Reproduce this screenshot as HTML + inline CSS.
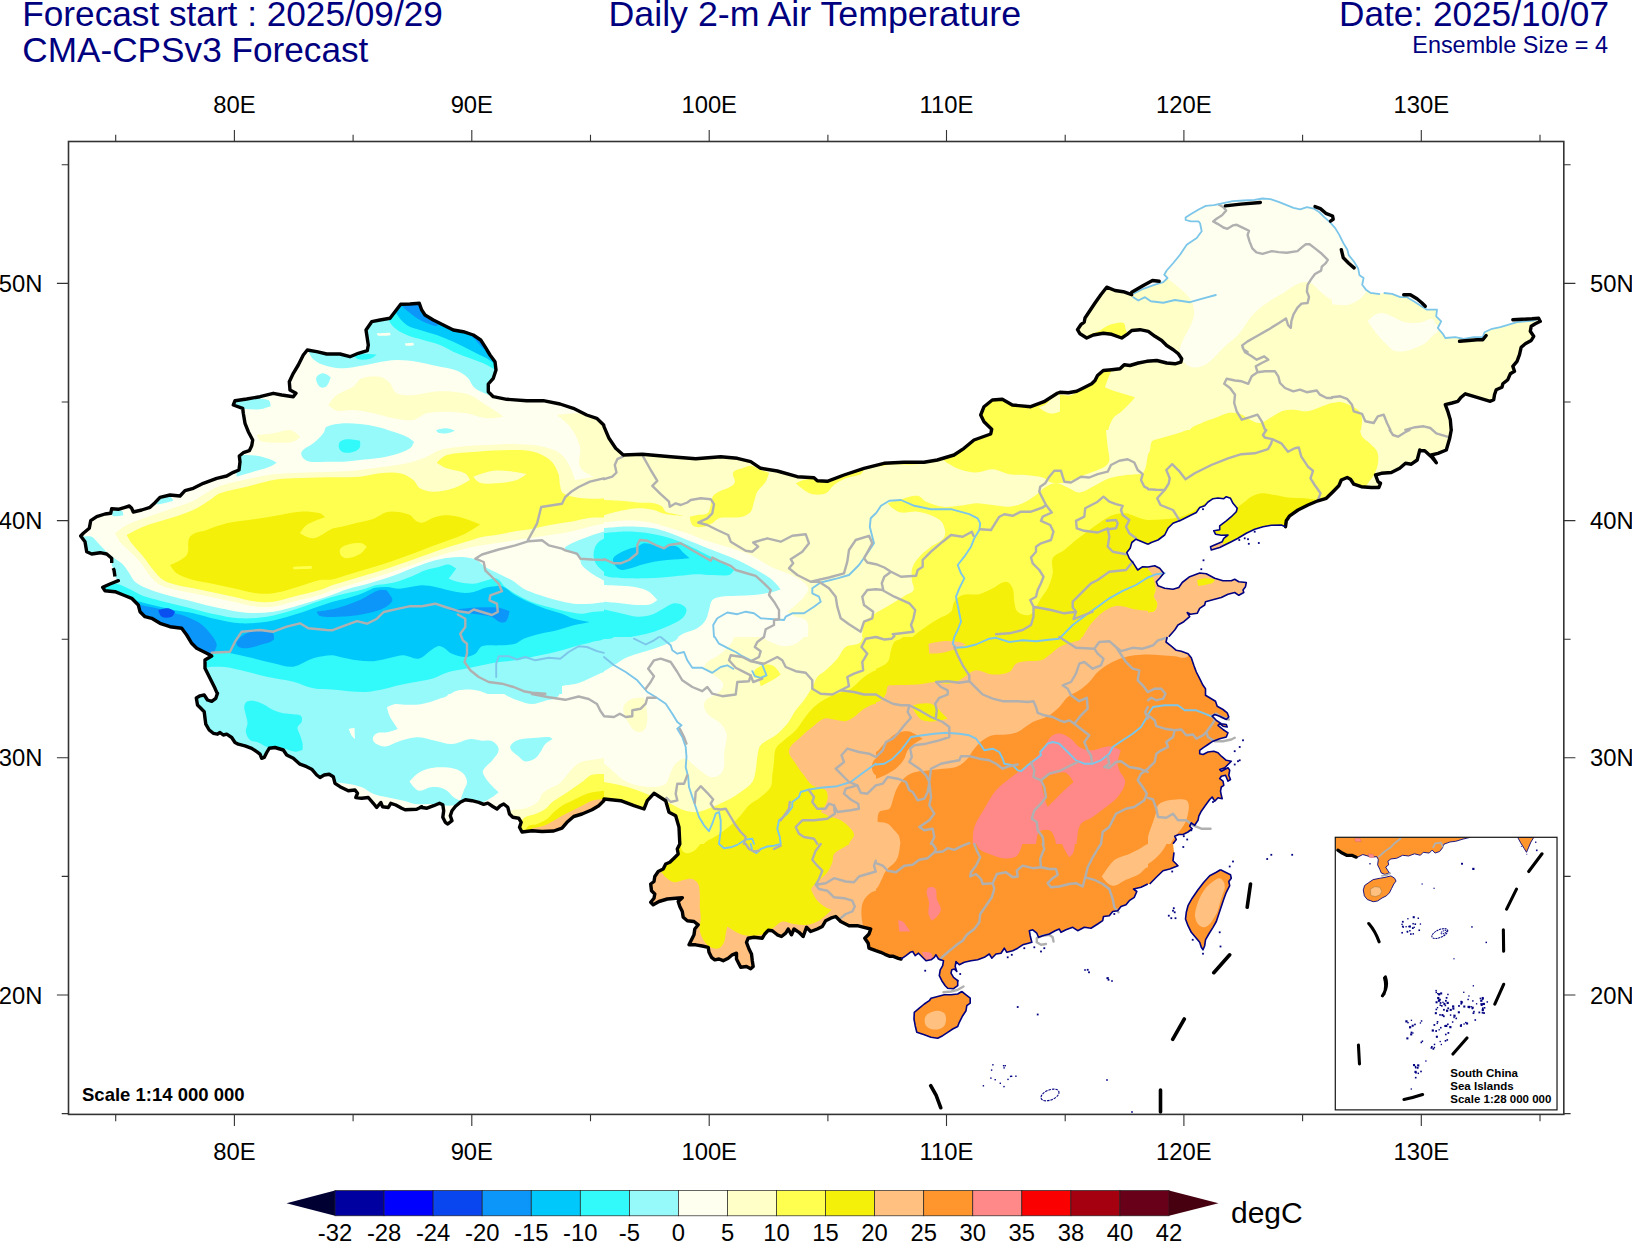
<!DOCTYPE html>
<html><head><meta charset="utf-8"><title>Daily 2-m Air Temperature</title>
<style>
html,body{margin:0;padding:0;background:#fff}
svg{display:block}
text{font-family:"Liberation Sans",sans-serif}
.t1{font-size:35.2px;fill:#00007f}
.t2{font-size:23.4px;fill:#00007f}
.ax{font-size:23.8px;fill:#000}
.cb{font-size:23.8px;fill:#000}
.u{font-size:30px;fill:#000}
.sm{font-size:18.5px;font-weight:bold;fill:#000}
.in{font-size:11.5px;font-weight:bold;fill:#000}
</style></head><body>
<svg width="1632" height="1241" viewBox="0 0 1632 1241">
<defs>
<clipPath id="cn"><path d="M80.7,536.0 L83.3,533.3 L89.3,528.3 L90.7,520.7 L96.7,516.7 L105.0,514.0 L110.7,513.3 L111.7,508.7 L118.3,509.3 L125.0,507.3 L129.3,506.0 L131.7,508.3 L133.3,512.0 L141.7,510.0 L150.0,507.3 L155.0,502.7 L160.0,497.3 L170.0,495.0 L180.0,496.0 L185.0,490.7 L193.3,488.3 L203.3,483.3 L216.7,478.3 L226.7,476.0 L233.3,472.3 L239.0,470.0 L240.0,461.7 L239.3,456.0 L243.3,452.7 L249.3,450.7 L251.7,445.7 L252.7,440.0 L248.3,431.7 L245.0,423.3 L243.3,413.3 L242.7,408.3 L233.3,405.0 L235.0,400.7 L246.7,399.0 L260.0,396.7 L273.3,393.3 L281.7,395.0 L293.3,396.7 L296.0,393.3 L290.0,390.0 L289.3,381.7 L293.3,373.3 L298.3,365.0 L303.3,355.0 L307.3,350.0 L316.7,351.7 L326.7,354.0 L340.0,354.0 L350.0,356.7 L358.3,353.3 L367.3,350.7 L368.3,345.0 L366.0,330.0 L371.7,321.7 L380.0,320.0 L390.0,318.3 L395.0,311.7 L400.7,304.3 L410.0,304.0 L419.3,303.3 L421.7,310.0 L425.0,315.0 L433.3,320.0 L443.3,325.0 L453.3,330.0 L463.3,331.7 L473.3,335.0 L480.7,340.0 L485.0,346.7 L490.0,355.0 L495.0,361.7 L496.0,370.0 L493.3,378.3 L488.3,384.0 L488.3,391.7 L493.3,396.7 L506.7,399.3 L526.7,400.7 L543.3,400.7 L560.0,404.0 L573.3,408.3 L586.7,415.0 L596.7,418.3 L603.7,425.0 L604.0,426.7 L609.0,438.3 L615.7,448.3 L623.3,455.0 L642.3,454.3 L670.7,456.7 L695.7,458.7 L720.7,456.7 L737.3,458.3 L750.7,461.7 L760.7,468.3 L777.3,471.0 L797.3,476.7 L814.0,477.7 L817.3,480.7 L827.3,481.3 L844.0,475.0 L864.0,468.3 L884.0,463.3 L904.0,462.3 L924.0,462.3 L937.3,460.0 L954.0,455.0 L964.0,448.3 L974.0,440.0 L990.7,434.0 L991.7,429.3 L984.0,421.7 L980.7,415.0 L984.0,406.7 L992.3,400.0 L1002.3,399.3 L1012.3,405.0 L1030.7,406.7 L1044.0,401.7 L1057.3,393.3 L1060.0,392.2 L1068.3,392.7 L1076.7,391.3 L1083.3,388.0 L1091.7,383.8 L1095.0,380.5 L1097.5,375.5 L1103.3,370.5 L1111.7,369.7 L1120.0,368.8 L1124.2,364.7 L1130.0,365.5 L1138.3,363.0 L1146.7,361.3 L1156.7,360.5 L1166.7,363.0 L1175.0,363.8 L1180.8,362.2 L1181.7,358.8 L1178.3,353.8 L1173.3,349.7 L1166.7,345.5 L1161.7,340.5 L1155.0,336.3 L1148.3,331.3 L1140.0,329.7 L1131.7,330.5 L1126.7,334.7 L1121.7,338.0 L1111.7,334.3 L1103.3,333.3 L1093.3,335.0 L1086.7,338.0 L1080.0,333.8 L1077.5,329.7 L1077.5,329.7 L1080.8,324.7 L1084.2,322.2 L1085.0,318.0 L1090.0,310.5 L1095.0,303.0 L1100.8,294.7 L1106.7,287.2 L1115.0,290.5 L1123.3,291.7 L1131.7,294.7 L1133.3,293.8 L1143.3,288.8 L1155.0,284.7 L1163.3,282.2 L1167.5,278.0 L1164.2,274.7 L1166.7,270.5 L1173.3,263.0 L1180.0,254.7 L1186.7,244.7 L1196.7,238.0 L1201.7,231.3 L1200.0,223.0 L1200.0,223.0 L1198.4,221.4 L1191.0,221.4 L1185.6,220.0 L1185.6,217.4 L1191.0,214.0 L1199.1,209.3 L1205.8,205.9 L1213.9,205.2 L1223.4,203.2 L1232.8,201.2 L1243.6,200.5 L1254.4,199.8 L1262.5,198.5 L1270.5,199.2 L1278.6,201.9 L1286.7,205.2 L1293.5,207.9 L1300.2,209.3 L1306.9,207.2 L1313.7,208.6 L1319.1,212.0 L1324.5,217.4 L1329.9,222.1 L1335.2,228.1 L1339.3,234.9 L1343.3,243.0 L1347.4,249.7 L1348.7,255.1 L1354.1,261.8 L1358.2,268.6 L1359.5,275.3 L1363.6,278.0 L1362.2,284.8 L1366.3,290.1 L1370.3,292.8 L1380.0,294.2 L1383.7,293.0 L1392.0,293.8 L1400.3,297.2 L1407.0,297.2 L1413.7,301.3 L1420.3,305.5 L1427.0,309.7 L1437.0,309.7 L1436.2,316.3 L1441.2,321.3 L1437.8,328.0 L1442.8,333.8 L1445.3,338.0 L1455.3,337.2 L1463.7,338.8 L1473.7,337.2 L1482.8,337.2 L1484.5,332.2 L1492.0,328.8 L1500.3,327.2 L1508.7,324.7 L1517.0,322.2 L1525.3,321.3 L1533.7,320.5 L1538.7,318.8 L1538.7,318.8 L1540.3,321.3 L1535.3,323.8 L1531.2,326.3 L1530.3,331.3 L1533.7,336.3 L1531.2,340.5 L1525.3,343.8 L1521.2,347.2 L1519.5,354.7 L1517.0,361.3 L1512.8,366.3 L1514.5,371.3 L1510.3,373.8 L1507.8,379.7 L1502.8,383.8 L1502.0,387.2 L1496.2,389.7 L1494.5,394.7 L1493.7,399.7 L1490.3,401.3 L1482.0,398.8 L1473.7,396.3 L1465.3,393.8 L1461.2,397.2 L1457.8,401.3 L1452.0,403.0 L1445.3,404.7 L1447.8,411.3 L1450.3,419.7 L1451.2,429.8 L1451.3,429.7 L1449.7,438.3 L1446.3,450.0 L1438.0,453.3 L1431.3,455.0 L1436.3,462.7 L1431.3,456.7 L1424.7,450.7 L1419.7,450.7 L1419.8,450.0 L1417.2,460.0 L1411.3,464.2 L1405.5,463.3 L1399.7,468.3 L1391.3,472.5 L1381.3,473.3 L1375.5,475.0 L1378.0,481.7 L1380.5,483.3 L1378.8,487.5 L1371.3,487.5 L1361.3,486.7 L1353.8,484.2 L1350.5,479.2 L1347.2,477.5 L1341.3,480.0 L1338.8,485.8 L1333.0,491.7 L1326.3,498.3 L1318.0,500.8 L1308.0,505.0 L1298.0,510.0 L1289.7,515.8 L1286.3,520.8 L1285.5,526.7 L1285.5,526.7 L1281.3,525.0 L1271.3,525.3 L1263.0,526.7 L1254.7,529.2 L1246.3,533.3 L1238.0,538.3 L1231.3,541.7 L1224.7,545.0 L1219.7,547.5 L1211.3,550.0 L1210.5,546.7 L1216.3,544.2 L1222.2,541.7 L1223.8,538.3 L1228.0,535.0 L1221.3,535.3 L1215.5,534.2 L1213.8,530.8 L1219.7,529.7 L1219.7,525.8 L1226.3,520.8 L1231.3,516.7 L1236.3,511.7 L1237.2,508.3 L1233.0,503.3 L1230.5,498.3 L1226.3,496.7 L1223.8,498.7 L1218.0,498.0 L1213.0,498.7 L1208.0,502.0 L1204.7,505.8 L1199.7,507.5 L1196.3,512.5 L1189.7,515.8 L1181.3,520.0 L1173.0,523.3 L1168.0,528.3 L1164.7,535.0 L1158.0,540.0 L1151.3,542.5 L1148.0,544.2 L1148.0,544.2 L1136.0,539.2 L1131.8,542.5 L1130.2,548.3 L1126.8,552.5 L1129.3,558.3 L1133.5,563.3 L1137.7,570.0 L1142.7,566.7 L1148.0,567.0 L1148.0,567.0 L1154.7,565.8 L1159.7,568.3 L1163.8,573.3 L1159.7,578.3 L1156.3,581.7 L1158.0,585.8 L1164.7,588.3 L1173.0,589.2 L1178.8,587.5 L1182.2,582.5 L1189.7,576.7 L1199.7,573.0 L1206.3,573.7 L1214.7,578.3 L1223.0,580.8 L1231.3,580.8 L1234.7,579.2 L1238.8,581.7 L1246.3,582.5 L1245.5,586.7 L1243.0,590.0 L1243.8,592.5 L1238.8,595.3 L1234.7,592.5 L1228.0,594.2 L1221.3,597.5 L1214.7,599.2 L1205.5,601.7 L1204.7,605.0 L1199.7,608.3 L1197.2,613.3 L1190.5,614.2 L1187.2,612.5 L1189.7,616.7 L1183.8,621.7 L1178.0,625.0 L1174.7,630.0 L1168.8,636.8 L1167.2,637.0 L1166.0,642.0 L1171.3,646.2 L1176.3,650.3 L1181.3,651.2 L1188.0,653.7 L1191.3,657.8 L1193.8,665.3 L1196.3,672.0 L1199.7,678.7 L1203.0,685.3 L1205.5,688.7 L1205.5,695.3 L1211.3,698.7 L1215.5,701.2 L1217.2,706.2 L1223.0,709.5 L1227.2,712.8 L1228.8,717.0 L1226.3,719.5 L1219.7,716.2 L1214.7,714.5 L1212.2,716.2 L1216.3,720.3 L1221.3,723.7 L1226.3,724.5 L1227.2,727.0 L1223.0,726.2 L1219.7,723.7 L1218.0,725.3 L1223.0,729.5 L1228.0,732.8 L1226.3,737.0 L1219.7,738.7 L1213.0,741.2 L1208.0,744.5 L1203.0,747.8 L1199.7,750.3 L1199.7,753.7 L1203.0,754.5 L1208.0,752.0 L1213.8,751.2 L1218.0,752.8 L1221.3,756.2 L1226.3,760.3 L1231.3,761.2 L1228.0,764.5 L1224.7,767.8 L1219.7,769.5 L1221.3,771.2 L1228.0,767.8 L1229.7,770.3 L1228.8,775.3 L1230.5,779.5 L1228.0,781.2 L1225.5,775.3 L1221.3,776.2 L1219.7,778.7 L1223.0,781.2 L1223.8,785.3 L1221.3,787.0 L1220.5,791.2 L1221.3,795.3 L1222.2,798.7 L1218.0,797.8 L1214.7,801.2 L1212.2,797.0 L1209.7,799.5 L1205.5,805.3 L1201.3,811.2 L1198.8,816.2 L1198.0,820.3 L1194.7,825.3 L1191.3,822.8 L1189.7,826.2 L1192.2,828.7 L1188.0,832.0 L1183.0,834.5 L1178.8,834.5 L1174.7,836.2 L1176.3,839.5 L1173.0,843.8 L1174.0,852.3 L1173.0,860.7 L1178.0,865.7 L1169.7,869.0 L1163.0,870.7 L1156.3,877.3 L1149.7,884.0 L1147.8,884.0 L1141.0,887.3 L1133.5,889.0 L1136.8,891.5 L1134.3,897.3 L1129.3,900.7 L1126.0,904.8 L1121.0,906.5 L1117.7,910.7 L1112.7,911.5 L1109.3,915.7 L1103.5,916.5 L1102.7,920.7 L1097.7,924.0 L1091.0,928.2 L1084.3,927.3 L1077.7,930.7 L1072.7,927.3 L1066.0,929.8 L1061.0,932.3 L1059.3,929.0 L1055.2,930.7 L1049.3,934.0 L1042.7,935.7 L1038.5,937.3 L1036.8,933.2 L1032.7,929.8 L1029.3,930.7 L1030.2,935.7 L1031.8,942.3 L1028.5,943.2 L1022.7,944.8 L1017.7,948.2 L1012.7,950.7 L1006.8,952.3 L1004.3,948.2 L1001.0,953.2 L996.0,954.0 L991.8,958.2 L989.3,954.0 L984.3,957.3 L977.7,959.8 L971.0,960.7 L964.3,962.3 L959.3,964.8 L956.0,961.5 L955.2,966.5 L956.8,971.5 L954.3,969.0 L951.8,969.8 L951.0,973.2 L953.5,977.3 L957.7,980.7 L957.7,985.7 L953.5,988.7 L947.7,988.2 L945.2,985.7 L941.8,980.7 L939.3,975.7 L940.2,969.8 L942.7,965.7 L943.5,960.7 L938.5,959.0 L936.0,954.8 L934.3,957.3 L931.0,959.8 L926.0,960.7 L921.0,955.7 L918.5,953.2 L915.2,955.7 L912.7,951.5 L910.2,952.3 L906.0,955.7 L901.0,959.0 L901.0,959.0 L898.3,958.3 L893.3,956.3 L890.0,956.3 L885.0,954.3 L880.7,952.3 L875.8,950.7 L869.0,948.2 L868.2,943.2 L864.8,938.2 L869.0,934.0 L870.7,929.0 L864.0,927.3 L857.3,925.7 L849.0,925.7 L840.7,921.5 L835.7,916.5 L830.7,918.2 L825.7,920.7 L822.3,926.5 L817.3,929.0 L810.7,931.5 L806.5,927.3 L803.2,936.5 L799.0,932.3 L794.0,929.0 L791.5,934.8 L788.2,929.0 L785.7,933.2 L781.5,936.5 L777.3,934.8 L772.3,930.7 L768.2,930.3 L764.8,934.0 L762.3,938.2 L754.0,937.3 L748.2,938.2 L746.5,942.3 L749.0,949.0 L751.5,954.0 L752.3,960.7 L753.2,966.5 L750.7,968.7 L746.5,966.5 L740.7,967.3 L739.0,964.0 L736.5,959.0 L736.5,953.2 L732.3,954.8 L728.2,958.2 L723.2,960.7 L719.0,959.0 L714.8,959.8 L711.5,957.3 L709.0,952.3 L708.2,947.3 L702.3,946.0 L695.7,944.8 L689.0,944.8 L691.5,939.8 L694.0,934.8 L694.8,929.0 L698.2,924.8 L694.0,921.5 L687.3,920.7 L683.2,917.3 L682.3,911.5 L679.8,906.5 L678.2,901.5 L682.3,897.7 L675.7,898.2 L667.3,899.0 L659.0,901.5 L653.2,904.8 L650.7,902.3 L654.0,898.2 L654.8,894.0 L651.5,890.7 L650.7,884.0 L654.0,881.5 L654.8,876.5 L658.2,871.5 L663.2,869.0 L665.7,864.0 L669.8,862.3 L674.0,858.2 L678.2,854.0 L677.3,849.0 L679.8,844.0 L679.0,827.3 L675.7,815.7 L669.0,812.3 L665.7,800.7 L654.0,793.3 L647.3,800.7 L644.0,809.0 L634.0,805.7 L620.7,800.7 L604.0,799.0 L603.8,800.7 L598.7,805.7 L592.0,809.8 L582.0,814.0 L573.7,816.5 L567.0,822.3 L562.0,828.2 L553.7,831.0 L542.0,831.5 L532.0,830.7 L522.0,832.0 L519.5,827.3 L521.2,822.3 L518.7,818.2 L512.8,817.3 L509.5,814.0 L507.8,807.3 L503.7,804.0 L500.3,805.7 L497.0,809.0 L492.8,806.5 L487.8,803.2 L483.7,804.3 L478.7,802.3 L472.0,800.7 L465.3,799.8 L460.3,802.3 L455.3,806.5 L452.0,810.7 L450.3,815.7 L452.0,820.7 L447.8,824.0 L445.3,822.3 L442.8,817.3 L443.7,810.7 L442.8,804.8 L439.5,803.2 L433.7,805.7 L427.0,808.2 L420.3,807.3 L421.8,806.7 L416.7,809.2 L405.0,809.7 L401.7,808.3 L395.8,805.0 L390.8,803.3 L388.3,807.5 L382.5,806.7 L380.8,802.5 L376.7,807.5 L373.3,803.3 L368.3,797.5 L361.7,798.3 L355.8,797.5 L357.5,793.3 L355.0,790.0 L348.3,790.8 L340.0,786.7 L335.0,783.3 L333.3,776.7 L329.2,774.2 L324.2,775.0 L320.0,777.5 L316.7,775.0 L311.7,769.2 L306.7,766.7 L300.0,764.2 L293.3,758.3 L286.7,755.0 L283.3,750.0 L275.0,747.5 L269.2,748.3 L266.7,752.5 L264.2,757.5 L261.7,758.3 L260.0,754.2 L256.7,751.7 L251.7,748.3 L245.0,745.8 L238.3,744.2 L235.0,742.5 L231.7,737.5 L226.7,734.2 L223.3,735.0 L220.0,732.5 L217.5,734.2 L213.3,733.3 L209.2,730.0 L205.8,724.2 L205.0,718.3 L204.2,711.7 L200.8,708.3 L197.5,705.0 L196.3,698.0 L200.0,695.8 L204.2,695.0 L207.5,700.0 L211.7,701.3 L215.8,698.3 L217.5,693.3 L217.3,693.7 L215.0,688.3 L210.0,678.3 L205.0,668.3 L205.0,660.0 L211.7,656.0 L206.7,653.3 L196.7,648.3 L191.7,643.3 L186.7,635.0 L181.7,628.3 L170.0,626.7 L160.0,623.3 L151.7,618.3 L145.0,616.7 L140.0,611.7 L138.3,605.0 L131.7,598.3 L123.3,595.0 L115.0,591.7 L105.0,590.7 L102.7,587.3 L110.0,584.0 L118.3,580.7 L118.3,580.7 L115.0,576.7 L114.0,570.0 L111.7,565.0 L111.7,558.3 L106.7,554.0 L100.0,552.7 L100.0,552.7 L91.7,554.0 L86.7,551.7 L85.0,541.7 L80.7,536.0Z M1220.5,869.8 L1225.5,872.3 L1230.5,874.8 L1231.3,878.2 L1228.8,881.5 L1229.7,885.7 L1226.3,892.3 L1223.8,899.0 L1221.3,906.5 L1218.8,914.0 L1216.3,921.5 L1213.0,927.3 L1208.8,934.0 L1205.5,939.8 L1204.7,945.7 L1203.0,949.8 L1201.3,947.3 L1199.7,942.3 L1195.5,937.3 L1191.3,932.3 L1188.0,925.7 L1185.5,919.0 L1186.3,912.3 L1188.0,905.7 L1192.2,898.2 L1198.0,889.8 L1203.8,882.3 L1209.7,875.7 L1216.3,872.3 L1220.5,869.8Z M961.8,991.5 L966.0,994.8 L970.2,998.2 L970.2,1003.2 L966.8,1005.7 L966.0,1010.7 L962.7,1015.7 L959.3,1022.3 L957.7,1026.5 L952.7,1029.0 L947.7,1032.3 L942.7,1035.7 L937.7,1038.2 L931.0,1037.3 L924.3,1034.8 L916.8,1032.3 L915.2,1025.7 L914.0,1019.0 L914.3,1012.3 L919.3,1008.2 L924.3,1004.0 L929.3,1000.7 L931.0,998.2 L937.7,996.5 L944.3,994.8 L951.0,994.8 L957.7,994.0 L961.8,991.5Z"/></clipPath>
<clipPath id="tA"><rect x="60" y="280" width="544" height="414"/></clipPath>
<clipPath id="tB1"><rect x="604" y="430" width="272" height="207"/></clipPath>
<clipPath id="tB2"><rect x="876" y="430" width="272" height="207"/></clipPath>
<clipPath id="tB3"><rect x="1148" y="430" width="272" height="207"/></clipPath>
<clipPath id="tBU"><rect x="876" y="340" width="184" height="90"/></clipPath>
<clipPath id="tC0"><rect x="1160" y="185" width="220" height="39"/></clipPath>
<clipPath id="tC1"><rect x="1060" y="223" width="272" height="207"/></clipPath>
<clipPath id="tC2"><rect x="1332" y="223" width="272" height="207"/></clipPath>
<clipPath id="tD0"><rect x="150" y="694" width="182" height="173"/></clipPath>
<clipPath id="tD1"><rect x="332" y="694" width="272" height="207"/></clipPath>
<clipPath id="tE1"><rect x="604" y="637" width="272" height="207"/></clipPath>
<clipPath id="tE2"><rect x="876" y="637" width="272" height="207"/></clipPath>
<clipPath id="tE3"><rect x="1148" y="637" width="272" height="207"/></clipPath>
<clipPath id="tG1"><rect x="604" y="844" width="272" height="207"/></clipPath>
<clipPath id="tG2"><rect x="876" y="844" width="272" height="207"/></clipPath>
<clipPath id="tG3"><rect x="1148" y="844" width="272" height="207"/></clipPath>
</defs>
<rect width="1632" height="1241" fill="#fff"/>
<text class="t1" x="22.3" y="26.2">Forecast start : 2025/09/29</text>
<text class="t1" x="22.3" y="61.8">CMA-CPSv3 Forecast</text>
<text class="t1" x="814.8" y="26.2" text-anchor="middle" textLength="412.6" lengthAdjust="spacingAndGlyphs">Daily 2-m Air Temperature</text>
<text class="t1" x="1609" y="26.2" text-anchor="end">Date: 2025/10/07</text>
<text class="t2" x="1608" y="52.8" text-anchor="end">Ensemble Size = 4</text>
<g clip-path="url(#cn)">
<rect x="60" y="150" width="1510" height="960" fill="#FFFFC8"/>
<g clip-path="url(#tA)">
<rect x="59.0" y="279.0" width="546.0" height="416.0" fill="#FFFFF0"/>
<path fill="#96FAFA" d="M306.7,346.7 C306.7,346.7 309.9,356.1 313.3,359.3 C316.9,362.8 322.0,364.6 326.7,366.0 C332.0,367.6 337.8,368.3 343.3,368.3 C348.9,368.3 354.5,366.9 360.0,366.0 C365.5,365.1 371.1,363.6 376.7,362.7 C383.2,361.6 390.0,360.2 396.7,360.0 C403.3,359.8 410.1,360.7 416.7,361.7 C423.3,362.7 430.1,364.6 436.7,366.0 C442.7,367.3 449.2,367.9 455.0,370.0 C459.4,371.6 463.8,374.1 467.3,377.3 C470.3,380.0 471.1,384.6 474.0,387.3 C476.6,389.8 480.0,391.4 483.3,392.7 C486.5,393.9 490.4,396.6 493.3,395.0 C499.2,391.8 504.3,386.2 506.7,380.0 C509.0,373.8 508.5,366.3 506.7,360.0 C504.0,350.5 501.0,339.4 493.3,333.3 C473.6,317.7 450.2,305.3 426.7,296.7 C416.3,292.9 403.9,293.5 393.3,296.7 C381.0,300.4 367.1,306.0 360.0,316.7 C354.5,324.9 360.0,346.7 360.0,346.7 C360.0,346.7 337.7,346.7 326.7,346.7 C320.1,346.7 306.7,346.7 306.7,346.7Z"/>
<path fill="#32FAFA" d="M388.3,316.7 C388.3,320.4 390.7,324.1 393.3,326.7 C397.0,330.3 401.9,332.9 406.7,335.0 C411.9,337.3 417.8,338.4 423.3,340.0 C428.8,341.6 434.6,342.9 440.0,345.0 C444.6,346.8 448.8,349.7 453.3,351.7 C458.7,354.1 464.5,356.2 470.0,358.3 C474.4,360.0 479.1,361.4 483.3,363.3 C487.9,365.4 496.7,370.7 496.7,370.7 C496.7,370.7 507.1,364.8 506.7,360.0 C505.8,350.2 501.0,339.4 493.3,333.3 C473.6,317.7 450.5,304.6 426.7,296.7 C416.2,293.2 403.1,294.9 393.3,300.0 C388.2,302.7 388.3,310.9 388.3,316.7Z"/>
<path fill="#32FAFA" d="M353.3,355.3 C353.3,355.3 362.2,354.1 366.7,354.0 C370.0,353.9 376.7,354.7 376.7,354.7 C376.7,354.7 372.5,358.0 370.0,358.7 C366.3,359.6 362.1,360.1 358.3,359.3 C356.3,358.9 353.3,355.3 353.3,355.3Z"/>
<path fill="#00C8FA" d="M395.0,310.7 C397.3,316.3 401.8,321.3 406.7,325.0 C410.4,327.9 415.5,328.5 420.0,330.0 C425.4,331.8 431.2,333.1 436.7,335.0 C442.3,337.0 447.9,339.2 453.3,341.7 C458.9,344.2 464.5,347.2 470.0,350.0 C475.5,352.8 481.2,355.5 486.7,358.3 C490.2,360.2 493.4,364.3 497.3,364.0 C501.2,363.7 506.7,356.7 506.7,356.7 C506.7,356.7 500.4,338.7 493.3,333.3 C473.2,318.3 450.4,304.9 426.7,296.7 C417.2,293.4 405.8,296.0 396.7,300.0 C393.4,301.4 393.7,307.4 395.0,310.7Z"/>
<path fill="#0C96FA" d="M399.3,303.3 C399.3,303.3 403.3,307.4 405.3,309.3 C406.9,310.8 408.6,312.1 410.3,313.3 C413.0,315.4 415.8,317.6 418.7,319.3 C421.3,320.9 424.2,322.2 427.0,323.3 C429.7,324.4 432.5,325.6 435.3,326.0 C436.5,326.2 438.7,325.0 438.7,325.0 C438.7,325.0 434.3,322.0 432.0,320.7 C429.9,319.4 427.4,318.7 425.3,317.3 C424.0,316.5 422.9,315.3 422.0,314.0 C421.1,312.8 419.9,311.5 420.0,310.0 C420.3,306.5 423.3,300.0 423.3,300.0 C423.3,300.0 399.3,303.3 399.3,303.3Z"/>
<path fill="#0C96FA" d="M467.3,332.7 C467.3,332.7 472.6,337.0 475.0,339.3 C477.0,341.4 478.6,344.0 480.7,346.0 C481.8,347.2 483.0,348.9 484.7,349.0 C486.1,349.1 488.3,346.7 488.3,346.7 C488.3,346.7 484.6,342.1 482.7,340.0 C480.8,337.9 478.9,335.7 476.7,334.0 C475.2,332.9 473.5,331.9 471.7,331.7 C470.2,331.5 467.3,332.7 467.3,332.7Z"/>
<path fill="#FFFFF0" d="M376.7,333.3 C376.7,333.3 390.0,332.7 390.0,332.7 C390.0,332.7 390.7,335.3 390.7,335.3 C390.7,335.3 382.4,336.2 378.3,335.7 C377.4,335.5 376.7,333.3 376.7,333.3Z"/>
<path fill="#FFFFF0" d="M405.0,343.3 C405.0,343.3 413.3,342.7 413.3,342.7 C413.3,342.7 414.0,345.3 414.0,345.3 C414.0,345.3 408.6,346.2 406.0,345.7 C405.2,345.5 405.0,343.3 405.0,343.3Z"/>
<path fill="#96FAFA" d="M316.7,376.7 C318.2,374.7 320.9,373.2 323.3,373.3 C326.1,373.5 330.7,377.3 330.7,377.3 C330.7,377.3 328.9,383.8 326.7,386.0 C325.2,387.4 322.5,388.1 320.7,387.3 C318.6,386.4 317.5,383.8 316.7,381.7 C316.1,380.1 315.6,378.0 316.7,376.7Z"/>
<path fill="#96FAFA" d="M228.3,400.7 C228.3,400.7 240.6,398.8 246.7,398.7 C253.8,398.5 261.5,397.9 268.3,400.0 C270.4,400.6 270.7,406.0 270.7,406.0 C270.7,406.0 263.7,409.0 260.0,409.3 C254.5,409.9 248.8,409.0 243.3,408.7 C238.9,408.4 233.9,409.4 230.0,407.3 C228.0,406.3 228.3,400.7 228.3,400.7Z"/>
<path fill="#96FAFA" d="M301.7,451.7 C304.3,447.7 309.7,446.4 313.3,443.3 C316.9,440.3 320.4,437.0 323.3,433.3 C324.9,431.4 324.5,427.8 326.7,426.7 C331.7,424.2 337.7,423.8 343.3,423.3 C348.8,422.9 354.5,423.5 360.0,424.0 C365.5,424.6 371.2,425.4 376.7,426.7 C382.3,428.0 387.9,429.9 393.3,431.7 C397.8,433.2 402.4,434.6 406.7,436.7 C409.3,437.9 414.0,441.7 414.0,441.7 C414.0,441.7 412.2,446.9 410.0,448.3 C405.0,451.5 399.0,453.3 393.3,455.0 C388.0,456.6 382.2,457.5 376.7,458.3 C371.2,459.2 365.5,459.4 360.0,460.0 C354.5,460.6 348.9,461.4 343.3,461.7 C337.8,461.9 332.2,461.7 326.7,461.7 C321.2,461.7 315.4,462.4 310.0,461.7 C307.6,461.3 304.9,460.2 303.3,458.3 C301.9,456.6 300.4,453.6 301.7,451.7Z"/>
<path fill="#32FAFA" d="M339.3,442.7 C340.6,440.3 344.0,439.6 346.7,439.3 C351.1,438.9 360.0,440.7 360.0,440.7 C360.0,440.7 361.0,446.4 359.3,448.3 C357.2,450.9 353.4,452.2 350.0,452.7 C346.9,453.1 343.0,452.8 340.7,450.7 C338.7,448.8 338.1,445.0 339.3,442.7Z"/>
<path fill="#96FAFA" d="M436.0,430.0 C436.0,430.0 443.1,428.2 446.7,428.3 C449.5,428.4 455.0,430.7 455.0,430.7 C455.0,430.7 449.5,433.0 446.7,433.3 C443.9,433.7 441.0,433.5 438.3,432.7 C437.2,432.3 436.0,430.0 436.0,430.0Z"/>
<path fill="#96FAFA" d="M235.0,455.0 C235.0,455.0 249.6,454.8 256.7,455.7 C261.2,456.2 265.7,457.8 270.0,459.3 C272.3,460.1 276.7,462.7 276.7,462.7 C276.7,462.7 271.3,466.2 268.3,467.3 C263.5,469.2 258.3,470.2 253.3,471.7 C247.8,473.3 236.7,476.7 236.7,476.7 C236.7,476.7 235.0,455.0 235.0,455.0Z"/>
<path fill="#96FAFA" d="M153.3,498.3 C153.3,498.3 164.5,496.0 170.0,496.7 C171.7,496.9 173.3,500.7 173.3,500.7 C173.3,500.7 164.5,503.3 160.0,504.0 C157.8,504.4 153.3,504.0 153.3,504.0 C153.3,504.0 153.3,498.3 153.3,498.3Z"/>
<path fill="#96FAFA" d="M110.0,511.7 C110.0,511.7 117.9,509.6 121.7,510.7 C123.2,511.1 123.3,515.3 123.3,515.3 C123.3,515.3 116.5,516.9 113.3,516.0 C111.6,515.5 110.0,511.7 110.0,511.7Z"/>
<path fill="#FFFFC8" d="M328.3,405.0 C328.3,405.0 333.2,397.5 336.7,395.0 C341.6,391.4 348.2,390.1 353.3,386.7 C356.6,384.5 358.0,379.7 361.7,378.3 C367.4,376.2 374.0,375.6 380.0,376.7 C383.9,377.4 387.2,380.5 390.0,383.3 C392.8,386.1 393.1,391.6 396.7,393.3 C401.6,395.8 407.8,395.3 413.3,395.0 C420.0,394.7 426.7,392.2 433.3,391.7 C439.9,391.1 446.8,391.1 453.3,391.7 C458.9,392.2 464.8,393.0 470.0,395.0 C474.8,396.9 478.9,400.6 483.3,403.3 C487.7,406.1 492.3,408.8 496.7,411.7 C499.0,413.2 503.3,416.7 503.3,416.7 C503.3,416.7 492.2,418.8 486.7,418.3 C479.9,417.7 473.4,414.5 466.7,413.3 C460.1,412.2 453.3,411.7 446.7,411.7 C440.0,411.7 433.1,411.7 426.7,413.3 C421.9,414.5 418.2,419.3 413.3,420.0 C406.8,421.0 399.9,419.4 393.3,418.3 C386.6,417.2 380.0,414.7 373.3,413.3 C366.8,412.0 360.0,410.5 353.3,410.0 C347.8,409.6 342.1,411.7 336.7,410.7 C333.4,410.0 328.3,405.0 328.3,405.0Z"/>
<path fill="#FFFFC8" d="M256.7,435.0 C256.7,435.0 267.9,434.2 273.3,433.3 C278.9,432.5 284.4,429.3 290.0,430.0 C293.9,430.5 300.0,436.7 300.0,436.7 C300.0,436.7 296.0,441.1 293.3,441.7 C286.9,443.1 279.9,442.9 273.3,442.7 C268.9,442.5 264.0,442.5 260.0,440.7 C258.0,439.8 256.7,435.0 256.7,435.0Z"/>
<path fill="#FFFFC8" d="M556.7,415.0 C556.7,415.0 572.3,412.6 580.0,413.3 C589.0,414.2 606.7,420.0 606.7,420.0 C606.7,420.0 606.7,480.0 606.7,480.0 C606.7,480.0 597.4,478.7 593.3,476.7 C588.4,474.2 582.2,471.7 580.0,466.7 C577.3,460.6 581.6,453.1 580.0,446.7 C578.2,439.5 574.4,432.6 570.0,426.7 C566.5,422.0 556.7,415.0 556.7,415.0Z"/>
<path fill="#FFFFC8" d="M115.0,533.3 C115.0,533.3 122.4,527.1 126.7,525.0 C133.0,521.8 140.0,519.7 146.7,517.3 C154.3,514.6 162.3,512.1 170.0,509.3 C177.7,506.6 185.9,504.1 193.3,500.7 C198.0,498.5 202.2,495.1 206.7,492.7 C211.0,490.3 215.3,487.6 220.0,486.0 C228.6,483.1 237.8,481.3 246.7,479.3 C255.4,477.4 264.4,475.4 273.3,474.3 C282.1,473.2 291.2,473.1 300.0,472.7 C308.8,472.3 317.9,472.3 326.7,472.0 C335.5,471.7 344.6,471.4 353.3,470.7 C362.2,469.9 371.2,468.5 380.0,467.3 C388.8,466.1 398.0,465.3 406.7,463.3 C413.4,461.8 420.2,459.3 426.7,456.7 C431.2,454.8 435.3,451.4 440.0,450.0 C446.4,448.1 453.3,447.4 460.0,446.7 C468.8,445.7 477.9,445.4 486.7,445.0 C495.5,444.6 504.5,443.8 513.3,444.0 C522.2,444.2 531.3,444.3 540.0,446.0 C546.9,447.4 554.2,449.3 560.0,453.3 C564.5,456.5 567.3,461.9 570.0,466.7 C572.3,470.8 575.0,480.0 575.0,480.0 C575.0,480.0 587.3,477.9 593.3,476.7 C597.8,475.7 606.7,473.3 606.7,473.3 C606.7,473.3 606.7,523.3 606.7,523.3 C606.7,523.3 601.3,523.9 598.7,524.5 C593.1,525.7 587.5,527.3 582.0,528.7 C576.5,530.0 570.9,531.7 565.3,532.8 C559.9,533.9 554.2,534.5 548.7,535.3 C543.2,536.2 537.5,537.0 532.0,537.8 C526.5,538.7 520.8,539.5 515.3,540.3 C509.8,541.2 504.2,542.0 498.7,542.8 C493.2,543.7 487.5,544.4 482.0,545.3 C476.5,546.3 470.8,547.4 465.3,548.7 C459.8,549.9 454.1,551.3 448.7,552.8 C443.1,554.4 437.5,556.1 432.0,557.8 C426.5,559.6 420.8,561.7 415.3,563.7 C409.8,565.6 404.2,567.6 398.7,569.5 C393.2,571.4 387.5,573.5 382.0,575.3 C376.5,577.1 370.8,578.7 365.3,580.3 C359.8,582.0 354.2,583.7 348.7,585.3 C343.2,587.0 337.4,588.5 332.0,590.3 C328.0,591.7 324.1,593.8 320.0,595.0 C311.3,597.6 302.1,599.5 293.3,601.7 C286.7,603.3 280.1,605.7 273.3,606.7 C267.9,607.4 262.1,607.3 256.7,606.7 C248.9,605.7 241.0,603.3 233.3,601.7 C225.6,600.0 217.7,598.3 210.0,596.7 C204.5,595.5 198.8,594.4 193.3,593.3 C187.8,592.2 182.1,591.4 176.7,590.0 C171.1,588.6 165.0,587.8 160.0,585.0 C155.8,582.7 152.5,578.7 149.3,575.0 C145.8,570.9 143.5,565.8 140.0,561.7 C136.5,557.5 132.2,553.9 128.3,550.0 C125.6,547.2 122.4,544.7 120.0,541.7 C118.0,539.2 115.0,533.3 115.0,533.3Z"/>
<path fill="#FFFF50" d="M126.7,535.0 C126.7,535.0 137.6,528.9 143.3,526.7 C151.9,523.4 161.3,521.2 170.0,518.3 C177.8,515.7 185.9,513.4 193.3,510.0 C199.2,507.3 204.6,503.4 210.0,500.0 C213.4,497.9 216.3,494.7 220.0,493.3 C228.5,490.2 237.9,488.9 246.7,486.7 C255.5,484.5 264.4,481.6 273.3,480.0 C279.9,478.8 286.7,478.7 293.3,478.3 C304.3,477.8 315.7,477.6 326.7,477.3 C337.7,477.1 349.0,477.5 360.0,476.7 C366.7,476.2 373.3,473.9 380.0,473.3 C386.6,472.8 393.5,472.0 400.0,473.3 C404.8,474.3 409.4,477.0 413.3,480.0 C416.2,482.1 417.0,486.6 420.0,488.3 C423.9,490.6 428.8,491.7 433.3,491.7 C440.0,491.7 447.0,490.4 453.3,488.3 C459.2,486.5 470.0,480.0 470.0,480.0 C470.0,480.0 467.5,474.6 465.0,473.3 C459.4,470.5 452.5,470.5 446.7,468.3 C443.1,467.0 436.7,462.7 436.7,462.7 C436.7,462.7 442.7,456.1 446.7,455.0 C456.3,452.4 466.7,452.5 476.7,451.7 C487.6,450.8 499.0,450.0 510.0,450.0 C517.7,450.0 525.8,449.8 533.3,451.7 C539.3,453.2 545.4,456.0 550.0,460.0 C553.9,463.4 556.4,468.5 558.3,473.3 C559.8,476.9 559.1,481.2 560.0,485.0 C560.7,487.9 560.8,491.9 563.3,493.3 C569.2,496.7 576.6,497.6 583.3,498.3 C591.0,499.2 606.7,498.3 606.7,498.3 C606.7,498.3 606.7,517.7 606.7,517.7 C606.7,517.7 595.7,517.3 590.3,517.8 C584.8,518.4 579.2,520.2 573.7,521.2 C568.2,522.1 562.5,522.7 557.0,523.7 C551.5,524.6 545.8,525.9 540.3,527.0 C536.5,527.8 532.6,528.9 528.7,529.5 C524.3,530.2 519.7,530.4 515.3,531.2 C509.8,532.1 504.2,533.5 498.7,534.5 C493.2,535.5 487.4,535.8 482.0,537.0 C476.4,538.3 470.8,540.4 465.3,542.0 C459.8,543.6 454.1,545.2 448.7,547.0 C443.1,548.8 437.5,550.9 432.0,552.8 C426.5,554.8 420.8,556.7 415.3,558.7 C409.8,560.6 404.2,562.6 398.7,564.5 C393.2,566.4 387.5,568.5 382.0,570.3 C376.5,572.1 370.8,573.7 365.3,575.3 C359.8,577.0 354.2,578.7 348.7,580.3 C343.2,582.0 337.4,583.5 332.0,585.3 C328.0,586.7 324.1,588.8 320.0,590.0 C311.3,592.6 302.1,594.5 293.3,596.7 C286.7,598.3 280.1,600.7 273.3,601.7 C267.9,602.4 262.1,602.3 256.7,601.7 C248.9,600.7 241.0,598.3 233.3,596.7 C225.6,595.0 217.7,593.3 210.0,591.7 C204.5,590.5 198.8,589.4 193.3,588.3 C187.8,587.2 182.1,586.5 176.7,585.0 C172.1,583.7 167.3,582.5 163.3,580.0 C159.4,577.5 156.4,573.5 153.3,570.0 C149.8,565.8 146.8,560.9 143.3,556.7 C139.6,552.1 135.2,548.0 131.7,543.3 C129.7,540.8 126.7,535.0 126.7,535.0Z"/>
<path fill="#FFFFC8" d="M473.3,476.7 C473.3,476.7 486.5,471.5 493.3,470.7 C499.9,469.8 506.8,471.0 513.3,471.7 C517.8,472.1 526.7,474.0 526.7,474.0 C526.7,474.0 520.3,478.9 516.7,480.0 C510.3,482.0 503.3,482.8 496.7,483.3 C491.2,483.7 485.3,484.2 480.0,482.7 C477.2,481.9 473.3,476.7 473.3,476.7Z"/>
<path fill="#F5F00A" d="M170.0,565.0 C170.0,565.0 183.0,560.2 186.7,555.0 C190.2,550.0 186.2,541.5 190.0,536.7 C193.7,532.0 201.1,532.0 206.7,530.0 C213.2,527.6 219.9,524.9 226.7,523.3 C235.3,521.4 244.5,520.7 253.3,519.3 C262.1,518.0 271.2,516.4 280.0,515.0 C286.6,513.9 293.3,511.9 300.0,511.7 C306.6,511.4 313.5,511.9 320.0,513.3 C322.1,513.8 325.0,517.3 325.0,517.3 C325.0,517.3 312.2,521.5 306.7,525.0 C303.7,526.9 300.0,533.3 300.0,533.3 C300.0,533.3 308.7,539.0 313.3,538.3 C320.2,537.3 325.6,531.4 332.0,528.7 C334.6,527.6 337.6,527.6 340.3,527.0 C345.9,525.7 351.5,524.2 357.0,522.8 C362.5,521.5 368.3,520.6 373.7,518.7 C378.3,517.0 382.2,513.3 387.0,512.0 C390.7,511.0 394.9,511.5 398.7,512.0 C402.6,512.6 406.8,513.5 410.3,515.3 C412.4,516.4 413.4,519.1 415.3,520.3 C417.3,521.6 419.7,523.2 422.0,522.8 C426.7,522.0 430.7,518.3 435.3,517.0 C439.6,515.8 444.2,515.1 448.7,515.3 C454.3,515.6 459.9,517.1 465.3,518.7 C470.4,520.1 480.3,524.5 480.3,524.5 C480.3,524.5 477.0,526.8 475.3,527.8 C472.1,529.8 468.8,532.0 465.3,533.7 C460.0,536.2 454.2,538.3 448.7,540.3 C443.2,542.4 437.5,544.1 432.0,546.2 C426.5,548.2 420.9,550.8 415.3,552.8 C409.9,554.9 404.2,556.7 398.7,558.7 C393.2,560.6 387.5,562.7 382.0,564.5 C376.5,566.3 370.8,567.9 365.3,569.5 C359.8,571.1 354.2,572.9 348.7,574.5 C343.2,576.1 337.6,578.4 332.0,579.5 C328.1,580.2 323.9,579.1 320.0,580.0 C311.0,582.1 302.2,585.8 293.3,588.3 C286.8,590.2 280.1,592.4 273.3,593.3 C267.9,594.1 262.1,594.0 256.7,593.3 C248.9,592.4 241.0,590.0 233.3,588.3 C225.6,586.7 217.7,584.9 210.0,583.3 C204.5,582.2 198.7,581.6 193.3,580.0 C187.7,578.3 181.6,576.5 176.7,573.3 C173.7,571.4 170.0,565.0 170.0,565.0Z"/>
<path fill="#FFFF50" d="M340.7,548.3 C342.9,545.7 346.7,544.8 350.0,544.0 C353.8,543.1 357.9,542.7 361.7,543.3 C363.6,543.6 366.7,546.7 366.7,546.7 C366.7,546.7 362.8,552.4 360.0,554.0 C356.0,556.3 351.3,558.1 346.7,558.3 C344.4,558.5 341.8,556.9 340.7,555.0 C339.5,553.1 339.2,550.0 340.7,548.3Z"/>
<path fill="#FFFF50" d="M293.3,566.7 C293.3,566.7 311.7,566.0 311.7,566.0 C311.7,566.0 311.7,568.7 311.7,568.7 C311.7,568.7 293.3,569.3 293.3,569.3 C293.3,569.3 293.3,566.7 293.3,566.7Z"/>
<path fill="#96FAFA" d="M73.3,530.0 C73.3,530.0 78.5,534.8 81.7,536.0 C84.8,537.1 88.6,535.3 91.7,536.7 C94.5,537.9 96.1,541.1 98.3,543.3 C102.2,547.2 105.9,551.5 110.0,555.0 C113.6,558.1 118.2,560.2 121.7,563.3 C124.3,565.7 126.3,568.8 128.3,571.7 C130.7,574.9 132.1,579.0 135.0,581.7 C138.3,584.6 142.6,586.6 146.7,588.3 C153.1,591.0 160.0,593.1 166.7,595.0 C175.4,597.5 184.5,599.5 193.3,601.7 C202.1,603.9 211.1,606.5 220.0,608.3 C228.7,610.1 237.8,612.1 246.7,612.7 C255.5,613.2 264.6,612.9 273.3,611.7 C282.3,610.4 291.3,607.5 300.0,605.0 C308.9,602.5 317.9,599.6 326.7,596.7 C334.0,594.2 341.3,591.0 348.7,588.7 C354.1,587.0 359.9,586.0 365.3,584.5 C370.9,583.0 376.5,581.3 382.0,579.5 C387.5,577.7 393.2,575.7 398.7,573.7 C404.2,571.6 409.8,569.1 415.3,567.0 C420.8,565.0 426.4,562.7 432.0,561.2 C437.4,559.7 443.1,558.5 448.7,557.8 C454.1,557.2 459.9,556.8 465.3,557.3 C469.3,557.7 473.4,558.6 477.0,560.3 C480.2,561.9 482.3,565.2 485.3,567.0 C489.5,569.6 494.3,571.5 498.7,573.7 C503.1,575.9 507.8,577.8 512.0,580.3 C516.1,582.8 519.5,586.5 523.7,588.7 C528.9,591.4 534.7,593.4 540.3,595.3 C545.8,597.2 551.4,598.9 557.0,600.3 C562.4,601.7 568.1,603.1 573.7,603.7 C579.1,604.2 584.8,604.0 590.3,603.7 C595.3,603.4 605.3,602.0 605.3,602.0 C605.3,602.0 607.2,647.9 605.3,670.3 C605.2,672.5 601.5,672.7 599.5,673.7 C596.0,675.4 592.3,677.1 588.7,678.7 C585.2,680.2 581.7,682.1 578.0,683.2 C573.9,684.3 569.5,684.6 565.3,685.3 C564.2,685.5 562.0,686.2 562.0,686.2 C562.0,686.2 562.0,695.3 562.0,695.3 C562.0,695.3 516.0,699.8 493.3,700.0 C354.7,701.3 73.3,700.0 73.3,700.0 C73.3,700.0 73.3,530.0 73.3,530.0Z"/>
<path fill="#FFFFF0" d="M448.7,695.3 C448.7,695.3 452.9,692.0 455.3,691.2 C458.5,690.1 462.0,689.6 465.3,689.5 C469.7,689.4 474.4,689.7 478.7,690.7 C482.7,691.6 490.3,695.3 490.3,695.3 C490.3,695.3 448.7,695.3 448.7,695.3Z"/>
<path fill="#96FAFA" d="M565.3,547.0 C569.4,544.2 574.2,542.3 578.7,540.3 C583.0,538.4 587.6,536.9 592.0,535.3 C596.4,533.8 605.3,531.2 605.3,531.2 C605.3,531.2 605.3,581.2 605.3,581.2 C605.3,581.2 596.2,576.5 592.0,573.7 C588.4,571.3 584.7,568.7 582.0,565.3 C580.1,563.0 580.8,559.0 578.7,557.0 C575.0,553.5 569.4,552.5 565.3,549.5 C564.7,549.0 564.7,547.5 565.3,547.0Z"/>
<path fill="#32FAFA" d="M594.5,548.7 C595.3,546.2 596.8,543.8 598.7,542.0 C600.5,540.2 605.3,537.8 605.3,537.8 C605.3,537.8 605.3,572.8 605.3,572.8 C605.3,572.8 599.2,568.3 597.0,565.3 C595.2,562.9 594.1,559.9 593.7,557.0 C593.3,554.3 593.6,551.3 594.5,548.7Z"/>
<path fill="#32FAFA" d="M96.7,585.0 C96.7,585.0 110.1,583.1 116.7,584.0 C121.4,584.6 125.7,587.4 130.0,589.3 C134.5,591.4 138.7,594.3 143.3,596.0 C148.7,598.0 154.5,599.2 160.0,600.7 C168.8,603.0 177.9,605.1 186.7,607.3 C195.5,609.5 204.4,612.2 213.3,614.0 C222.1,615.8 231.1,617.9 240.0,618.3 C248.8,618.8 258.0,618.0 266.7,616.7 C275.6,615.3 284.6,612.6 293.3,610.0 C302.3,607.3 311.2,603.6 320.0,600.7 C323.9,599.3 328.0,598.1 332.0,597.0 C337.5,595.5 343.2,594.2 348.7,592.8 C354.2,591.5 359.9,590.2 365.3,588.7 C368.7,587.7 371.9,586.1 375.3,585.3 C379.1,584.5 383.2,584.4 387.0,583.7 C390.9,583.0 394.9,582.3 398.7,581.2 C403.2,579.8 407.6,577.9 412.0,576.2 C416.4,574.4 420.8,571.9 425.3,570.3 C429.6,568.9 434.3,568.1 438.7,567.0 C442.0,566.2 445.3,564.2 448.7,564.5 C451.5,564.8 456.2,568.7 456.2,568.7 C456.2,568.7 452.8,573.1 451.2,575.3 C450.3,576.4 448.7,578.7 448.7,578.7 C448.7,578.7 455.3,581.3 458.7,582.0 C463.6,583.0 468.7,584.0 473.7,583.7 C478.2,583.4 482.6,581.3 487.0,580.3 C490.3,579.6 493.9,577.5 497.0,578.7 C500.7,580.0 502.3,584.5 505.3,587.0 C508.4,589.5 511.9,591.7 515.3,593.7 C520.7,596.7 526.3,599.7 532.0,602.0 C537.3,604.1 543.1,605.5 548.7,607.0 C554.1,608.5 559.8,610.1 565.3,611.2 C570.8,612.3 576.4,613.5 582.0,613.7 C585.3,613.8 588.7,612.4 592.0,612.0 C596.4,611.5 605.3,611.2 605.3,611.2 C605.3,611.2 608.7,629.2 605.3,637.0 C603.5,641.3 596.5,640.6 592.0,642.0 C587.7,643.4 583.0,644.1 578.7,645.3 C573.1,646.9 567.6,648.9 562.0,650.3 C554.9,652.2 547.5,653.8 540.3,655.3 C532.1,657.1 523.6,659.0 515.3,660.3 C509.9,661.2 504.1,661.2 498.7,662.0 C493.1,662.8 487.5,664.2 482.0,665.3 C476.5,666.4 470.8,667.6 465.3,668.7 C459.8,669.8 454.0,670.4 448.7,672.0 C443.0,673.7 437.7,677.0 432.0,678.7 C426.6,680.3 420.8,680.9 415.3,682.0 C409.8,683.1 404.1,684.1 398.7,685.3 C393.1,686.6 387.6,688.4 382.0,689.5 C376.5,690.6 370.9,691.7 365.3,692.0 C359.8,692.3 354.2,691.6 348.7,691.2 C343.2,690.8 337.5,689.9 332.0,689.5 C325.8,689.0 319.4,689.6 313.3,688.3 C306.5,687.0 300.1,683.4 293.3,681.7 C284.6,679.5 275.4,678.6 266.7,676.7 C257.8,674.7 248.9,671.9 240.0,670.0 C233.5,668.6 226.7,666.7 220.0,666.7 C214.4,666.7 207.3,666.0 203.3,670.0 C195.3,678.0 197.6,697.0 186.7,700.0 C157.0,708.1 93.3,700.0 93.3,700.0 C93.3,700.0 96.7,585.0 96.7,585.0Z"/>
<path fill="#00C8FA" d="M126.7,596.7 C126.7,596.7 135.5,600.3 140.0,601.7 C145.4,603.4 151.2,604.6 156.7,606.0 C162.2,607.4 167.8,608.9 173.3,610.0 C179.9,611.3 186.8,611.9 193.3,613.3 C201.1,615.0 208.9,617.7 216.7,619.3 C224.3,621.0 232.2,623.0 240.0,623.3 C248.8,623.7 258.0,623.0 266.7,621.7 C275.6,620.3 284.6,617.6 293.3,615.0 C302.2,612.4 311.2,609.0 320.0,606.0 C324.0,604.7 328.0,603.2 332.0,602.0 C336.4,600.7 341.0,599.8 345.3,598.7 C349.2,597.6 353.2,596.6 357.0,595.3 C359.8,594.4 362.6,593.1 365.3,592.0 C368.6,590.6 371.8,588.6 375.3,587.8 C379.1,587.0 383.1,586.9 387.0,587.0 C390.9,587.1 394.8,588.7 398.7,588.7 C402.6,588.7 406.5,587.5 410.3,587.0 C414.2,586.5 418.1,585.3 422.0,585.3 C426.4,585.3 431.0,586.2 435.3,587.0 C439.8,587.8 444.2,589.4 448.7,590.3 C453.0,591.3 457.5,592.5 462.0,592.8 C465.9,593.1 469.9,592.8 473.7,592.0 C477.7,591.1 481.4,588.9 485.3,587.8 C488.6,587.0 492.0,586.3 495.3,586.2 C498.1,586.0 501.2,585.8 503.7,587.0 C508.0,589.0 511.3,592.9 515.3,595.3 C519.6,597.9 524.2,600.0 528.7,602.0 C534.1,604.4 539.7,606.7 545.3,608.7 C550.8,610.6 556.6,611.8 562.0,613.7 C565.9,615.1 569.6,617.5 573.7,618.7 C579.0,620.2 590.3,622.0 590.3,622.0 C590.3,622.0 579.1,624.0 573.7,625.3 C568.1,626.7 562.6,628.9 557.0,630.3 C551.6,631.7 545.8,632.3 540.3,633.7 C534.8,635.1 529.0,636.5 523.7,638.7 C520.7,639.9 518.4,642.8 515.3,643.7 C510.0,645.1 504.2,644.9 498.7,645.3 C493.2,645.7 487.2,644.3 482.0,646.2 C478.9,647.3 478.1,651.9 475.3,653.7 C472.4,655.6 468.8,657.0 465.3,657.0 C460.8,657.0 456.2,655.5 452.0,653.7 C447.8,651.8 444.8,647.1 440.3,646.2 C437.4,645.6 434.6,648.0 432.0,649.5 C427.4,652.2 423.9,657.6 418.7,658.7 C413.7,659.7 408.7,655.5 403.7,655.3 C399.2,655.2 394.7,657.0 390.3,657.8 C384.8,658.9 379.3,660.7 373.7,661.2 C368.2,661.6 362.5,661.0 357.0,660.3 C351.4,659.6 345.8,658.1 340.3,657.0 C337.6,656.5 334.8,655.2 332.0,655.3 C325.8,655.6 319.3,656.6 313.3,658.3 C306.5,660.3 300.4,665.8 293.3,666.7 C286.7,667.5 279.9,664.7 273.3,663.3 C264.5,661.4 255.5,658.6 246.7,656.7 C237.9,654.8 228.9,652.0 220.0,651.7 C214.4,651.5 208.6,656.9 203.3,655.0 C196.3,652.6 193.1,643.7 186.7,640.0 C178.5,635.3 168.6,633.7 160.0,630.0 C153.2,627.1 145.2,625.2 140.0,620.0 C133.7,613.7 126.7,596.7 126.7,596.7Z"/>
<path fill="#0C96FA" d="M140.0,605.0 C140.0,605.0 151.2,607.1 156.7,608.3 C162.2,609.6 167.9,611.1 173.3,612.7 C177.8,613.9 182.4,615.0 186.7,616.7 C191.2,618.5 196.0,620.5 200.0,623.3 C203.8,626.0 207.2,629.6 210.0,633.3 C212.7,636.8 216.3,640.6 216.7,645.0 C216.9,648.7 211.7,655.0 211.7,655.0 C211.7,655.0 198.3,653.9 193.3,650.0 C187.1,645.1 186.3,634.8 180.0,630.0 C174.6,625.9 166.4,627.3 160.0,625.0 C154.2,622.9 147.7,621.0 143.3,616.7 C140.5,613.8 140.0,605.0 140.0,605.0Z"/>
<path fill="#0A50F0" d="M158.3,610.0 C158.3,610.0 165.0,608.0 168.3,608.3 C170.8,608.6 175.0,611.7 175.0,611.7 C175.0,611.7 173.5,616.0 171.7,616.7 C168.6,617.8 164.6,618.1 161.7,616.7 C159.5,615.6 158.3,610.0 158.3,610.0Z"/>
<path fill="#0C96FA" d="M236.7,641.7 C238.9,638.0 242.8,635.3 246.7,633.3 C250.7,631.3 255.5,630.0 260.0,630.0 C264.5,630.0 273.3,633.3 273.3,633.3 C273.3,633.3 275.0,638.6 273.3,640.0 C269.8,643.1 264.5,643.6 260.0,645.0 C255.7,646.4 251.2,648.0 246.7,648.3 C243.9,648.5 240.7,648.2 238.3,646.7 C236.9,645.7 235.7,643.1 236.7,641.7Z"/>
<path fill="#0C96FA" d="M316.7,611.7 C316.7,611.7 330.2,610.1 336.7,608.3 C344.6,606.2 352.5,603.2 360.0,600.0 C366.8,597.1 372.8,591.7 380.0,590.0 C382.9,589.3 386.2,591.2 388.3,593.3 C390.4,595.4 391.7,601.7 391.7,601.7 C391.7,601.7 384.2,606.8 380.0,608.3 C373.6,610.7 366.7,612.0 360.0,613.3 C352.4,614.8 344.4,616.1 336.7,616.7 C331.2,617.0 325.3,617.3 320.0,616.0 C318.2,615.6 316.7,611.7 316.7,611.7Z"/>
<path fill="#0C96FA" d="M332.0,610.3 C332.0,610.3 345.7,611.4 352.0,609.5 C355.5,608.5 357.3,604.2 360.3,602.0 C364.5,598.9 369.0,595.9 373.7,593.7 C377.3,591.9 381.3,589.8 385.3,590.0 C387.4,590.1 388.4,592.8 389.5,594.5 C390.7,596.3 392.8,598.2 392.3,600.3 C391.8,602.9 389.1,604.6 387.0,606.2 C384.5,608.0 381.6,609.3 378.7,610.3 C374.4,611.8 369.8,612.8 365.3,613.7 C359.9,614.7 354.2,615.8 348.7,616.2 C343.2,616.6 332.0,616.2 332.0,616.2 C332.0,616.2 332.0,610.3 332.0,610.3Z"/>
<path fill="#0C96FA" d="M448.7,610.3 C448.7,610.3 457.6,609.1 462.0,608.7 C468.6,608.1 475.4,607.5 482.0,607.3 C487.5,607.2 493.2,607.1 498.7,607.8 C502.4,608.3 509.5,611.2 509.5,611.2 C509.5,611.2 508.4,618.5 506.2,621.2 C504.9,622.7 502.2,622.9 500.3,622.3 C497.2,621.4 495.1,618.1 492.0,617.0 C487.8,615.5 483.1,615.1 478.7,614.5 C473.2,613.7 467.5,613.6 462.0,612.8 C457.6,612.2 448.7,610.3 448.7,610.3Z"/>
</g>
<g clip-path="url(#tB1)">
<rect x="603.0" y="429.0" width="274.0" height="209.0" fill="#FFFFC8"/>
<path fill="#FFFF50" d="M602.3,500.0 C602.3,500.0 614.6,500.4 620.7,500.8 C626.2,501.2 631.8,502.1 637.3,502.5 C642.8,502.9 648.6,502.4 654.0,503.3 C656.9,503.8 659.9,504.9 662.3,506.7 C663.9,507.8 663.9,510.7 665.7,511.7 C668.6,513.3 672.3,513.4 675.7,514.2 C678.4,514.8 684.0,515.8 684.0,515.8 C684.0,515.8 677.3,515.7 674.0,515.3 C670.1,514.9 666.1,514.3 662.3,513.3 C659.5,512.6 656.9,510.6 654.0,510.0 C648.6,508.9 642.9,508.2 637.3,508.3 C631.8,508.5 626.1,509.7 620.7,510.8 C614.5,512.1 602.3,515.8 602.3,515.8 C602.3,515.8 602.3,500.0 602.3,500.0Z"/>
<path fill="#FFFF50" d="M733.2,472.5 C734.7,469.6 739.2,469.5 742.3,468.3 C745.0,467.3 747.8,465.7 750.7,465.8 C753.6,466.0 756.2,468.1 759.0,469.2 C762.3,470.5 769.0,473.0 769.0,473.0 C769.0,473.0 767.3,479.1 765.7,481.7 C763.4,485.3 759.5,488.0 757.3,491.7 C755.6,494.7 755.1,498.4 754.0,501.7 C752.9,505.0 752.8,508.9 750.7,511.7 C748.7,514.2 745.4,515.8 742.3,516.7 C738.6,517.7 734.5,517.2 730.7,517.5 C726.8,517.8 722.7,517.2 719.0,518.3 C716.4,519.2 714.7,522.0 712.3,523.3 C709.7,524.8 706.9,526.3 704.0,526.7 C700.4,527.1 696.1,527.9 693.2,525.8 C690.5,524.0 689.8,516.7 689.8,516.7 C689.8,516.7 694.8,515.5 697.3,515.0 C700.6,514.4 704.7,515.3 707.3,513.3 C709.7,511.6 709.7,507.8 710.7,505.0 C711.7,502.0 711.4,498.4 713.2,495.8 C714.9,493.4 718.0,492.2 720.7,490.8 C723.3,489.5 726.4,489.0 729.0,487.5 C731.2,486.2 734.2,484.9 734.8,482.5 C735.7,479.3 731.6,475.5 733.2,472.5Z"/>
<path fill="#FFFF50" d="M795.7,483.3 C795.7,483.3 801.1,480.7 804.0,480.0 C808.3,479.0 812.9,478.3 817.3,478.3 C820.7,478.3 824.0,480.3 827.3,480.0 C830.8,479.7 834.0,477.7 837.3,476.7 C841.7,475.3 846.2,473.7 850.7,472.5 C855.0,471.3 864.0,469.2 864.0,469.2 C864.0,469.2 862.4,473.3 860.7,474.2 C856.1,476.5 850.4,476.4 845.7,478.3 C841.6,480.0 837.5,482.3 834.0,485.0 C830.9,487.3 829.2,491.8 825.7,493.3 C821.6,495.1 816.7,494.8 812.3,494.2 C809.3,493.7 806.6,491.7 804.0,490.0 C801.0,488.1 795.7,483.3 795.7,483.3Z"/>
<path fill="#FFFF50" d="M895.7,601.7 C895.7,601.7 885.8,607.1 881.0,610.0 C877.5,612.1 873.8,614.1 870.7,616.7 C868.2,618.7 864.9,620.6 864.0,623.7 C861.8,631.0 861.5,646.7 861.5,646.7 C861.5,646.7 895.7,646.7 895.7,646.7 C895.7,646.7 895.7,601.7 895.7,601.7Z"/>
<path fill="#FFFFF0" d="M602.3,522.5 C602.3,522.5 614.6,521.1 620.7,520.8 C626.2,520.6 631.8,520.4 637.3,520.8 C642.9,521.2 648.6,522.1 654.0,523.3 C659.6,524.6 665.2,526.7 670.7,528.3 C676.2,530.0 681.9,531.4 687.3,533.3 C692.9,535.3 698.4,538.0 704.0,540.0 C709.4,541.9 715.2,543.4 720.7,545.0 C726.2,546.6 731.9,548.2 737.3,550.0 C741.8,551.5 746.4,553.0 750.7,555.0 C754.7,556.9 758.5,559.5 762.3,561.7 C766.2,563.9 770.0,566.5 774.0,568.3 C778.3,570.3 783.0,571.4 787.3,573.3 C791.8,575.3 796.7,577.1 800.7,580.0 C803.7,582.2 807.4,584.7 808.2,588.3 C808.8,591.3 805.8,594.2 804.0,596.7 C801.7,599.8 798.6,602.4 795.7,605.0 C793.0,607.4 787.3,611.7 787.3,611.7 C787.3,611.7 792.7,615.3 795.7,616.7 C798.8,618.1 803.0,617.8 805.7,620.0 C807.5,621.5 808.0,624.3 808.2,626.7 C808.5,631.1 807.3,640.0 807.3,640.0 C807.3,640.0 602.3,640.0 602.3,640.0 C602.3,640.0 602.3,522.5 602.3,522.5Z"/>
<path fill="#96FAFA" d="M602.3,528.3 C602.3,528.3 614.6,527.0 620.7,526.7 C626.2,526.4 631.8,526.4 637.3,526.7 C642.9,526.9 648.6,527.2 654.0,528.3 C659.6,529.5 665.2,531.4 670.7,533.3 C676.3,535.3 681.8,537.8 687.3,540.0 C692.8,542.2 698.5,544.5 704.0,546.7 C709.5,548.9 715.2,551.1 720.7,553.3 C726.2,555.5 731.9,557.6 737.3,560.0 C741.8,562.0 746.3,564.4 750.7,566.7 C754.6,568.8 758.6,571.0 762.3,573.3 C765.7,575.4 769.3,577.4 772.3,580.0 C775.4,582.7 780.7,589.2 780.7,589.2 C780.7,589.2 774.1,591.8 770.7,592.5 C765.2,593.7 759.5,594.4 754.0,595.0 C748.5,595.5 742.8,595.6 737.3,595.8 C731.8,596.1 726.1,595.8 720.7,596.7 C717.7,597.2 714.3,597.8 712.3,600.0 C710.0,602.6 710.1,606.7 709.0,610.0 C707.9,613.3 707.5,617.1 705.7,620.0 C703.6,623.3 700.6,626.3 697.3,628.3 C693.3,630.8 688.3,631.4 684.0,633.3 C679.5,635.3 675.6,639.6 670.7,640.0 C648.2,641.8 602.3,640.0 602.3,640.0 C602.3,640.0 602.3,528.3 602.3,528.3Z"/>
<path fill="#FFFFF0" d="M602.3,585.0 C602.3,585.0 614.6,585.4 620.7,585.8 C626.2,586.2 631.9,586.4 637.3,587.5 C641.3,588.3 645.5,589.5 649.0,591.7 C652.3,593.7 657.3,600.0 657.3,600.0 C657.3,600.0 653.2,603.5 650.7,604.2 C646.4,605.2 641.7,605.1 637.3,605.0 C631.8,604.8 626.2,603.9 620.7,603.3 C614.6,602.8 602.3,601.7 602.3,601.7 C602.3,601.7 602.3,585.0 602.3,585.0Z"/>
<path fill="#32FAFA" d="M602.3,533.3 C602.3,533.3 614.6,531.9 620.7,531.7 C626.2,531.5 631.8,531.6 637.3,532.0 C642.9,532.4 648.6,533.1 654.0,534.2 C659.6,535.2 665.3,536.6 670.7,538.3 C676.3,540.2 681.9,542.6 687.3,545.0 C692.9,547.5 698.5,550.6 704.0,553.3 C709.5,556.1 715.3,558.7 720.7,561.7 C725.2,564.2 734.0,570.0 734.0,570.0 C734.0,570.0 731.3,574.5 729.0,575.0 C723.6,576.2 717.8,575.1 712.3,575.0 C706.8,574.9 701.2,574.0 695.7,574.2 C690.1,574.3 684.5,575.3 679.0,575.8 C673.5,576.4 667.8,577.1 662.3,577.5 C656.8,577.9 651.2,578.2 645.7,578.3 C640.2,578.5 634.5,578.5 629.0,578.3 C623.5,578.2 617.8,578.2 612.3,577.5 C609.0,577.1 602.3,575.0 602.3,575.0 C602.3,575.0 602.3,533.3 602.3,533.3Z"/>
<path fill="#32FAFA" d="M602.3,609.2 C602.3,609.2 614.6,612.0 620.7,613.3 C626.2,614.5 631.7,616.4 637.3,616.7 C641.8,616.9 646.4,616.3 650.7,615.0 C654.8,613.8 658.5,611.1 662.3,609.2 C666.2,607.2 669.8,604.2 674.0,603.3 C676.7,602.8 679.9,603.7 682.3,605.0 C684.2,606.0 686.5,607.9 686.5,610.0 C686.5,613.1 684.6,616.2 682.3,618.3 C679.1,621.4 674.7,623.1 670.7,625.0 C665.3,627.5 659.6,629.8 654.0,631.7 C648.6,633.4 642.9,634.7 637.3,635.8 C631.9,636.9 626.2,637.9 620.7,638.3 C614.6,638.8 602.3,638.3 602.3,638.3 C602.3,638.3 602.3,609.2 602.3,609.2Z"/>
<path fill="#00C8FA" d="M613.2,558.3 C614.5,555.5 617.9,554.1 620.7,552.5 C623.8,550.7 627.3,549.5 630.7,548.3 C632.8,547.6 635.2,547.5 637.3,546.7 C639.6,545.8 641.6,543.6 644.0,543.3 C647.3,543.0 650.8,544.2 654.0,545.0 C657.4,545.8 660.5,548.2 664.0,548.3 C666.3,548.5 668.3,546.1 670.7,545.8 C672.9,545.6 675.4,545.6 677.3,546.7 C680.0,548.2 681.7,551.2 684.0,553.3 C685.9,555.1 689.8,558.3 689.8,558.3 C689.8,558.3 682.6,558.9 679.0,559.2 C675.2,559.5 671.2,559.6 667.3,560.0 C662.9,560.4 658.4,560.8 654.0,561.7 C649.5,562.5 645.0,563.8 640.7,565.0 C637.3,566.0 634.1,567.5 630.7,568.3 C627.4,569.1 623.9,570.4 620.7,569.7 C618.3,569.2 616.2,567.1 614.8,565.0 C613.6,563.1 612.2,560.4 613.2,558.3Z"/>
</g>
<g clip-path="url(#tB2)">
<rect x="875.0" y="429.0" width="274.0" height="209.0" fill="#FFFF50"/>
<path fill="#FFFFC8" d="M862.7,455.0 C862.7,455.0 870.6,464.2 876.0,465.8 C881.3,467.4 887.1,464.4 892.7,464.2 C898.2,464.0 903.8,464.8 909.3,464.7 C914.8,464.5 920.5,464.1 926.0,463.3 C931.6,462.6 937.1,460.0 942.7,460.0 C944.6,460.0 945.9,462.4 947.7,463.3 C951.4,465.4 955.2,467.8 959.3,469.2 C964.7,470.9 970.4,472.5 976.0,472.5 C981.6,472.5 987.1,468.9 992.7,469.2 C998.4,469.5 1003.7,473.2 1009.3,474.2 C1014.8,475.1 1020.5,474.5 1026.0,475.0 C1031.5,475.6 1037.3,476.0 1042.7,477.5 C1045.2,478.2 1046.9,480.8 1049.3,481.7 C1052.5,482.8 1056.0,483.6 1059.3,483.3 C1063.9,483.0 1068.4,481.4 1072.7,480.0 C1076.6,478.7 1080.4,476.6 1084.3,475.0 C1088.7,473.3 1093.3,471.8 1097.7,470.0 C1100.5,468.8 1103.7,467.8 1106.0,465.8 C1107.7,464.4 1109.1,462.2 1109.3,460.0 C1109.7,455.6 1108.2,451.1 1107.7,446.7 C1107.1,441.2 1106.3,435.5 1106.0,430.0 C1105.8,425.6 1106.0,416.7 1106.0,416.7 C1106.0,416.7 1167.7,416.7 1167.7,416.7 C1167.7,416.7 1167.7,440.0 1167.7,440.0 C1167.7,440.0 1156.1,438.7 1151.8,441.7 C1148.4,444.0 1149.3,449.7 1148.2,453.7 C1146.5,459.9 1147.0,467.3 1143.3,472.5 C1141.4,475.2 1136.8,474.0 1133.5,474.5 C1131.0,474.9 1128.4,474.6 1126.0,475.0 C1120.5,475.9 1114.6,476.5 1109.3,478.3 C1103.5,480.4 1098.2,484.0 1092.7,486.7 C1088.3,488.7 1084.1,492.3 1079.3,492.5 C1075.1,492.6 1071.6,489.0 1067.7,487.5 C1063.9,486.0 1060.1,483.5 1056.0,483.3 C1052.5,483.2 1049.0,484.9 1046.0,486.7 C1042.3,488.8 1039.5,492.5 1036.0,495.0 C1031.8,498.0 1027.4,501.3 1022.7,503.3 C1018.5,505.2 1013.9,506.4 1009.3,506.7 C1003.8,507.0 998.2,505.6 992.7,505.0 C987.2,504.4 981.5,503.2 976.0,503.3 C970.4,503.5 964.9,505.3 959.3,505.8 C953.9,506.4 948.1,507.3 942.7,506.7 C937.0,506.0 931.3,503.9 926.0,501.7 C922.9,500.3 921.0,496.2 917.7,495.8 C912.1,495.3 906.4,497.8 901.0,499.2 C896.5,500.3 887.7,503.3 887.7,503.3 C887.7,503.3 890.7,507.0 892.7,508.3 C895.2,510.1 898.0,512.1 901.0,512.5 C906.5,513.2 912.2,511.0 917.7,511.7 C923.4,512.4 929.1,514.2 934.3,516.7 C937.5,518.2 941.1,520.2 942.7,523.3 C944.6,527.3 946.3,532.7 944.3,536.7 C941.9,541.6 935.3,543.3 931.0,546.7 C927.6,549.3 923.9,551.8 921.0,555.0 C917.8,558.5 914.3,562.2 912.7,566.7 C911.1,570.8 911.7,575.6 911.8,580.0 C912.0,583.3 914.7,586.9 913.5,590.0 C912.4,592.8 908.5,593.4 906.0,595.0 C901.6,597.8 897.1,600.7 892.7,603.3 C888.9,605.6 884.9,607.8 881.0,610.0 C875.0,613.3 862.7,620.0 862.7,620.0 C862.7,620.0 862.7,455.0 862.7,455.0Z"/>
<path fill="#F5F00A" d="M912.7,636.8 C916.9,633.2 921.5,629.8 926.0,626.7 C930.3,623.7 934.9,621.0 939.3,618.3 C943.1,616.1 948.0,615.0 951.0,611.7 C953.3,609.1 952.3,604.5 954.3,601.7 C956.4,598.8 959.3,596.0 962.7,595.0 C967.9,593.4 974.0,595.4 979.3,594.2 C984.0,593.1 988.3,590.4 992.7,588.3 C997.1,586.2 1001.1,581.7 1006.0,581.7 C1009.1,581.7 1011.5,585.5 1012.7,588.3 C1014.4,592.4 1013.4,597.3 1014.3,601.7 C1015.1,605.1 1015.1,609.4 1017.7,611.7 C1020.7,614.3 1025.5,616.1 1029.3,615.0 C1032.7,614.1 1034.0,609.6 1036.0,606.7 C1037.8,604.0 1039.3,601.0 1041.0,598.3 C1043.1,595.0 1046.0,591.9 1047.7,588.3 C1049.9,583.6 1051.8,578.5 1052.7,573.3 C1053.5,568.5 1050.5,562.8 1052.7,558.3 C1054.8,554.1 1060.6,552.9 1064.3,550.0 C1068.3,546.9 1072.0,543.2 1076.0,540.0 C1080.3,536.6 1084.9,533.3 1089.3,530.0 C1093.1,527.2 1097.0,524.2 1101.0,521.7 C1104.7,519.3 1108.5,516.4 1112.7,515.0 C1116.9,513.6 1121.6,513.0 1126.0,513.3 C1129.5,513.6 1132.7,515.7 1136.0,516.7 C1139.9,517.9 1143.8,519.6 1147.8,520.0 C1154.3,520.7 1167.7,520.0 1167.7,520.0 C1167.7,520.0 1167.7,655.0 1167.7,655.0 C1167.7,655.0 892.7,655.0 892.7,655.0 C892.7,655.0 905.9,642.6 912.7,636.8Z"/>
<path fill="#FFC080" d="M1082.7,636.8 C1085.8,631.7 1088.7,626.2 1092.7,621.7 C1096.5,617.3 1101.1,613.1 1106.0,610.0 C1109.5,607.8 1113.6,606.0 1117.7,605.8 C1123.3,605.7 1128.8,608.2 1134.3,609.2 C1138.8,609.9 1143.4,610.5 1147.8,610.8 C1154.4,611.3 1167.7,611.7 1167.7,611.7 C1167.7,611.7 1167.7,655.0 1167.7,655.0 C1167.7,655.0 1072.7,655.0 1072.7,655.0 C1072.7,655.0 1079.1,642.7 1082.7,636.8Z"/>
</g>
<g clip-path="url(#tB3)">
<rect x="1147.0" y="429.0" width="274.0" height="209.0" fill="#FFFF50"/>
<path fill="#FFFFC8" d="M1134.7,416.7 C1134.7,416.7 1214.7,416.7 1214.7,416.7 C1214.7,416.7 1209.8,420.5 1207.0,421.8 C1199.1,425.5 1190.7,428.8 1182.5,431.7 C1174.5,434.5 1166.0,436.4 1158.0,439.0 C1155.9,439.7 1153.1,439.7 1151.8,441.5 C1149.5,445.0 1151.5,451.1 1148.2,453.7 C1144.6,456.4 1134.7,455.0 1134.7,455.0 C1134.7,455.0 1134.7,416.7 1134.7,416.7Z"/>
<path fill="#FFFFC8" d="M1359.7,416.7 C1359.7,416.7 1359.2,429.3 1361.3,435.0 C1362.7,438.6 1367.0,440.5 1369.7,443.3 C1372.2,446.0 1375.7,448.3 1377.2,451.7 C1378.7,455.2 1378.4,459.5 1378.0,463.3 C1377.6,466.8 1376.2,470.2 1374.7,473.3 C1372.9,476.9 1370.3,480.1 1368.0,483.3 C1367.0,484.8 1364.7,487.5 1364.7,487.5 C1364.7,487.5 1374.5,500.0 1381.3,500.0 C1401.0,500.0 1439.7,487.5 1439.7,487.5 C1439.7,487.5 1439.7,416.7 1439.7,416.7 C1439.7,416.7 1359.7,416.7 1359.7,416.7Z"/>
<path fill="#F5F00A" d="M1134.7,520.8 C1134.7,520.8 1143.6,520.2 1148.0,520.0 C1153.5,519.7 1159.2,519.6 1164.7,519.2 C1169.1,518.8 1173.7,518.5 1178.0,517.5 C1182.0,516.6 1186.0,515.0 1189.7,513.3 C1192.6,512.0 1195.3,510.1 1198.0,508.3 C1200.3,506.8 1204.7,503.3 1204.7,503.3 C1204.7,503.3 1217.4,515.4 1218.0,523.3 C1218.6,531.7 1215.8,543.6 1208.0,546.7 C1185.3,555.7 1134.7,556.7 1134.7,556.7 C1134.7,556.7 1134.7,520.8 1134.7,520.8Z"/>
<path fill="#F5F00A" d="M1236.3,508.3 C1239.0,506.1 1241.9,503.8 1244.7,501.7 C1246.8,500.0 1248.9,497.9 1251.3,496.7 C1254.4,495.1 1257.9,493.6 1261.3,493.3 C1265.8,493.0 1270.3,494.3 1274.7,495.0 C1279.1,495.7 1283.6,497.0 1288.0,497.5 C1293.5,498.1 1299.2,497.8 1304.7,498.3 C1308.5,498.7 1312.6,499.0 1316.3,500.0 C1318.7,500.6 1323.0,503.3 1323.0,503.3 C1323.0,503.3 1310.7,532.1 1298.0,538.3 C1272.7,550.8 1214.7,556.7 1214.7,556.7 C1214.7,556.7 1207.7,538.1 1211.3,530.0 C1215.8,520.0 1228.0,515.4 1236.3,508.3Z"/>
<path fill="#FFC080" d="M1144.7,563.3 C1144.7,563.3 1158.1,562.9 1164.7,563.3 C1197.7,565.6 1264.7,571.7 1264.7,571.7 C1264.7,571.7 1264.7,655.0 1264.7,655.0 C1264.7,655.0 1134.7,655.0 1134.7,655.0 C1134.7,655.0 1134.7,612.5 1134.7,612.5 C1134.7,612.5 1143.6,612.4 1148.0,612.0 C1150.2,611.8 1153.0,612.4 1154.7,610.8 C1156.6,609.0 1157.3,605.9 1157.2,603.3 C1157.0,600.9 1154.1,599.1 1153.8,596.7 C1153.6,594.4 1155.6,592.3 1155.5,590.0 C1155.3,586.6 1154.3,583.1 1153.0,580.0 C1151.8,577.0 1149.9,574.3 1148.0,571.7 C1147.1,570.4 1145.2,569.8 1144.7,568.3 C1144.1,566.8 1144.7,563.3 1144.7,563.3Z"/>
<path fill="#F5F00A" d="M1134.7,569.2 C1134.7,569.2 1143.9,568.0 1148.0,569.7 C1150.6,570.7 1152.0,574.0 1153.0,576.7 C1154.5,580.9 1155.3,585.5 1155.5,590.0 C1155.6,592.3 1153.6,594.4 1153.8,596.7 C1154.1,599.1 1157.0,600.9 1157.2,603.3 C1157.3,605.9 1156.5,609.0 1154.7,610.8 C1153.1,612.4 1150.3,612.2 1148.0,612.5 C1143.6,613.0 1134.7,613.3 1134.7,613.3 C1134.7,613.3 1134.7,569.2 1134.7,569.2Z"/>
<path fill="#F5F00A" d="M1197.2,580.0 C1197.2,580.0 1202.1,578.5 1204.7,578.3 C1208.0,578.2 1214.7,579.2 1214.7,579.2 C1214.7,579.2 1214.1,581.9 1213.0,582.5 C1210.5,583.9 1207.5,584.4 1204.7,585.0 C1202.5,585.5 1198.0,585.8 1198.0,585.8 C1198.0,585.8 1197.2,580.0 1197.2,580.0Z"/>
<path fill="#FFC080" d="M1208.8,545.8 C1208.8,545.8 1222.2,541.3 1222.2,541.3 C1222.2,541.3 1223.8,545.0 1223.8,545.0 C1223.8,545.0 1221.3,547.6 1219.7,548.3 C1216.8,549.6 1210.5,550.8 1210.5,550.8 C1210.5,550.8 1208.8,545.8 1208.8,545.8Z"/>
</g>
<g clip-path="url(#tBU)">
<rect x="875.0" y="339.0" width="186.0" height="92.0" fill="#FFFF50"/>
<path fill="#FFFFC8" d="M1038.5,407.5 C1038.5,407.5 1043.8,405.8 1046.0,404.2 C1049.4,401.6 1051.3,396.9 1055.2,395.0 C1057.4,393.9 1060.2,395.4 1062.7,395.8 C1065.4,396.3 1071.0,397.5 1071.0,397.5 C1071.0,397.5 1068.2,404.0 1066.0,406.7 C1064.3,408.8 1061.9,410.6 1059.3,411.7 C1056.2,412.9 1052.6,414.0 1049.3,413.3 C1045.4,412.5 1038.5,407.5 1038.5,407.5Z"/>
</g>
<g clip-path="url(#tC0)">
<rect x="1159.0" y="184.0" width="222.0" height="41.0" fill="#FFFFF0"/>
</g>
<g clip-path="url(#tC1)">
<rect x="1059.0" y="222.0" width="274.0" height="209.0" fill="#FFFFC8"/>
<path fill="#FFFFF0" d="M1166.7,276.3 C1167.2,279.4 1171.0,280.9 1173.3,283.0 C1176.5,285.9 1180.3,288.3 1183.3,291.3 C1186.4,294.4 1189.7,297.5 1191.7,301.3 C1193.4,304.9 1194.2,309.1 1194.2,313.0 C1194.2,316.4 1192.9,319.8 1191.7,323.0 C1190.4,326.5 1188.3,329.7 1186.7,333.0 C1185.0,336.3 1182.9,339.5 1181.7,343.0 C1180.7,345.6 1179.7,348.5 1180.0,351.3 C1180.3,354.8 1181.3,358.5 1183.3,361.3 C1185.3,364.0 1188.4,366.3 1191.7,367.2 C1194.9,368.0 1198.5,367.3 1201.7,366.3 C1204.7,365.4 1207.5,363.3 1210.0,361.3 C1213.0,358.9 1215.6,355.8 1218.3,353.0 C1221.1,350.2 1223.8,347.3 1226.7,344.7 C1229.8,341.8 1233.6,339.4 1236.7,336.3 C1239.2,333.8 1241.3,330.8 1243.3,328.0 C1245.7,324.8 1247.5,321.0 1250.0,318.0 C1253.0,314.4 1256.4,311.0 1260.0,308.0 C1263.6,304.9 1267.7,302.2 1271.7,299.7 C1275.4,297.3 1279.6,295.3 1283.3,293.0 C1286.7,290.9 1289.8,288.2 1293.3,286.3 C1296.5,284.6 1299.8,282.6 1303.3,282.2 C1306.1,281.8 1309.2,282.5 1311.7,283.8 C1314.9,285.6 1317.1,289.0 1320.0,291.3 C1323.8,294.3 1327.4,298.0 1331.8,299.7 C1338.1,302.0 1351.7,303.0 1351.7,303.0 C1351.7,303.0 1351.7,209.7 1351.7,209.7 C1351.7,209.7 1160.0,209.7 1160.0,209.7 C1160.0,209.7 1162.7,254.6 1166.7,276.3Z"/>
<path fill="#FFFF50" d="M1046.7,396.3 C1046.7,396.3 1055.6,394.8 1060.0,394.7 C1063.3,394.5 1066.8,396.2 1070.0,395.5 C1074.2,394.5 1077.8,391.6 1081.7,389.7 C1085.5,387.7 1090.0,386.6 1093.3,383.8 C1095.5,382.0 1095.6,378.5 1097.5,376.3 C1099.3,374.3 1101.6,372.4 1104.2,371.3 C1106.5,370.4 1111.7,370.5 1111.7,370.5 C1111.7,370.5 1109.3,375.5 1108.3,378.0 C1107.1,381.0 1105.0,387.2 1105.0,387.2 C1105.0,387.2 1111.6,390.2 1115.0,391.3 C1118.8,392.6 1122.8,393.5 1126.7,394.7 C1129.4,395.5 1135.0,397.2 1135.0,397.2 C1135.0,397.2 1131.7,401.2 1130.0,403.0 C1127.3,405.8 1124.6,408.7 1121.7,411.3 C1119.0,413.7 1115.4,415.1 1113.3,418.0 C1110.9,421.4 1109.3,425.7 1108.3,429.8 C1107.0,435.7 1106.7,448.0 1106.7,448.0 C1106.7,448.0 1046.7,448.0 1046.7,448.0 C1046.7,448.0 1046.7,396.3 1046.7,396.3Z"/>
<path fill="#FFFF50" d="M1190.0,429.8 C1192.3,426.0 1197.6,424.9 1201.7,423.0 C1205.9,421.0 1210.6,419.6 1215.0,418.0 C1219.4,416.4 1223.7,413.8 1228.3,413.0 C1232.1,412.4 1236.3,412.7 1240.0,413.8 C1243.7,415.0 1246.5,418.1 1250.0,419.7 C1253.2,421.1 1256.5,423.3 1260.0,423.0 C1263.7,422.7 1266.8,419.7 1270.0,418.0 C1273.9,415.9 1277.5,412.8 1281.7,411.3 C1285.3,410.0 1289.4,409.7 1293.3,409.7 C1297.8,409.7 1302.3,411.7 1306.7,411.3 C1311.3,410.9 1315.6,408.6 1320.0,407.2 C1323.9,405.9 1327.8,403.8 1331.8,403.0 C1338.3,401.8 1351.7,401.3 1351.7,401.3 C1351.7,401.3 1351.7,448.0 1351.7,448.0 C1351.7,448.0 1186.7,448.0 1186.7,448.0 C1186.7,448.0 1186.9,435.1 1190.0,429.8Z"/>
<path fill="#FFFF50" d="M1088.3,334.7 C1088.3,334.7 1095.2,332.8 1098.3,331.3 C1101.3,330.0 1103.8,327.8 1106.7,326.3 C1108.8,325.3 1111.0,324.3 1113.3,323.8 C1116.6,323.2 1120.3,321.6 1123.3,323.0 C1125.5,324.0 1125.1,327.4 1125.8,329.7 C1126.2,331.0 1127.3,332.6 1126.7,333.8 C1125.7,335.8 1123.8,337.9 1121.7,338.0 C1118.7,338.2 1116.2,335.5 1113.3,334.7 C1110.6,333.9 1107.8,333.0 1105.0,333.0 C1101.1,332.9 1097.2,333.9 1093.3,334.3 C1091.7,334.5 1088.3,334.7 1088.3,334.7Z"/>
</g>
<g clip-path="url(#tC2)">
<rect x="1331.0" y="222.0" width="274.0" height="209.0" fill="#FFFFC8"/>
<path fill="#FFFFF0" d="M1318.7,209.7 C1318.7,209.7 1382.0,209.7 1382.0,209.7 C1382.0,209.7 1386.1,252.5 1382.0,273.0 C1380.3,281.4 1370.9,286.4 1365.3,293.0 C1363.7,294.9 1362.4,297.4 1360.3,298.8 C1356.8,301.3 1352.8,303.6 1348.7,304.7 C1344.9,305.6 1340.8,304.9 1337.0,304.7 C1330.9,304.3 1318.7,303.0 1318.7,303.0 C1318.7,303.0 1318.7,209.7 1318.7,209.7Z"/>
<path fill="#FFFFF0" d="M1367.8,321.3 C1367.8,321.3 1371.3,316.9 1373.7,315.5 C1376.1,314.0 1379.1,312.9 1382.0,313.0 C1385.5,313.2 1388.8,315.0 1392.0,316.3 C1395.4,317.8 1398.5,320.2 1402.0,321.3 C1405.2,322.4 1408.7,322.9 1412.0,323.0 C1415.3,323.1 1418.8,322.8 1422.0,322.2 C1425.4,321.5 1428.5,318.6 1432.0,318.8 C1433.8,318.9 1434.4,321.5 1435.3,323.0 C1436.6,325.1 1439.3,327.3 1438.7,329.7 C1437.9,332.7 1434.2,334.1 1432.0,336.3 C1429.8,338.5 1427.9,341.2 1425.3,343.0 C1422.3,345.1 1418.8,346.7 1415.3,348.0 C1411.6,349.4 1407.6,350.9 1403.7,351.3 C1400.4,351.7 1396.7,351.7 1393.7,350.5 C1391.0,349.4 1389.1,346.7 1387.0,344.7 C1384.7,342.5 1382.4,340.3 1380.3,338.0 C1378.0,335.4 1375.8,332.5 1373.7,329.7 C1371.7,327.0 1367.8,321.3 1367.8,321.3Z"/>
<path fill="#FFFF50" d="M1318.7,404.7 C1318.7,404.7 1327.6,403.5 1332.0,403.0 C1335.3,402.6 1338.7,401.6 1342.0,402.2 C1345.5,402.8 1348.8,404.7 1352.0,406.3 C1354.6,407.7 1357.7,409.0 1359.5,411.3 C1361.2,413.6 1361.7,416.8 1362.0,419.7 C1362.3,423.0 1361.4,426.5 1361.2,429.8 C1360.8,435.8 1360.3,448.0 1360.3,448.0 C1360.3,448.0 1318.7,448.0 1318.7,448.0 C1318.7,448.0 1318.7,404.7 1318.7,404.7Z"/>
</g>
<g clip-path="url(#tD0)">
<rect x="149.0" y="693.0" width="184.0" height="175.0" fill="#96FAFA"/>
<path fill="#32FAFA" d="M244.2,706.7 C244.3,704.8 245.1,702.7 246.7,701.7 C248.5,700.5 251.1,700.5 253.3,700.8 C256.8,701.3 260.2,702.7 263.3,704.2 C266.8,705.8 269.9,708.4 273.3,710.0 C276.5,711.4 279.9,712.6 283.3,713.3 C286.6,714.0 290.1,713.7 293.3,714.2 C295.8,714.5 298.9,714.1 300.8,715.8 C302.3,717.1 302.2,719.8 301.7,721.7 C301.0,723.9 297.8,725.2 297.5,727.5 C297.2,730.1 299.2,732.5 300.0,735.0 C300.9,737.7 302.0,740.5 302.5,743.3 C302.9,745.5 302.5,750.0 302.5,750.0 C302.5,750.0 297.5,751.8 295.0,751.7 C292.1,751.5 289.4,749.9 286.7,749.2 C283.4,748.3 280.0,747.1 276.7,746.7 C273.4,746.3 269.9,747.4 266.7,746.7 C263.7,746.0 261.2,743.6 258.3,742.5 C255.7,741.4 252.2,741.9 250.0,740.0 C247.7,738.0 246.3,734.7 245.8,731.7 C245.4,728.9 247.5,726.1 247.5,723.3 C247.5,720.5 246.4,717.8 245.8,715.0 C245.3,712.2 244.0,709.5 244.2,706.7Z"/>
<path fill="#32FAFA" d="M205.0,670.0 C207.2,673.2 212.8,671.7 216.7,671.7 C220.0,671.7 223.3,669.9 226.7,670.0 C231.1,670.2 235.7,671.3 240.0,672.5 C243.4,673.5 246.8,675.1 250.0,676.7 C252.9,678.1 255.3,680.8 258.3,681.7 C262.0,682.7 266.1,682.5 270.0,682.5 C274.4,682.5 279.0,682.2 283.3,681.7 C287.8,681.1 292.3,680.1 296.7,679.2 C301.1,678.2 305.5,676.7 310.0,675.8 C314.4,675.0 323.3,674.2 323.3,674.2 C323.3,674.2 322.5,682.4 325.0,685.0 C327.7,687.9 332.8,687.3 336.7,688.3 C341.0,689.5 345.5,691.0 350.0,691.7 C354.9,692.4 360.1,693.0 365.0,692.5 C370.1,691.9 375.1,689.7 380.0,688.3 C383.9,687.2 387.8,686.1 391.7,685.0 C395.5,683.9 399.4,682.6 403.3,681.7 C407.7,680.6 412.2,679.7 416.7,679.2 C422.1,678.6 433.3,678.3 433.3,678.3 C433.3,678.3 433.3,646.7 433.3,646.7 C433.3,646.7 200.0,646.7 200.0,646.7 C200.0,646.7 200.6,663.4 205.0,670.0Z"/>
<path fill="#00C8FA" d="M205.0,661.7 C205.0,661.7 212.7,658.7 216.7,658.3 C222.2,657.8 227.9,658.6 233.3,659.2 C238.9,659.7 244.5,660.7 250.0,661.7 C255.5,662.6 261.2,663.9 266.7,665.0 C271.1,665.9 275.5,667.1 280.0,667.5 C283.8,667.9 287.9,668.0 291.7,667.5 C295.6,666.9 299.5,665.2 303.3,664.2 C306.6,663.3 310.0,662.6 313.3,661.7 C317.2,660.6 322.5,661.5 325.0,658.3 C327.4,655.3 325.0,646.7 325.0,646.7 C325.0,646.7 200.0,646.7 200.0,646.7 C200.0,646.7 205.0,661.7 205.0,661.7Z"/>
<path fill="#FFFFF0" d="M385.8,707.5 C385.8,707.5 391.8,704.5 395.0,704.2 C399.9,703.7 405.1,704.7 410.0,705.0 C413.9,705.2 417.9,705.7 421.8,705.8 C425.6,706.0 433.3,705.8 433.3,705.8 C433.3,705.8 433.3,738.3 433.3,738.3 C433.3,738.3 425.6,737.2 421.8,737.5 C417.9,737.8 413.9,739.1 410.0,740.0 C405.6,741.0 401.0,742.1 396.7,743.3 C393.3,744.3 390.1,746.5 386.7,746.7 C383.3,746.8 379.7,745.6 376.7,744.2 C374.9,743.3 372.5,740.0 372.5,740.0 C372.5,740.0 374.8,736.0 376.7,735.0 C379.7,733.4 383.4,733.5 386.7,732.5 C390.6,731.3 398.3,728.3 398.3,728.3 C398.3,728.3 396.3,723.8 395.0,721.7 C393.5,719.3 391.5,717.3 390.0,715.0 C388.5,712.6 385.8,707.5 385.8,707.5Z"/>
<path fill="#FFFFF0" d="M349.2,729.2 C349.2,729.2 354.7,727.8 354.7,727.8 C354.7,727.8 354.7,740.0 354.7,740.0 C354.7,740.0 349.2,729.2 349.2,729.2Z"/>
<path fill="#FFFFF0" d="M409.2,781.7 C409.2,781.7 412.9,778.2 415.0,776.7 C417.1,775.1 419.3,773.2 421.8,772.5 C425.5,771.5 433.3,771.7 433.3,771.7 C433.3,771.7 433.3,791.7 433.3,791.7 C433.3,791.7 425.6,792.3 421.8,791.7 C419.4,791.2 417.0,789.9 415.0,788.3 C412.7,786.5 409.2,781.7 409.2,781.7Z"/>
<path fill="#FFFFF0" d="M335.0,782.5 C335.0,782.5 342.8,783.1 346.7,783.3 C350.5,783.6 354.6,783.4 358.3,784.2 C361.2,784.8 364.0,786.2 366.7,787.5 C370.1,789.2 373.3,791.5 376.7,793.3 C379.9,795.1 383.3,796.9 386.7,798.3 C389.9,799.7 393.4,800.6 396.7,801.7 C400.0,802.8 403.3,804.3 406.7,805.0 C411.6,806.0 421.8,806.7 421.8,806.7 C421.8,806.7 421.8,818.3 421.8,818.3 C421.8,818.3 333.3,818.3 333.3,818.3 C333.3,818.3 335.0,782.5 335.0,782.5Z"/>
</g>
<g clip-path="url(#tD1)">
<rect x="331.0" y="693.0" width="274.0" height="209.0" fill="#FFFFF0"/>
<path fill="#96FAFA" d="M318.7,680.7 C318.7,680.7 448.7,680.7 448.7,680.7 C448.7,680.7 450.8,690.1 448.7,694.0 C446.9,697.2 442.1,697.7 438.7,699.0 C433.3,701.0 427.6,703.0 422.0,704.0 C417.1,704.9 412.0,704.8 407.0,704.8 C403.1,704.8 399.2,703.5 395.3,704.0 C392.4,704.4 387.0,707.3 387.0,707.3 C387.0,707.3 388.3,713.0 389.5,715.7 C390.8,718.6 392.8,721.3 394.5,724.0 C395.6,725.7 397.8,729.0 397.8,729.0 C397.8,729.0 390.7,731.6 387.0,732.3 C383.8,733.0 380.1,731.9 377.0,733.2 C375.0,734.0 373.2,736.0 372.8,738.2 C372.5,740.0 373.8,742.1 375.3,743.2 C378.2,745.1 381.9,746.7 385.3,746.5 C390.0,746.2 394.2,742.8 398.7,741.5 C404.6,739.8 410.8,737.5 417.0,737.3 C423.1,737.2 429.3,739.5 435.3,740.7 C440.8,741.7 446.4,744.3 452.0,744.0 C458.3,743.7 464.1,739.7 470.3,739.0 C474.2,738.6 478.1,740.2 482.0,740.7 C485.6,741.1 489.7,739.8 492.8,741.5 C495.8,743.1 498.8,746.5 498.7,749.8 C498.5,754.0 494.5,757.3 492.0,760.7 C490.1,763.1 487.3,764.9 485.3,767.3 C484.2,768.8 482.4,770.5 482.8,772.3 C483.7,776.1 486.3,779.3 488.7,782.3 C491.6,786.0 498.7,792.3 498.7,792.3 C498.7,792.3 494.4,795.9 492.0,797.3 C488.8,799.2 485.7,801.8 482.0,802.3 C477.6,803.0 473.1,800.4 468.7,800.7 C465.2,800.9 462.0,803.2 458.7,804.0 C455.4,804.8 452.0,805.7 448.7,805.7 C443.1,805.7 437.5,804.3 432.0,804.0 C426.5,803.7 420.8,804.6 415.3,804.0 C411.4,803.5 407.6,801.6 403.7,800.7 C398.2,799.4 392.5,798.6 387.0,797.3 C382.6,796.3 377.9,795.7 373.7,794.0 C369.5,792.4 366.1,789.0 362.0,787.3 C357.8,785.6 353.1,784.8 348.7,784.0 C344.3,783.2 339.7,782.8 335.3,782.3 C329.8,781.7 318.7,780.7 318.7,780.7 C318.7,780.7 318.7,680.7 318.7,680.7Z"/>
<path fill="#FFFFF0" d="M409.5,781.5 C409.5,781.5 414.2,776.0 417.0,774.0 C420.0,771.9 423.5,770.0 427.0,769.0 C431.3,767.8 435.9,767.3 440.3,767.3 C445.3,767.3 450.5,767.6 455.3,769.0 C458.4,769.9 461.6,771.6 463.7,774.0 C465.6,776.2 467.0,779.4 467.0,782.3 C467.0,785.3 464.7,787.9 463.7,790.7 C462.5,793.9 460.3,800.7 460.3,800.7 C460.3,800.7 455.6,798.8 453.7,797.3 C451.2,795.5 449.6,792.4 447.0,790.7 C444.5,789.0 441.6,787.9 438.7,787.3 C436.0,786.8 433.0,786.9 430.3,787.3 C426.4,788.0 422.5,791.7 418.7,790.7 C414.5,789.5 409.5,781.5 409.5,781.5Z"/>
<path fill="#FFFFF0" d="M348.7,729.0 C348.7,729.0 354.5,727.8 354.5,727.8 C354.5,727.8 355.0,739.0 355.0,739.0 C355.0,739.0 352.5,737.0 351.7,735.7 C350.4,733.6 348.7,729.0 348.7,729.0Z"/>
<path fill="#96FAFA" d="M495.3,687.3 C495.3,687.3 502.9,693.3 507.0,695.7 C510.6,697.7 514.7,699.3 518.7,700.7 C523.0,702.1 527.5,704.0 532.0,704.0 C536.5,704.0 541.0,701.8 545.3,700.7 C549.2,699.6 553.9,699.8 557.0,697.3 C559.9,695.0 562.0,687.3 562.0,687.3 C562.0,687.3 495.3,687.3 495.3,687.3Z"/>
<path fill="#96FAFA" d="M510.3,748.2 C509.6,746.1 511.9,743.7 513.7,742.3 C516.0,740.5 519.1,739.6 522.0,739.0 C526.9,738.0 532.0,738.0 537.0,737.7 C540.8,737.4 544.8,736.7 548.7,737.0 C550.2,737.1 552.8,739.0 552.8,739.0 C552.8,739.0 547.4,741.8 545.3,744.0 C543.1,746.3 542.2,749.7 540.3,752.3 C538.9,754.4 537.5,756.8 535.3,758.2 C532.4,760.0 528.8,761.8 525.3,761.5 C522.6,761.2 520.7,758.3 518.7,756.5 C515.8,753.9 511.6,751.8 510.3,748.2Z"/>
<path fill="#FFFFC8" d="M623.7,757.3 C623.7,757.3 610.4,757.7 603.8,758.2 C599.9,758.5 595.9,759.1 592.0,759.8 C588.1,760.5 583.9,760.7 580.3,762.3 C577.1,763.8 574.5,766.5 572.0,769.0 C569.5,771.5 567.7,774.7 565.3,777.3 C563.3,779.7 561.2,782.2 558.7,784.0 C555.6,786.1 551.8,787.1 548.7,789.0 C546.3,790.4 543.8,791.9 542.0,794.0 C540.4,795.9 540.3,798.8 538.7,800.7 C536.9,802.8 534.5,804.4 532.0,805.7 C528.9,807.2 525.4,808.2 522.0,809.0 C518.8,809.8 514.5,808.5 512.0,810.7 C509.4,813.0 507.7,817.3 508.7,820.7 C511.2,829.2 513.3,842.2 522.0,844.0 C554.9,850.7 623.7,844.0 623.7,844.0 C623.7,844.0 623.7,757.3 623.7,757.3Z"/>
<path fill="#FFFF50" d="M623.7,772.3 C623.7,772.3 610.4,773.5 603.8,774.0 C599.9,774.3 595.7,773.6 592.0,774.8 C588.8,775.9 586.4,778.7 583.7,780.7 C579.8,783.4 575.9,786.3 572.0,789.0 C568.7,791.3 565.3,793.5 562.0,795.7 C558.7,797.9 555.1,799.9 552.0,802.3 C549.6,804.3 547.9,807.2 545.3,809.0 C542.3,811.1 538.7,812.6 535.3,814.0 C531.6,815.6 526.7,815.5 523.7,818.2 C521.3,820.3 520.3,824.1 520.3,827.3 C520.3,832.9 523.7,844.0 523.7,844.0 C523.7,844.0 623.7,844.0 623.7,844.0 C623.7,844.0 623.7,772.3 623.7,772.3Z"/>
<path fill="#F5F00A" d="M623.7,789.0 C623.7,789.0 610.4,790.0 603.8,790.7 C599.9,791.1 595.8,791.5 592.0,792.3 C588.6,793.1 585.2,794.3 582.0,795.7 C578.6,797.1 575.3,799.0 572.0,800.7 C568.7,802.3 565.1,803.7 562.0,805.7 C559.0,807.6 556.3,810.0 553.7,812.3 C551.3,814.4 549.5,817.2 547.0,819.0 C544.0,821.1 540.4,822.6 537.0,824.0 C533.8,825.3 528.9,824.4 527.0,827.3 C523.9,832.0 523.7,844.0 523.7,844.0 C523.7,844.0 623.7,844.0 623.7,844.0 C623.7,844.0 623.7,789.0 623.7,789.0Z"/>
<path fill="#FFC080" d="M623.7,797.3 C623.7,797.3 610.4,798.3 603.8,799.0 C599.9,799.4 595.8,799.5 592.0,800.7 C588.5,801.7 585.3,804.0 582.0,805.7 C578.7,807.3 575.3,809.0 572.0,810.7 C568.7,812.3 565.2,813.9 562.0,815.7 C559.2,817.2 556.5,819.1 553.7,820.7 C550.4,822.4 547.2,824.5 543.7,825.7 C539.9,827.0 532.0,828.2 532.0,828.2 C532.0,828.2 532.0,844.0 532.0,844.0 C532.0,844.0 623.7,844.0 623.7,844.0 C623.7,844.0 623.7,797.3 623.7,797.3Z"/>
</g>
<g clip-path="url(#tE1)">
<rect x="603.0" y="636.0" width="274.0" height="209.0" fill="#FFFFC8"/>
<path fill="#FFFFF0" d="M590.7,623.7 C590.7,623.7 734.0,623.7 734.0,623.7 C734.0,623.7 734.7,632.7 734.0,637.0 C733.6,639.4 732.2,641.7 730.7,643.7 C727.8,647.3 724.3,650.8 720.7,653.7 C716.6,656.9 711.4,658.8 707.3,662.0 C705.8,663.2 704.0,667.0 704.0,667.0 C704.0,667.0 710.6,672.6 714.0,675.3 C716.1,677.1 718.8,678.3 720.7,680.3 C721.9,681.7 723.4,683.5 723.2,685.3 C722.8,687.9 720.9,690.2 719.0,692.0 C716.7,694.2 713.4,695.3 710.7,697.0 C709.0,698.1 706.8,698.7 705.7,700.3 C704.4,702.2 703.5,704.8 704.0,707.0 C704.7,710.1 706.7,713.1 709.0,715.3 C712.3,718.7 717.4,720.2 720.7,723.7 C723.3,726.4 725.6,730.0 726.5,733.7 C727.3,736.9 726.1,740.4 725.7,743.7 C725.3,747.0 724.2,750.3 724.0,753.7 C723.7,758.1 725.0,762.7 724.0,767.0 C723.3,770.1 721.6,773.4 719.0,775.3 C716.8,777.0 713.4,777.5 710.7,777.0 C707.5,776.4 705.0,773.8 702.3,772.0 C699.4,770.0 696.8,767.5 694.0,765.3 C691.2,763.1 689.1,759.4 685.7,758.7 C682.8,758.1 679.7,760.2 677.3,762.0 C675.1,763.6 673.7,766.3 672.3,768.7 C670.9,771.3 670.2,774.3 669.0,777.0 C668.0,779.2 667.7,782.3 665.7,783.7 C662.3,785.9 658.0,786.8 654.0,787.0 C648.5,787.3 642.7,786.5 637.3,785.3 C632.7,784.3 628.1,782.7 624.0,780.3 C620.3,778.2 617.3,774.8 614.0,772.0 C610.7,769.2 607.8,765.6 604.0,763.7 C599.9,761.6 590.7,760.3 590.7,760.3 C590.7,760.3 590.7,623.7 590.7,623.7Z"/>
<path fill="#FFFFC8" d="M624.0,705.3 C625.7,702.3 629.0,699.9 632.3,698.7 C635.9,697.3 644.0,697.8 644.0,697.8 C644.0,697.8 646.0,705.0 646.5,708.7 C647.1,712.5 647.8,716.5 647.3,720.3 C646.9,723.8 646.5,728.0 644.0,730.3 C642.0,732.2 638.2,732.3 635.7,731.2 C632.6,729.8 630.8,726.4 629.0,723.7 C627.0,720.6 625.0,717.2 624.0,713.7 C623.3,711.0 622.7,707.7 624.0,705.3Z"/>
<path fill="#96FAFA" d="M590.7,623.7 C590.7,623.7 682.3,623.7 682.3,623.7 C682.3,623.7 680.5,634.5 677.3,638.7 C675.1,641.6 670.7,642.2 667.3,643.7 C663.0,645.5 658.5,647.2 654.0,648.7 C648.6,650.5 642.8,651.9 637.3,653.7 C632.9,655.2 628.2,656.6 624.0,658.7 C620.5,660.4 617.4,663.2 614.0,665.3 C610.8,667.4 607.4,669.5 604.0,671.2 C599.7,673.3 590.7,677.0 590.7,677.0 C590.7,677.0 590.7,623.7 590.7,623.7Z"/>
<path fill="#32FAFA" d="M590.7,623.7 C590.7,623.7 617.3,623.7 617.3,623.7 C617.3,623.7 616.9,633.5 614.0,637.0 C611.8,639.6 607.3,638.6 604.0,639.3 C599.6,640.3 590.7,642.0 590.7,642.0 C590.7,642.0 590.7,623.7 590.7,623.7Z"/>
<path fill="#FFFFF0" d="M762.3,637.0 C762.3,637.0 767.7,640.8 770.7,642.0 C774.9,643.8 779.4,645.9 784.0,646.2 C787.9,646.4 792.1,645.3 795.7,643.7 C798.9,642.2 804.0,637.0 804.0,637.0 C804.0,637.0 793.7,627.0 787.3,627.0 C778.4,627.0 762.3,637.0 762.3,637.0Z"/>
<path fill="#FFFF50" d="M864.0,623.7 C864.0,623.7 864.5,637.2 860.7,642.0 C857.4,646.1 849.9,644.0 845.7,647.0 C841.8,649.8 840.4,655.1 837.3,658.7 C833.8,662.8 829.7,666.7 825.7,670.3 C823.1,672.7 819.5,674.2 817.3,677.0 C815.0,679.9 814.2,683.8 812.3,687.0 C809.8,691.5 807.0,696.1 804.0,700.3 C801.5,703.8 798.2,706.8 795.7,710.3 C792.7,714.6 790.6,719.6 787.3,723.7 C783.9,727.9 779.9,731.9 775.7,735.3 C771.0,739.1 764.5,740.8 760.7,745.3 C758.1,748.4 758.1,753.1 757.3,757.0 C756.5,761.3 756.5,766.0 755.7,770.3 C754.9,774.3 754.6,778.7 752.3,782.0 C749.4,786.2 744.8,789.0 740.7,792.0 C736.5,795.1 731.9,797.9 727.3,800.3 C722.5,802.9 717.4,805.0 712.3,807.0 C707.5,808.9 702.5,811.4 697.3,812.0 C692.9,812.5 688.2,811.7 684.0,810.3 C679.3,808.9 675.2,805.7 670.7,803.7 C665.3,801.3 659.5,799.2 654.0,797.0 C648.5,794.8 642.9,792.3 637.3,790.3 C631.9,788.4 626.2,786.7 620.7,785.3 C615.2,784.0 609.5,783.2 604.0,782.0 C599.6,781.0 590.7,778.7 590.7,778.7 C590.7,778.7 590.7,862.0 590.7,862.0 C590.7,862.0 895.7,862.0 895.7,862.0 C895.7,862.0 895.7,623.7 895.7,623.7 C895.7,623.7 864.0,623.7 864.0,623.7Z"/>
<path fill="#FFFF50" d="M759.0,667.0 C761.1,665.9 763.3,664.6 765.7,664.5 C768.5,664.3 771.7,664.6 774.0,666.2 C776.9,668.1 780.7,674.5 780.7,674.5 C780.7,674.5 775.2,678.6 772.3,680.3 C768.6,682.5 760.7,686.2 760.7,686.2 C760.7,686.2 759.7,680.8 758.2,678.7 C757.3,677.5 754.5,678.4 754.0,677.0 C753.2,674.9 753.8,672.3 754.8,670.3 C755.6,668.8 757.4,667.8 759.0,667.0Z"/>
<path fill="#F5F00A" d="M895.7,667.0 C895.7,667.0 882.2,668.3 875.8,670.3 C871.6,671.7 867.6,674.4 864.0,677.0 C859.3,680.4 855.6,685.6 850.7,688.7 C846.7,691.2 841.7,691.9 837.3,693.7 C833.4,695.2 829.3,696.6 825.7,698.7 C821.6,701.0 817.5,703.8 814.0,707.0 C810.3,710.4 807.1,714.7 804.0,718.7 C801.1,722.4 798.9,726.9 795.7,730.3 C792.2,734.1 787.7,736.9 784.0,740.3 C781.1,743.0 777.3,745.1 775.7,748.7 C773.8,752.7 774.5,757.6 774.0,762.0 C773.5,766.4 772.9,770.9 772.3,775.3 C771.8,779.2 772.5,783.6 770.7,787.0 C768.5,791.1 764.2,794.0 760.7,797.0 C757.1,800.1 752.5,802.1 749.0,805.3 C745.8,808.2 743.6,812.2 740.7,815.3 C737.5,818.8 734.2,822.3 730.7,825.3 C726.5,828.9 721.9,832.2 717.3,835.3 C713.0,838.3 707.3,839.8 704.0,843.8 C699.8,849.0 695.7,862.0 695.7,862.0 C695.7,862.0 895.7,862.0 895.7,862.0 C895.7,862.0 895.7,667.0 895.7,667.0Z"/>
<path fill="#FFC080" d="M895.7,702.0 C895.7,702.0 882.3,702.3 875.8,703.7 C871.7,704.5 867.6,706.5 864.0,708.7 C860.3,710.9 857.5,714.6 854.0,717.0 C851.5,718.7 848.7,720.8 845.7,721.2 C841.8,721.6 837.9,719.9 834.0,719.5 C830.7,719.1 827.1,717.6 824.0,718.7 C819.5,720.2 816.1,724.1 812.3,727.0 C808.3,730.1 804.3,733.4 800.7,737.0 C796.5,741.1 790.1,744.6 789.0,750.3 C788.1,755.2 793.1,759.4 795.7,763.7 C798.1,767.7 801.1,771.6 804.0,775.3 C806.6,778.7 808.8,782.9 812.3,785.3 C816.2,788.0 822.3,787.0 825.7,790.3 C828.0,792.7 828.1,797.1 827.3,800.3 C826.3,804.7 820.7,812.0 820.7,812.0 C820.7,812.0 826.2,815.0 829.0,816.2 C832.8,817.7 837.1,818.3 840.7,820.3 C844.4,822.5 847.8,825.5 850.7,828.7 C852.3,830.5 854.3,832.9 854.0,835.3 C853.6,838.6 850.0,840.7 849.0,843.8 C847.2,849.7 845.7,862.0 845.7,862.0 C845.7,862.0 895.7,862.0 895.7,862.0 C895.7,862.0 895.7,702.0 895.7,702.0Z"/>
<path fill="#FF962D" d="M875.8,758.7 C873.9,759.1 872.9,761.7 872.3,763.7 C871.7,765.8 871.7,768.2 872.3,770.3 C872.9,772.3 873.9,774.9 875.8,775.3 C882.2,776.7 895.7,775.3 895.7,775.3 C895.7,775.3 895.7,758.7 895.7,758.7 C895.7,758.7 882.2,757.3 875.8,758.7Z"/>
</g>
<g clip-path="url(#tE2)">
<rect x="875.0" y="636.0" width="274.0" height="209.0" fill="#FF962D"/>
<path fill="#FFC080" d="M862.7,623.7 C862.7,623.7 1167.7,623.7 1167.7,623.7 C1167.7,623.7 1167.7,653.7 1167.7,653.7 C1167.7,653.7 1154.4,654.2 1147.8,654.5 C1143.4,654.7 1138.8,654.7 1134.3,655.3 C1130.4,655.9 1126.4,656.6 1122.7,657.8 C1118.1,659.4 1113.5,661.3 1109.3,663.7 C1105.2,666.0 1101.2,668.8 1097.7,672.0 C1094.5,674.9 1092.4,679.0 1089.3,682.0 C1086.3,685.0 1082.9,687.9 1079.3,690.3 C1075.7,692.9 1071.1,694.2 1067.7,697.0 C1064.4,699.8 1062.4,704.0 1059.3,707.0 C1055.8,710.4 1051.9,713.8 1047.7,716.2 C1043.0,718.8 1037.4,719.5 1032.7,722.0 C1027.4,724.8 1023.1,729.5 1017.7,732.0 C1014.1,733.7 1009.9,734.0 1006.0,734.5 C1001.6,735.1 996.9,734.3 992.7,735.3 C989.1,736.2 985.7,738.2 982.7,740.3 C979.5,742.6 976.8,745.7 974.3,748.7 C971.3,752.3 969.3,757.0 966.0,760.3 C963.2,763.1 959.7,765.7 956.0,767.0 C951.8,768.5 947.1,768.1 942.7,768.7 C938.3,769.2 933.7,769.8 929.3,770.3 C924.9,770.9 920.3,771.0 916.0,772.0 C913.1,772.7 910.1,773.7 907.7,775.3 C905.1,777.1 902.9,779.5 901.0,782.0 C899.0,784.5 897.3,787.4 896.0,790.3 C894.6,793.5 893.9,797.1 892.7,800.3 C891.7,803.1 891.6,806.7 889.3,808.7 C886.7,811.0 881.6,809.4 879.3,812.0 C877.1,814.5 877.7,822.0 877.7,822.0 C877.7,822.0 884.7,822.2 887.7,823.7 C890.4,825.1 892.3,828.0 894.3,830.3 C896.1,832.4 898.6,834.4 899.3,837.0 C900.9,842.3 901.0,853.7 901.0,853.7 C901.0,853.7 862.7,853.7 862.7,853.7 C862.7,853.7 862.7,623.7 862.7,623.7Z"/>
<path fill="#FF962D" d="M876.0,752.0 C878.9,750.8 880.5,747.5 882.7,745.3 C884.9,743.1 886.9,740.7 889.3,738.7 C891.9,736.5 894.6,734.1 897.7,732.8 C900.8,731.6 904.3,731.0 907.7,731.2 C910.0,731.3 912.2,732.6 914.3,733.7 C917.2,735.1 922.7,738.7 922.7,738.7 C922.7,738.7 916.9,741.7 914.3,743.7 C911.9,745.6 909.4,747.7 907.7,750.3 C906.0,752.8 905.9,756.1 904.3,758.7 C902.5,761.7 900.3,764.6 897.7,767.0 C894.7,769.7 891.2,771.8 887.7,773.7 C884.0,775.7 880.0,777.6 876.0,778.7 C871.7,779.8 862.7,780.3 862.7,780.3 C862.7,780.3 862.7,753.7 862.7,753.7 C862.7,753.7 871.9,753.7 876.0,752.0Z"/>
<path fill="#F5F00A" d="M862.7,623.7 C862.7,623.7 1082.7,623.7 1082.7,623.7 C1082.7,623.7 1083.4,634.3 1081.0,638.7 C1079.6,641.3 1075.4,640.9 1072.7,642.0 C1068.3,643.7 1063.5,644.8 1059.3,647.0 C1056.2,648.7 1053.8,651.6 1051.0,653.7 C1047.8,656.0 1044.8,659.2 1041.0,660.3 C1036.3,661.8 1030.9,660.5 1026.0,661.2 C1022.6,661.6 1018.9,661.8 1016.0,663.7 C1013.0,665.6 1012.5,670.5 1009.3,672.0 C1004.3,674.3 998.2,674.8 992.7,674.5 C987.0,674.2 981.7,670.3 976.0,670.3 C972.9,670.3 970.3,672.9 967.7,674.5 C964.8,676.2 962.4,678.9 959.3,680.3 C955.7,682.0 951.7,683.4 947.7,683.7 C943.2,684.0 938.8,681.9 934.3,682.0 C928.8,682.2 923.2,684.1 917.7,684.5 C909.4,685.2 900.9,684.9 892.7,685.3 C891.0,685.4 888.7,684.9 887.7,686.2 C886.1,688.1 887.2,691.5 886.0,693.7 C884.4,696.6 882.5,700.1 879.3,701.2 C874.1,703.0 862.7,702.0 862.7,702.0 C862.7,702.0 862.7,623.7 862.7,623.7Z"/>
<path fill="#FFFF50" d="M862.7,623.7 C862.7,623.7 904.3,623.7 904.3,623.7 C904.3,623.7 904.8,633.1 902.7,637.0 C901.1,639.8 896.4,639.6 894.3,642.0 C892.4,644.2 891.9,647.5 891.0,650.3 C889.7,654.1 890.2,658.9 887.7,662.0 C884.9,665.4 880.2,667.3 876.0,668.7 C871.8,670.1 862.7,670.3 862.7,670.3 C862.7,670.3 862.7,623.7 862.7,623.7Z"/>
<path fill="#FFC080" d="M928.5,643.7 C928.5,643.7 937.9,641.4 942.7,641.2 C948.2,640.9 953.9,641.2 959.3,642.0 C961.7,642.3 966.0,644.5 966.0,644.5 C966.0,644.5 959.4,647.5 956.0,648.7 C951.7,650.2 947.2,652.0 942.7,652.8 C938.3,653.6 929.3,653.7 929.3,653.7 C929.3,653.7 928.5,643.7 928.5,643.7Z"/>
<path fill="#F5F00A" d="M911.8,706.2 C911.8,706.2 916.7,703.9 919.3,703.7 C923.7,703.3 928.6,702.8 932.7,704.5 C936.8,706.3 939.4,710.6 942.7,713.7 C944.4,715.3 947.7,718.7 947.7,718.7 C947.7,718.7 938.8,720.9 934.3,721.2 C930.5,721.4 926.2,721.8 922.7,720.3 C919.8,719.2 917.9,716.1 916.0,713.7 C914.3,711.4 911.8,706.2 911.8,706.2Z"/>
<path fill="#FF8888" d="M972.7,843.8 C973.0,838.3 972.6,832.3 974.3,827.0 C976.5,820.5 980.8,814.6 984.3,808.7 C988.0,802.5 991.4,795.8 996.0,790.3 C999.7,785.8 1004.8,782.4 1009.3,778.7 C1013.6,775.2 1018.3,772.0 1022.7,768.7 C1025.5,766.5 1028.4,764.4 1031.0,762.0 C1033.9,759.4 1036.9,756.7 1039.3,753.7 C1041.8,750.6 1043.7,746.9 1046.0,743.7 C1048.1,740.8 1049.7,737.3 1052.7,735.3 C1055.0,733.8 1058.2,733.2 1061.0,733.7 C1064.6,734.3 1068.0,736.5 1071.0,738.7 C1074.1,741.0 1076.0,745.0 1079.3,747.0 C1082.8,749.0 1087.0,750.4 1091.0,750.3 C1097.2,750.2 1103.1,746.2 1109.3,746.2 C1113.4,746.2 1121.0,750.3 1121.0,750.3 C1121.0,750.3 1118.0,758.0 1117.7,762.0 C1117.4,764.8 1118.3,767.7 1119.3,770.3 C1120.8,774.4 1125.4,777.7 1125.2,782.0 C1124.8,787.5 1121.0,792.6 1117.7,797.0 C1114.6,801.0 1110.0,803.8 1106.0,807.0 C1101.7,810.4 1097.2,813.9 1092.7,817.0 C1089.0,819.5 1084.0,820.4 1081.0,823.7 C1078.7,826.3 1078.2,830.2 1077.7,833.7 C1076.6,840.2 1076.0,853.7 1076.0,853.7 C1076.0,853.7 972.7,853.7 972.7,853.7 C972.7,853.7 972.5,847.1 972.7,843.8Z"/>
<path fill="#FF962D" d="M1042.7,778.7 C1044.8,774.5 1051.4,774.8 1056.0,773.7 C1059.2,772.9 1063.0,771.4 1066.0,772.8 C1069.5,774.5 1073.5,782.0 1073.5,782.0 C1073.5,782.0 1067.3,787.5 1064.3,790.3 C1061.0,793.6 1057.6,797.0 1054.3,800.3 C1052.1,802.5 1047.7,807.0 1047.7,807.0 C1047.7,807.0 1044.9,800.4 1044.3,797.0 C1043.3,791.0 1039.9,784.1 1042.7,778.7Z"/>
<path fill="#FF962D" d="M1036.0,843.8 C1036.9,839.9 1036.5,834.9 1039.3,832.0 C1041.7,829.6 1046.2,829.3 1049.3,830.3 C1051.9,831.2 1053.4,834.4 1054.3,837.0 C1056.2,842.3 1057.7,853.7 1057.7,853.7 C1057.7,853.7 1034.3,853.7 1034.3,853.7 C1034.3,853.7 1035.3,847.0 1036.0,843.8Z"/>
</g>
<g clip-path="url(#tE3)">
<rect x="1147.0" y="636.0" width="274.0" height="209.0" fill="#FF962D"/>
<path fill="#FFC080" d="M1134.7,623.7 C1134.7,623.7 1214.7,623.7 1214.7,623.7 C1214.7,623.7 1214.7,653.7 1214.7,653.7 C1214.7,653.7 1199.0,653.4 1191.3,654.5 C1188.9,654.8 1187.1,657.6 1184.7,657.8 C1181.3,658.2 1178.0,656.5 1174.7,656.2 C1170.3,655.7 1165.7,655.6 1161.3,655.3 C1156.9,655.1 1152.4,654.5 1148.0,654.5 C1143.6,654.5 1134.7,655.3 1134.7,655.3 C1134.7,655.3 1134.7,623.7 1134.7,623.7Z"/>
<path fill="#FFC080" d="M1158.0,805.3 C1159.6,803.3 1162.2,802.0 1164.7,801.2 C1168.4,800.0 1172.4,799.6 1176.3,799.5 C1179.6,799.4 1183.3,798.9 1186.3,800.3 C1188.0,801.1 1188.6,803.5 1188.8,805.3 C1189.2,808.1 1188.5,811.0 1188.0,813.7 C1187.4,816.5 1186.7,819.4 1185.5,822.0 C1184.4,824.4 1182.9,826.6 1181.3,828.7 C1179.3,831.5 1176.7,834.1 1174.7,837.0 C1172.8,839.6 1170.9,842.4 1169.7,845.3 C1167.5,850.7 1169.4,858.8 1164.7,862.0 C1159.2,865.7 1144.7,862.0 1144.7,862.0 C1144.7,862.0 1146.3,845.1 1148.0,837.0 C1149.1,831.9 1151.3,827.0 1153.0,822.0 C1154.1,818.7 1155.3,815.3 1156.3,812.0 C1157.0,809.8 1156.6,807.1 1158.0,805.3Z"/>
</g>
<g clip-path="url(#tG1)">
<rect x="603.0" y="843.0" width="274.0" height="209.0" fill="#F5F00A"/>
<path fill="#FFC080" d="M660.7,872.3 C663.0,872.7 663.8,875.9 665.7,877.3 C668.2,879.3 670.8,881.9 674.0,882.3 C677.4,882.8 680.7,880.4 684.0,879.8 C686.7,879.3 689.7,878.2 692.3,879.0 C694.8,879.7 697.0,881.7 698.2,884.0 C699.7,887.0 699.6,890.7 699.8,894.0 C700.1,898.4 699.7,902.9 699.8,907.3 C700.0,910.6 700.7,914.0 700.7,917.3 C700.7,921.7 699.2,926.3 699.8,930.7 C700.3,934.2 702.1,937.7 704.0,940.7 C705.7,943.3 707.9,945.9 710.7,947.3 C713.1,948.6 716.4,949.1 719.0,948.2 C721.4,947.3 722.9,944.6 724.0,942.3 C725.2,939.8 725.1,936.7 725.7,934.0 C726.2,931.5 727.3,926.5 727.3,926.5 C727.3,926.5 731.7,929.4 734.0,930.7 C736.7,932.2 739.4,934.1 742.3,934.8 C746.1,935.8 750.1,935.8 754.0,935.7 C757.3,935.5 760.9,935.3 764.0,934.0 C767.7,932.5 770.7,929.6 774.0,927.3 C776.8,925.4 779.0,922.1 782.3,921.5 C786.2,920.9 790.1,923.5 794.0,924.0 C798.4,924.6 803.0,925.4 807.3,924.8 C811.4,924.3 815.4,922.6 819.0,920.7 C822.1,919.0 824.7,916.3 827.3,914.0 C828.8,912.7 831.5,909.8 831.5,909.8 C831.5,909.8 827.4,908.5 825.7,907.3 C822.7,905.4 819.7,903.3 817.3,900.7 C815.2,898.3 813.7,895.2 812.3,892.3 C811.7,891.1 810.8,889.4 811.5,888.2 C813.2,885.1 816.5,883.1 819.0,880.7 C821.8,877.9 825.0,875.5 827.3,872.3 C829.5,869.3 831.1,865.8 832.3,862.3 C833.3,859.7 832.3,856.2 834.0,854.0 C836.4,850.9 840.6,849.3 844.0,847.3 C847.2,845.5 850.5,843.5 854.0,842.3 C867.6,837.9 895.7,830.7 895.7,830.7 C895.7,830.7 895.7,977.3 895.7,977.3 C895.7,977.3 637.3,977.3 637.3,977.3 C637.3,977.3 637.3,872.3 637.3,872.3 C637.3,872.3 653.1,871.0 660.7,872.3Z"/>
<path fill="#FF962D" d="M875.8,890.7 C872.6,891.2 869.6,893.4 867.3,895.7 C865.1,897.9 863.2,900.9 862.3,904.0 C861.3,907.7 861.3,911.8 861.5,915.7 C861.8,920.7 863.0,925.8 864.0,930.7 C864.9,935.1 865.2,940.0 867.3,944.0 C869.2,947.4 872.1,951.2 875.8,952.3 C882.1,954.2 895.7,952.3 895.7,952.3 C895.7,952.3 895.7,890.7 895.7,890.7 C895.7,890.7 882.3,889.5 875.8,890.7Z"/>
<path fill="#FFFF50" d="M679.8,840.7 C679.8,840.7 680.6,847.7 682.3,850.7 C683.3,852.2 685.5,853.2 687.3,853.2 C689.7,853.2 692.0,851.9 694.0,850.7 C696.0,849.4 697.5,847.5 699.0,845.7 C700.3,844.1 702.3,840.7 702.3,840.7 C702.3,840.7 679.8,840.7 679.8,840.7Z"/>
</g>
<g clip-path="url(#tG2)">
<rect x="875.0" y="843.0" width="274.0" height="209.0" fill="#FF962D"/>
<path fill="#FFC080" d="M862.7,830.7 C862.7,830.7 901.0,830.7 901.0,830.7 C901.0,830.7 900.4,844.1 899.3,850.7 C898.8,854.1 897.9,857.8 896.0,860.7 C893.4,864.5 888.8,866.9 886.0,870.7 C883.8,873.6 882.8,877.4 881.0,880.7 C879.5,883.5 878.6,887.1 876.0,889.0 C872.2,891.8 862.7,894.0 862.7,894.0 C862.7,894.0 862.7,830.7 862.7,830.7Z"/>
<path fill="#FFC080" d="M1101.8,876.5 C1101.8,876.5 1106.6,869.0 1109.3,865.7 C1111.3,863.2 1113.3,860.6 1116.0,859.0 C1120.1,856.6 1125.0,855.9 1129.3,854.0 C1132.7,852.5 1136.1,850.8 1139.3,849.0 C1142.2,847.5 1144.8,845.1 1147.8,844.0 C1154.2,841.8 1167.7,839.0 1167.7,839.0 C1167.7,839.0 1167.7,869.0 1167.7,869.0 C1167.7,869.0 1154.3,866.2 1147.8,867.3 C1144.3,868.0 1142.4,872.2 1139.3,874.0 C1135.2,876.4 1130.4,877.8 1126.0,879.8 C1122.1,881.7 1118.6,884.9 1114.3,885.7 C1112.0,886.1 1109.6,884.6 1107.7,883.2 C1105.3,881.4 1101.8,876.5 1101.8,876.5Z"/>
<path fill="#FF8888" d="M974.3,837.3 C974.3,837.3 976.5,845.9 979.3,849.0 C981.8,851.7 985.9,852.7 989.3,854.0 C993.6,855.7 998.1,857.6 1002.7,858.2 C1006.5,858.7 1010.7,858.6 1014.3,857.3 C1016.5,856.6 1018.3,854.4 1019.3,852.3 C1021.7,847.7 1024.3,837.3 1024.3,837.3 C1024.3,837.3 974.3,837.3 974.3,837.3Z"/>
<path fill="#FF8888" d="M1059.3,837.3 C1059.3,837.3 1062.5,845.3 1064.3,849.0 C1065.8,851.9 1069.3,857.3 1069.3,857.3 C1069.3,857.3 1072.9,854.4 1073.5,852.3 C1074.9,847.6 1075.2,837.3 1075.2,837.3 C1075.2,837.3 1059.3,837.3 1059.3,837.3Z"/>
<path fill="#FF8888" d="M927.7,888.2 C928.8,886.9 931.0,886.7 932.7,887.0 C934.1,887.3 935.5,888.5 936.0,889.8 C937.0,892.7 936.1,896.1 936.8,899.0 C937.7,902.5 940.8,905.4 941.0,909.0 C941.1,911.5 939.2,913.7 937.7,915.7 C936.1,917.7 931.8,920.7 931.8,920.7 C931.8,920.7 928.9,916.4 928.5,914.0 C927.9,910.2 929.3,906.2 929.0,902.3 C928.8,899.5 927.1,896.8 926.8,894.0 C926.7,892.1 926.4,889.7 927.7,888.2Z"/>
<path fill="#FF8888" d="M898.2,920.3 C898.2,920.3 901.4,920.6 902.7,921.5 C904.4,922.7 905.5,924.8 906.8,926.5 C908.0,928.1 910.2,931.5 910.2,931.5 C910.2,931.5 899.3,931.5 899.3,931.5 C899.3,931.5 898.2,920.3 898.2,920.3Z"/>
<path fill="#FF8888" d="M921.8,952.3 C921.8,952.3 928.5,951.4 931.0,953.2 C932.9,954.5 932.7,959.8 932.7,959.8 C932.7,959.8 927.8,960.3 926.0,959.0 C923.9,957.5 921.8,952.3 921.8,952.3Z"/>
<path fill="#FFC080" d="M926.0,1015.7 C927.2,1014.1 929.2,1013.1 931.0,1012.3 C933.1,1011.4 935.4,1010.5 937.7,1010.7 C940.0,1010.8 942.7,1011.5 944.3,1013.2 C945.7,1014.6 946.0,1017.0 946.0,1019.0 C946.0,1021.3 945.6,1023.8 944.3,1025.7 C943.2,1027.3 941.3,1028.5 939.3,1029.0 C936.7,1029.7 933.7,1029.7 931.0,1029.0 C929.1,1028.5 927.2,1027.2 926.0,1025.7 C925.0,1024.3 924.7,1022.4 924.7,1020.7 C924.7,1019.0 925.0,1017.0 926.0,1015.7Z"/>
</g>
<g clip-path="url(#tG3)">
<rect x="1147.0" y="843.0" width="274.0" height="209.0" fill="#FF962D"/>
<path fill="#FFC080" d="M1134.7,830.7 C1134.7,830.7 1169.7,830.7 1169.7,830.7 C1169.7,830.7 1168.0,839.8 1166.3,844.0 C1165.2,847.0 1163.3,849.8 1161.3,852.3 C1159.4,854.8 1157.0,857.0 1154.7,859.0 C1152.6,860.8 1150.4,862.6 1148.0,864.0 C1143.8,866.5 1134.7,870.7 1134.7,870.7 C1134.7,870.7 1134.7,830.7 1134.7,830.7Z"/>
<path fill="#FFC080" d="M1219.7,878.2 C1221.6,878.3 1223.0,880.6 1223.8,882.3 C1224.7,884.1 1224.9,886.2 1224.7,888.2 C1224.3,890.8 1223.0,893.2 1222.2,895.7 C1221.3,898.4 1220.5,901.2 1219.7,904.0 C1218.8,906.8 1218.3,909.7 1217.2,912.3 C1216.3,914.4 1215.0,916.3 1213.8,918.2 C1212.6,920.2 1211.4,922.4 1209.7,924.0 C1208.0,925.5 1206.1,927.3 1203.8,927.3 C1201.6,927.3 1199.5,925.7 1198.0,924.0 C1196.4,922.2 1195.6,919.7 1195.2,917.3 C1194.8,915.2 1195.1,912.8 1195.5,910.7 C1196.0,907.8 1197.0,905.0 1198.0,902.3 C1198.9,899.8 1200.0,897.2 1201.3,894.8 C1202.8,892.2 1204.4,889.6 1206.3,887.3 C1208.3,885.1 1210.6,883.2 1213.0,881.5 C1215.0,880.1 1217.2,878.0 1219.7,878.2Z"/>
</g>
</g>
<path d="M875.8,513.3 L870.7,518.3 L869.8,526.7 L872.3,536.7 L874.0,543.3 L867.3,553.3 L859.0,565.0 L849.0,575.0 L837.3,578.3 L820.7,582.5 L812.3,588.3 L812.3,593.3 L819.0,596.7 L820.7,601.7 L814.0,606.7 L804.0,613.3 L792.3,613.3 L785.7,616.7 L784.0,620.0 L774.0,619.2 L760.7,618.3 L754.0,613.3 L745.7,611.7 L737.3,614.2 L727.3,612.5 L717.3,618.3 L713.2,625.0 L714.0,636.8 M1133.3,297.2 L1138.3,300.5 L1145.0,297.2 L1150.8,301.3 L1163.3,302.7 L1175.0,300.0 L1190.0,302.2 L1203.3,298.3 L1215.8,295.0 M876.0,513.3 L881.0,505.8 L889.3,500.8 L901.0,500.0 L914.3,505.8 L931.0,509.2 L951.0,509.2 L969.3,514.2 L977.7,518.3 L980.2,523.3 L979.3,530.0 L974.3,538.3 L971.0,546.7 L964.3,556.7 L957.7,565.0 L961.0,573.3 L964.3,578.3 L959.3,588.3 L956.0,596.7 L957.7,605.0 L959.3,613.3 L961.0,621.7 L957.7,630.0 L954.3,636.8 M1147.8,577.5 L1136.0,585.0 L1122.7,590.8 L1109.3,598.3 L1097.7,606.7 L1086.0,615.0 L1072.7,625.0 L1061.0,636.8 M1148.0,577.5 L1156.3,574.2 L1164.7,573.3 M496.2,677.0 L496.2,663.7 L498.7,656.2 L508.7,656.2 L517.0,659.5 L525.3,657.0 L535.3,660.3 L548.7,657.8 L560.3,658.7 L568.7,652.0 L578.7,646.2 L587.0,647.0 L597.0,651.2 L603.8,652.8 M954.3,637.0 L952.7,643.7 L956.0,647.8 L966.0,647.0 L976.0,644.5 L989.3,638.7 L996.0,637.8 L1009.3,642.0 L1022.7,640.3 L1036.0,641.2 L1051.0,639.5 L1059.3,638.7 M876.0,764.5 L884.3,763.7 L892.7,758.7 L901.0,750.3 L906.0,743.7 L911.0,737.0 L922.7,735.3 L934.3,733.7 L946.0,732.8 L959.3,733.7 L969.3,735.3 L976.0,738.7 L981.0,745.3 L984.3,750.3 L992.7,748.7 L999.3,752.0 L1002.7,758.7 L1004.3,763.7 L1012.7,765.3 L1017.7,770.3 L1021.0,771.2 L1027.7,765.3 L1034.3,760.3 L1041.0,755.3 L1040.2,752.0 L1047.7,743.7 L1052.7,742.0 L1059.3,743.7 L1067.7,752.0 L1076.0,760.3 L1084.3,763.7 L1092.7,763.7 L1101.0,760.3 L1109.3,753.7 L1112.7,747.0 L1122.7,740.3 L1132.7,733.7 L1141.0,727.0 L1146.0,718.7 L1147.8,715.3 M719.0,844.0 L724.0,848.2 L730.7,847.3 L737.3,844.8 M750.7,844.0 L752.3,850.7 L756.5,853.2 L760.7,849.0 L767.3,846.5 L774.0,845.7 L780.7,844.0 M1148.0,714.5 L1153.0,707.0 L1164.7,705.3 L1178.0,705.3 L1184.7,710.3 L1196.3,710.3 L1204.7,713.7 L1213.0,717.0 M604.0,657.0 L614.0,665.3 L625.7,672.0 L637.3,680.3 L647.3,692.0 L655.7,697.0 L665.7,703.7 L672.3,713.7 L677.3,722.0 L681.5,725.3 L677.3,728.7 L682.3,737.0 L685.7,747.0 L686.5,757.0 L685.7,767.0 L688.2,777.0 L689.0,787.0 L692.3,797.0 L695.7,807.0 L699.0,817.0 L704.0,825.3 L709.0,831.2 L712.3,823.7 L715.7,813.7 L719.0,812.0 L720.7,820.3 L720.7,830.3 L719.0,843.8 M634.0,638.7 L645.7,644.5 L654.0,640.3 L659.0,637.0 M660.7,637.0 L670.7,645.3 L672.3,650.3 L677.3,653.7 L684.0,652.0 L687.3,660.3 L692.3,667.8 L702.3,667.8 L712.3,672.8 L720.7,667.0 L727.3,665.3 L733.2,668.7 M714.8,637.0 L719.0,643.7 L727.3,647.8 L735.7,652.0 L742.3,656.2 L750.7,660.3 L762.3,664.5 L764.8,671.2 L766.5,675.3 L760.7,677.8 L754.8,676.2 L752.3,671.2 M875.8,763.7 L864.0,772.0 L850.7,782.0 L837.3,786.2 L820.7,787.8 L809.0,789.5 L800.7,792.0 L799.0,797.0 L792.3,802.0 L792.3,807.0 L787.3,813.7 L779.0,820.3 L777.3,828.7 L779.8,837.0 L780.7,843.8 M739.0,843.8 L745.7,839.5 L752.3,838.7 L754.0,843.8" fill="none" stroke="#7CC6EA" stroke-width="1.9" stroke-linejoin="round" stroke-linecap="round"/>
<path d="M604.0,479.2 L612.3,476.7 L616.5,472.5 L614.8,465.0 L617.3,459.2 L623.2,456.3 M643.2,456.7 L650.7,470.0 L657.3,480.8 L652.3,485.8 L660.7,494.2 L669.0,501.7 L669.8,506.7 L675.7,503.3 L680.7,505.0 L687.3,502.5 L690.7,500.0 L700.7,498.3 L710.7,499.2 L714.0,504.2 L712.3,513.3 L707.3,518.3 L698.2,522.5 L707.3,525.0 L717.3,530.0 L728.2,535.0 L730.7,541.7 L737.3,545.8 L745.7,550.8 L752.3,551.7 L758.2,546.7 L753.2,542.5 L767.3,538.3 L780.7,541.7 L792.3,535.8 L805.7,534.2 L809.0,543.3 L802.3,551.7 L790.7,559.2 L793.2,563.3 L789.0,568.3 L797.3,575.0 L810.7,581.7 L819.0,581.7 L829.0,588.3 L835.7,596.7 L837.3,606.7 L840.7,618.3 L849.0,624.2 L860.7,631.7 L864.0,621.7 L872.3,618.3 L873.2,611.7 L864.0,605.0 L862.3,596.7 L867.3,590.0 L875.8,589.2 M604.0,559.2 L614.0,563.3 L620.7,563.3 L629.0,560.0 L637.3,553.3 L637.3,545.0 L639.8,540.0 L647.3,540.8 L655.7,545.0 L664.0,548.3 L669.0,545.0 L680.7,543.3 L690.7,549.2 L700.7,555.0 L710.7,560.8 L712.3,557.5 L720.7,561.7 L730.7,565.8 L735.7,570.0 L744.0,572.5 L755.7,575.8 L764.0,583.3 L770.7,590.0 L769.0,595.0 L774.0,601.7 L779.0,610.0 L779.0,619.2 L774.0,620.0 L774.0,625.0 L765.7,629.2 L764.0,636.8 M810.7,581.7 L829.0,577.5 L844.0,573.3 L847.3,561.7 L849.0,550.0 L855.7,540.0 L869.0,535.8 L872.3,543.3 L864.0,558.3 L867.3,562.5 L875.8,564.2 M1218.6,204.5 L1223.4,207.2 L1226.1,210.6 L1222.0,215.3 L1216.6,218.7 L1213.2,221.4 L1218.0,224.1 L1223.4,227.5 L1227.4,228.8 L1232.8,225.4 L1236.8,224.8 L1243.6,228.1 L1249.0,230.8 L1247.6,234.9 L1249.6,241.6 L1252.3,248.4 L1256.4,252.4 L1262.5,253.8 L1271.9,251.1 L1278.6,252.1 L1286.7,252.8 L1297.5,251.1 L1301.5,247.7 L1305.6,244.3 L1309.6,244.3 L1315.0,248.4 L1321.8,253.8 L1327.8,259.8 L1325.8,263.2 L1321.8,266.6 L1321.1,270.6 L1315.0,274.0 L1311.0,279.4 L1307.6,284.8 L1306.9,291.5 L1309.0,296.9 L1307.6,303.0 L1301.5,303.6 L1297.5,307.7 L1293.5,314.4 L1291.4,321.2 L1290.8,327.9 L1288.1,325.2 L1286.0,318.5 L1278.6,323.2 L1267.8,329.9 L1257.1,336.0 L1247.6,341.4 L1242.2,345.4 L1243.6,349.5 L1247.6,352.0 M1242.5,347.2 L1245.0,352.2 L1251.7,356.3 L1256.7,359.7 L1264.2,356.3 L1268.3,359.7 L1261.7,363.0 L1255.8,366.3 L1257.5,372.2 M1257.5,372.2 L1265.0,371.3 L1275.0,371.3 L1278.3,376.3 L1280.0,383.0 L1285.0,388.0 L1293.3,391.3 L1300.0,389.7 L1306.7,392.2 L1316.7,390.5 L1320.0,394.7 L1326.7,398.0 L1331.8,398.0 M1257.5,372.2 L1251.7,376.3 L1248.3,383.8 L1241.7,381.3 L1235.0,380.5 L1226.7,378.8 L1224.2,383.8 L1230.0,388.0 L1235.0,394.7 L1234.2,403.0 L1236.7,411.3 L1241.7,419.7 L1250.0,417.2 L1257.5,414.7 L1261.7,421.3 L1265.0,429.8 M876.0,564.2 L884.3,567.5 L891.0,571.7 L901.0,576.7 L916.0,575.8 L917.7,570.0 L922.7,566.7 L922.7,560.0 L931.0,551.7 L942.7,541.7 L951.0,535.0 L962.7,536.7 L971.8,531.7 L973.5,535.8 M891.0,571.7 L884.3,576.7 L881.8,583.3 L883.5,590.8 L894.3,596.7 L909.3,603.3 L915.2,610.0 L913.5,618.3 L911.0,625.0 L913.5,631.7 L892.7,634.2 M876.0,589.2 L882.7,590.0 M980.2,529.2 L991.0,530.0 L999.3,516.7 L1004.3,514.2 L1012.7,515.8 L1021.0,511.7 L1031.0,511.7 L1042.7,507.5 L1046.0,505.0 L1041.8,496.7 L1039.3,491.7 L1040.2,486.7 L1045.2,483.3 L1049.3,476.7 L1054.3,470.8 L1061.0,470.8 L1062.7,476.7 L1064.3,481.7 L1071.0,482.5 L1081.0,476.7 L1089.3,477.5 L1097.7,474.2 L1107.7,471.7 L1111.0,465.0 L1119.3,460.8 L1127.7,459.2 L1134.3,462.5 L1137.7,470.0 L1142.7,474.2 L1141.0,480.0 L1144.3,486.7 L1147.8,488.3 M1046.0,505.0 L1051.8,512.5 L1042.7,516.7 L1041.0,520.8 L1050.2,525.0 L1053.5,531.7 L1051.0,540.0 L1041.0,543.3 L1036.0,546.7 L1036.0,551.7 L1031.0,557.5 L1032.7,563.3 L1039.3,570.0 L1043.5,576.7 L1041.0,583.3 L1037.7,590.0 L1036.0,596.7 L1030.2,600.0 L1033.5,606.7 L1033.5,616.7 L1031.0,625.0 L1022.7,630.0 L1009.3,633.3 L996.0,634.2 M1033.5,606.7 L1051.0,610.0 L1064.3,613.3 L1076.0,611.7 L1073.5,619.2 L1084.3,615.0 L1092.7,611.7 M1076.0,520.8 L1084.3,516.7 L1085.2,508.3 L1097.7,501.7 L1103.5,496.7 L1109.3,501.7 L1116.0,504.2 L1122.7,505.8 L1121.0,510.0 L1122.7,515.0 L1129.3,520.0 L1126.0,526.7 L1129.3,533.3 L1136.0,538.3 M1076.0,520.8 L1076.8,528.3 L1084.3,530.8 L1097.7,532.5 L1107.7,528.3 L1109.3,536.7 L1107.7,546.7 L1112.7,551.7 L1126.0,554.2 M1106.8,520.8 L1116.0,520.0 L1117.7,523.3 L1116.0,528.3 L1108.5,529.2 M1132.7,561.7 L1126.0,570.0 L1109.3,571.7 L1097.7,580.0 L1091.0,583.3 L1082.7,591.7 L1072.7,601.7 L1072.7,607.5 L1076.0,611.7 M876.0,863.2 L882.7,865.7 L887.7,870.7 L896.0,872.3 L904.3,865.7 L912.7,864.8 L919.3,859.8 L927.7,858.2 L934.3,852.3 L936.0,849.0 L932.7,844.0 M936.0,852.3 L942.7,851.5 L947.7,848.2 L954.3,849.8 L962.7,845.7 L969.3,843.2 M974.3,844.0 L976.8,850.7 L980.2,857.3 L976.0,865.7 L971.0,872.3 L970.2,876.5 L976.0,874.0 L981.0,879.0 L982.7,884.0 L992.7,883.2 M992.7,883.2 L994.3,889.0 L991.8,897.3 L986.0,905.7 L980.2,914.0 L979.3,922.3 L974.3,929.0 L966.8,934.8 L962.7,940.7 L957.7,944.0 L952.7,948.2 L947.7,952.3 L941.8,957.3 L940.2,959.8 M992.7,883.2 L996.8,874.0 L1006.0,872.3 L1012.7,877.3 L1017.7,876.5 L1016.8,870.7 L1022.7,865.7 L1032.7,868.2 L1041.0,867.3 M1041.0,867.3 L1040.2,859.0 L1042.7,852.3 L1044.3,849.0 L1042.7,844.0 M1041.0,867.3 L1049.3,869.0 L1056.0,869.0 L1057.7,874.8 L1052.7,878.2 L1047.7,883.2 L1051.0,887.3 L1059.3,886.5 L1069.3,884.0 L1076.0,883.2 L1082.7,886.5 L1085.2,877.3 M1085.2,877.3 L1087.7,867.3 L1092.7,857.3 L1097.7,849.0 L1101.0,844.0 M1085.2,877.3 L1094.3,879.8 L1102.7,884.0 L1109.3,889.0 L1112.7,899.0 L1114.3,907.3 L1118.5,912.3 M943.5,992.3 L951.0,991.5 L957.7,989.8 L963.5,986.5 M1036.8,942.3 L1036.8,938.2 L1042.7,935.7 L1049.3,934.8 L1052.7,937.3 L1053.5,941.5 M1036.8,942.3 L1041.0,944.8 L1046.0,944.0 M532.0,694.0 L548.7,697.3 L565.3,699.8 L578.7,696.5 L588.7,699.0 L597.0,704.0 L600.3,710.7 L603.8,715.7 M1148.0,489.2 L1156.3,489.7 L1164.7,490.0 L1168.8,483.3 L1169.7,478.3 L1166.3,470.0 L1172.2,464.2 L1179.7,471.7 L1185.5,479.2 L1194.7,473.3 L1211.3,465.0 L1228.0,458.3 L1241.3,454.2 L1254.7,453.3 L1268.0,449.2 L1271.3,443.3 L1272.2,439.2 L1264.7,437.5 L1263.0,435.0 L1266.3,430.0 M1164.7,490.0 L1157.2,498.3 L1160.5,505.0 L1173.0,510.0 L1177.2,516.7 L1179.7,520.8 M1272.2,439.2 L1281.3,443.3 L1288.0,451.7 L1294.7,448.3 L1298.8,447.5 L1301.3,456.7 L1308.0,466.7 L1313.0,470.8 L1310.5,478.3 L1314.7,485.0 L1320.5,493.3 L1318.0,500.0 M1389.7,430.0 L1393.0,435.0 L1398.0,436.7 L1404.7,432.5 L1409.7,430.0 M211.7,652.7 L230.0,651.7 L235.0,641.7 L241.7,631.7 L260.0,630.0 L273.3,631.7 L286.7,626.7 L300.0,623.3 L308.3,628.3 L326.7,630.0 L332.0,630.3 M578.7,487.0 L590.0,481.7 L603.7,478.3 M332.0,630.3 L345.3,625.3 L357.0,621.2 L367.0,623.7 L377.0,618.7 L383.7,612.0 L398.7,608.7 L410.3,606.2 L422.0,606.2 L435.3,603.7 L445.3,607.0 L458.7,611.2 L468.7,612.8 L473.7,609.5 L482.0,612.0 L492.0,615.0 L497.8,612.0 L497.0,603.7 L489.5,600.3 L490.3,595.3 L502.0,591.2 L498.7,583.7 L492.0,577.0 L485.3,570.3 L483.7,562.0 L475.3,558.7 L482.0,554.5 L498.7,549.5 L515.3,545.3 L528.7,541.2 L542.0,540.3 L548.7,545.3 L562.0,548.7 L565.3,550.3 L577.0,553.7 L580.3,558.7 L592.0,559.5 L603.8,560.0 M527.8,540.3 L537.0,523.7 L541.2,507.0 L562.0,503.7 L565.3,497.0 L572.0,491.2 L578.7,487.0 M457.8,614.5 L465.3,618.7 L465.3,627.0 L460.3,633.7 L462.8,640.3 L467.0,643.7 L467.0,653.7 L464.5,662.0 L470.3,670.3 L478.7,677.0 L488.7,682.0 L502.0,683.7 L513.7,687.0 L523.7,691.2 L532.0,692.8 L545.3,693.8 M876.0,637.0 L884.3,639.5 L891.8,638.7 L894.3,636.2 M954.3,647.0 L957.7,655.3 L962.7,665.3 L969.3,675.3 L969.3,681.2 L976.0,687.8 L982.7,694.5 L992.7,698.7 L1002.7,701.2 L1017.7,701.2 L1027.7,702.0 L1033.5,701.2 L1036.0,707.0 L1037.7,712.8 L1044.3,715.3 L1052.7,717.0 L1059.3,720.3 L1064.3,722.0 L1069.3,720.3 L1074.3,723.7 M969.3,681.2 L959.3,682.8 L947.7,681.2 L936.0,682.0 L941.0,687.0 L947.7,690.3 L947.7,694.5 L939.3,697.8 L935.2,703.7 L936.8,710.3 L936.0,717.0 M876.0,694.5 L882.7,698.7 L892.7,703.7 L901.0,705.3 L909.3,705.3 L907.7,712.0 L911.0,717.8 L904.3,725.3 L897.7,733.7 L892.7,738.7 L886.0,742.0 L882.7,750.3 L876.0,757.0 M909.3,705.3 L919.3,710.3 L931.0,717.0 L942.7,722.0 L949.3,727.0 L949.3,737.0 L939.3,740.3 L926.0,743.7 L914.3,745.3 L910.2,748.7 L911.8,757.0 L909.3,762.0 L919.3,768.7 L926.0,775.3 L929.3,782.0 M929.3,782.0 L931.0,768.7 L941.0,763.7 L949.3,762.0 L959.3,760.3 L961.0,756.2 L969.3,756.2 L979.3,758.7 L989.3,760.3 L996.0,763.7 L1002.7,768.7 L1009.3,766.2 L1017.7,764.5 M929.3,782.0 L927.7,792.0 L924.3,798.7 L917.7,800.3 L912.7,792.0 L909.3,790.3 L906.0,782.0 L897.7,778.7 L887.7,777.0 L882.7,783.7 L876.0,785.3 M929.3,782.0 L931.0,797.0 L929.3,805.3 L934.3,813.7 L929.3,820.3 L919.3,827.0 L924.3,830.3 L932.7,828.7 L934.3,837.0 L931.0,843.8 M1031.0,762.0 L1034.3,770.3 L1033.5,777.0 L1041.0,780.3 L1049.3,773.7 L1061.0,770.3 L1071.0,765.3 L1077.7,762.0 M1041.0,780.3 L1044.3,787.0 L1046.0,797.0 L1041.0,803.7 L1034.3,810.3 L1031.8,818.7 L1036.8,822.0 L1037.7,830.3 L1042.7,837.0 L1043.5,843.8 M1074.3,723.7 L1081.0,715.3 L1087.7,708.7 L1086.8,697.8 L1079.3,701.2 L1071.0,695.3 L1067.7,688.7 L1062.7,685.3 L1071.0,682.0 L1076.0,673.7 L1079.3,663.7 L1084.3,662.0 L1092.7,668.7 L1101.0,665.3 L1103.5,658.7 L1097.7,653.7 L1094.3,648.7 L1099.3,642.0 L1109.3,641.2 L1116.0,647.0 L1121.0,651.2 L1132.7,647.8 L1142.7,648.7 L1147.8,647.0 M1059.3,637.0 L1064.3,640.3 L1076.0,647.8 L1094.3,648.7 M1074.3,723.7 L1082.7,730.3 L1089.3,735.3 L1084.3,742.0 L1087.7,750.3 L1091.0,755.3 L1091.8,762.0 M1116.0,647.0 L1126.0,662.0 L1132.7,668.7 L1139.3,670.3 L1137.7,680.3 L1142.7,685.3 L1147.8,692.0 M1147.8,707.0 L1145.2,712.0 L1147.8,718.7 M1107.7,756.2 L1109.3,763.7 L1104.3,767.0 L1109.3,767.8 L1116.0,762.0 L1121.0,761.2 L1129.3,767.0 L1139.3,768.7 L1147.8,772.0 M1147.8,768.7 L1141.0,773.7 L1137.7,780.3 L1142.7,787.0 L1146.8,793.7 L1144.3,800.3 L1134.3,807.0 L1126.0,808.7 L1116.0,813.7 L1112.7,820.3 L1109.3,827.0 L1102.7,832.0 L1101.0,843.8 M820.7,844.0 L815.7,850.7 L812.3,859.8 L817.3,865.7 L822.3,870.7 L819.0,879.0 L815.7,884.8 L825.7,883.2 L834.0,878.2 L845.7,881.5 L854.0,882.3 L859.0,876.5 L867.3,874.0 L875.8,871.5 M815.7,884.8 L819.0,889.0 L827.3,890.7 L834.0,897.3 L844.0,898.2 L852.3,900.7 L854.8,906.5 L852.3,911.5 L845.7,914.0 L840.7,918.2 M875.8,871.5 L874.0,865.7 L875.8,860.7 M745.7,844.0 L749.0,849.0 L754.0,851.5 L759.0,850.7 M774.0,849.0 L780.7,845.7 M1332.0,397.2 L1340.3,396.3 L1347.0,398.8 L1352.0,404.7 L1353.7,411.3 L1362.0,413.8 L1365.3,421.3 L1373.7,423.0 L1377.8,416.3 L1383.7,414.7 L1387.0,423.0 L1390.3,429.8 M1405.3,429.8 L1415.3,427.2 L1423.7,426.3 L1430.3,428.0 L1436.3,433.3 L1449.7,437.3 M1148.0,647.0 L1153.0,645.3 L1158.0,640.3 L1166.3,637.8 M1148.0,692.0 L1154.7,688.7 L1161.3,688.7 L1165.5,693.7 L1163.0,698.7 L1156.3,700.3 L1151.3,697.8 L1148.0,700.3 M1148.0,715.3 L1154.7,720.3 L1156.3,726.2 L1164.7,728.7 L1174.7,730.3 L1181.3,729.5 L1186.3,735.3 L1193.0,734.5 L1196.3,738.7 L1203.0,735.3 L1206.3,732.0 L1211.3,725.3 L1214.7,720.3 L1212.2,715.3 L1216.3,713.7 L1221.3,717.0 L1228.8,719.5 M1206.3,732.0 L1208.0,737.0 L1214.7,741.2 L1223.0,741.2 L1231.3,739.5 L1234.7,737.8 M1174.7,730.3 L1173.0,737.0 L1166.3,742.0 L1168.0,747.0 L1161.3,750.3 L1156.3,753.7 L1154.7,762.0 L1148.0,768.7 M1148.0,797.8 L1153.0,799.5 L1156.3,808.7 L1158.0,817.0 L1166.3,817.8 L1173.0,813.7 L1178.0,820.3 L1186.3,820.3 L1193.0,825.3 L1201.3,828.7 L1210.5,828.7 M645.7,688.7 L650.7,682.0 L654.0,676.2 L648.2,668.7 L654.0,660.3 L660.7,658.7 L670.7,662.0 L677.3,672.0 L682.3,680.3 L692.3,687.0 L702.3,691.2 L707.3,687.0 L712.3,693.7 L722.3,696.2 L735.7,694.5 L737.3,682.0 L749.0,681.2 L750.7,675.3 L742.3,671.2 L735.7,667.8 L729.0,660.3 L730.7,655.3 L742.3,657.0 L750.7,661.2 L759.0,657.0 L760.7,651.2 L754.8,647.0 L757.3,642.0 L764.0,637.0 M750.7,661.2 L764.0,663.7 L777.3,657.0 L782.3,660.3 L785.7,667.0 L795.7,671.2 L805.7,672.8 L812.3,680.3 L812.3,688.7 L820.7,693.7 L832.3,694.5 L840.7,690.3 L849.0,686.2 L847.3,677.0 L854.0,673.7 L863.2,670.3 L862.3,662.0 L867.3,653.7 L861.5,647.0 L865.7,638.7 L875.8,637.0 M840.7,690.3 L854.0,692.0 L864.0,694.5 L875.8,694.5 M750.7,675.3 L753.2,682.0 L762.3,678.7 M604.0,716.2 L614.0,717.0 L619.8,713.7 L625.7,717.0 L632.3,716.2 L632.3,710.3 L640.7,708.7 L645.7,703.7 L647.3,697.8 L655.7,697.8 M687.3,775.3 L684.0,783.7 L677.3,783.7 L675.7,793.7 L677.3,800.3 L670.7,802.0 L666.5,797.8 M694.8,802.8 L695.7,792.0 L700.7,786.2 L707.3,792.8 L713.2,799.5 L710.7,803.7 L714.0,808.7 L720.7,809.5 L725.7,808.7 L730.7,817.0 L735.7,825.3 L740.7,832.0 L745.7,837.0 L744.0,843.8 M835.7,768.7 L844.0,762.0 L841.5,755.3 L847.3,748.7 L859.0,752.0 L869.0,753.7 L875.8,757.0 M835.7,768.7 L844.0,777.0 L849.0,782.0 L857.3,785.3 L860.7,792.8 L867.3,793.7 L875.8,785.3 M844.0,793.7 L850.7,799.5 L858.2,803.7 L859.0,808.7 L850.7,810.3 L837.3,812.0 L834.0,805.3 L829.0,803.7 L825.7,808.7 L817.3,808.7 L812.3,802.0 L814.0,797.0 L809.0,790.3 M844.0,793.7 L845.7,788.7 L857.3,785.3 M834.0,805.3 L834.8,813.7 L827.3,818.7 L814.0,820.3 L802.3,820.3 L795.7,827.0 L799.0,833.7 L804.0,837.0 L814.0,838.7 L817.3,843.8 M789.8,802.0 L789.0,808.7 L783.2,817.0 L780.7,820.3 M679.8,728.7 L684.0,737.0 L686.5,743.7" fill="none" stroke="#B0B0B0" stroke-width="2.4" stroke-linejoin="round" stroke-linecap="round"/>
<path d="M100.0,552.7 L91.7,554.0 L86.7,551.7 L85.0,541.7 L80.7,536.0 L80.7,536.0 L83.3,533.3 L89.3,528.3 L90.7,520.7 L96.7,516.7 L105.0,514.0 L110.7,513.3 L111.7,508.7 L118.3,509.3 L125.0,507.3 L129.3,506.0 L131.7,508.3 L133.3,512.0 L141.7,510.0 L150.0,507.3 L155.0,502.7 L160.0,497.3 L170.0,495.0 L180.0,496.0 L185.0,490.7 L193.3,488.3 L203.3,483.3 L216.7,478.3 L226.7,476.0 L233.3,472.3 L239.0,470.0 L240.0,461.7 L239.3,456.0 L243.3,452.7 L249.3,450.7 L251.7,445.7 L252.7,440.0 L248.3,431.7 L245.0,423.3 L243.3,413.3 L242.7,408.3 L233.3,405.0 L235.0,400.7 L246.7,399.0 L260.0,396.7 L273.3,393.3 L281.7,395.0 L293.3,396.7 L296.0,393.3 L290.0,390.0 L289.3,381.7 L293.3,373.3 L298.3,365.0 L303.3,355.0 L307.3,350.0 L316.7,351.7 L326.7,354.0 L340.0,354.0 L350.0,356.7 L358.3,353.3 L367.3,350.7 L368.3,345.0 L366.0,330.0 L371.7,321.7 L380.0,320.0 L390.0,318.3 L395.0,311.7 L400.7,304.3 L410.0,304.0 L419.3,303.3 L421.7,310.0 L425.0,315.0 L433.3,320.0 L443.3,325.0 L453.3,330.0 L463.3,331.7 L473.3,335.0 L480.7,340.0 L485.0,346.7 L490.0,355.0 L495.0,361.7 L496.0,370.0 L493.3,378.3 L488.3,384.0 L488.3,391.7 L493.3,396.7 L506.7,399.3 L526.7,400.7 L543.3,400.7 L560.0,404.0 L573.3,408.3 L586.7,415.0 L596.7,418.3 L603.7,425.0 L604.0,426.7 L609.0,438.3 L615.7,448.3 L623.3,455.0 L642.3,454.3 L670.7,456.7 L695.7,458.7 L720.7,456.7 L737.3,458.3 L750.7,461.7 L760.7,468.3 L777.3,471.0 L797.3,476.7 L814.0,477.7 L817.3,480.7 L827.3,481.3 L844.0,475.0 L864.0,468.3 L884.0,463.3 L904.0,462.3 L924.0,462.3 L937.3,460.0 L954.0,455.0 L964.0,448.3 L974.0,440.0 L990.7,434.0 L991.7,429.3 L984.0,421.7 L980.7,415.0 L984.0,406.7 L992.3,400.0 L1002.3,399.3 L1012.3,405.0 L1030.7,406.7 L1044.0,401.7 L1057.3,393.3 L1060.0,392.2 L1068.3,392.7 L1076.7,391.3 L1083.3,388.0 L1091.7,383.8 L1095.0,380.5 L1097.5,375.5 L1103.3,370.5 L1111.7,369.7 L1120.0,368.8 L1124.2,364.7 L1130.0,365.5 L1138.3,363.0 L1146.7,361.3 L1156.7,360.5 L1166.7,363.0 L1175.0,363.8 L1180.8,362.2 L1181.7,358.8 L1178.3,353.8 L1173.3,349.7 L1166.7,345.5 L1161.7,340.5 L1155.0,336.3 L1148.3,331.3 L1140.0,329.7 L1131.7,330.5 L1126.7,334.7 L1121.7,338.0 L1111.7,334.3 L1103.3,333.3 L1093.3,335.0 L1086.7,338.0 L1080.0,333.8 L1077.5,329.7 L1077.5,329.7 L1080.8,324.7 L1084.2,322.2 L1085.0,318.0 L1090.0,310.5 L1095.0,303.0 L1100.8,294.7 L1106.7,287.2 L1115.0,290.5 L1123.3,291.7 L1131.7,294.7 M1538.7,318.8 L1540.3,321.3 L1535.3,323.8 L1531.2,326.3 L1530.3,331.3 L1533.7,336.3 L1531.2,340.5 L1525.3,343.8 L1521.2,347.2 L1519.5,354.7 L1517.0,361.3 L1512.8,366.3 L1514.5,371.3 L1510.3,373.8 L1507.8,379.7 L1502.8,383.8 L1502.0,387.2 L1496.2,389.7 L1494.5,394.7 L1493.7,399.7 L1490.3,401.3 L1482.0,398.8 L1473.7,396.3 L1465.3,393.8 L1461.2,397.2 L1457.8,401.3 L1452.0,403.0 L1445.3,404.7 L1447.8,411.3 L1450.3,419.7 L1451.2,429.8 L1451.3,429.7 L1449.7,438.3 L1446.3,450.0 L1438.0,453.3 L1431.3,455.0 L1436.3,462.7 L1431.3,456.7 L1424.7,450.7 L1419.7,450.7 L1419.8,450.0 L1417.2,460.0 L1411.3,464.2 L1405.5,463.3 L1399.7,468.3 L1391.3,472.5 L1381.3,473.3 L1375.5,475.0 L1378.0,481.7 L1380.5,483.3 L1378.8,487.5 L1371.3,487.5 L1361.3,486.7 L1353.8,484.2 L1350.5,479.2 L1347.2,477.5 L1341.3,480.0 L1338.8,485.8 L1333.0,491.7 L1326.3,498.3 L1318.0,500.8 L1308.0,505.0 L1298.0,510.0 L1289.7,515.8 L1286.3,520.8 L1285.5,526.7 M901.0,959.0 L898.3,958.3 L893.3,956.3 L890.0,956.3 L885.0,954.3 L880.7,952.3 L875.8,950.7 L869.0,948.2 L868.2,943.2 L864.8,938.2 L869.0,934.0 L870.7,929.0 L864.0,927.3 L857.3,925.7 L849.0,925.7 L840.7,921.5 L835.7,916.5 L830.7,918.2 L825.7,920.7 L822.3,926.5 L817.3,929.0 L810.7,931.5 L806.5,927.3 L803.2,936.5 L799.0,932.3 L794.0,929.0 L791.5,934.8 L788.2,929.0 L785.7,933.2 L781.5,936.5 L777.3,934.8 L772.3,930.7 L768.2,930.3 L764.8,934.0 L762.3,938.2 L754.0,937.3 L748.2,938.2 L746.5,942.3 L749.0,949.0 L751.5,954.0 L752.3,960.7 L753.2,966.5 L750.7,968.7 L746.5,966.5 L740.7,967.3 L739.0,964.0 L736.5,959.0 L736.5,953.2 L732.3,954.8 L728.2,958.2 L723.2,960.7 L719.0,959.0 L714.8,959.8 L711.5,957.3 L709.0,952.3 L708.2,947.3 L702.3,946.0 L695.7,944.8 L689.0,944.8 L691.5,939.8 L694.0,934.8 L694.8,929.0 L698.2,924.8 L694.0,921.5 L687.3,920.7 L683.2,917.3 L682.3,911.5 L679.8,906.5 L678.2,901.5 L682.3,897.7 L675.7,898.2 L667.3,899.0 L659.0,901.5 L653.2,904.8 L650.7,902.3 L654.0,898.2 L654.8,894.0 L651.5,890.7 L650.7,884.0 L654.0,881.5 L654.8,876.5 L658.2,871.5 L663.2,869.0 L665.7,864.0 L669.8,862.3 L674.0,858.2 L678.2,854.0 L677.3,849.0 L679.8,844.0 L679.0,827.3 L675.7,815.7 L669.0,812.3 L665.7,800.7 L654.0,793.3 L647.3,800.7 L644.0,809.0 L634.0,805.7 L620.7,800.7 L604.0,799.0 L603.8,800.7 L598.7,805.7 L592.0,809.8 L582.0,814.0 L573.7,816.5 L567.0,822.3 L562.0,828.2 L553.7,831.0 L542.0,831.5 L532.0,830.7 L522.0,832.0 L519.5,827.3 L521.2,822.3 L518.7,818.2 L512.8,817.3 L509.5,814.0 L507.8,807.3 L503.7,804.0 L500.3,805.7 L497.0,809.0 L492.8,806.5 L487.8,803.2 L483.7,804.3 L478.7,802.3 L472.0,800.7 L465.3,799.8 L460.3,802.3 L455.3,806.5 L452.0,810.7 L450.3,815.7 L452.0,820.7 L447.8,824.0 L445.3,822.3 L442.8,817.3 L443.7,810.7 L442.8,804.8 L439.5,803.2 L433.7,805.7 L427.0,808.2 L420.3,807.3 L421.8,806.7 L416.7,809.2 L405.0,809.7 L401.7,808.3 L395.8,805.0 L390.8,803.3 L388.3,807.5 L382.5,806.7 L380.8,802.5 L376.7,807.5 L373.3,803.3 L368.3,797.5 L361.7,798.3 L355.8,797.5 L357.5,793.3 L355.0,790.0 L348.3,790.8 L340.0,786.7 L335.0,783.3 L333.3,776.7 L329.2,774.2 L324.2,775.0 L320.0,777.5 L316.7,775.0 L311.7,769.2 L306.7,766.7 L300.0,764.2 L293.3,758.3 L286.7,755.0 L283.3,750.0 L275.0,747.5 L269.2,748.3 L266.7,752.5 L264.2,757.5 L261.7,758.3 L260.0,754.2 L256.7,751.7 L251.7,748.3 L245.0,745.8 L238.3,744.2 L235.0,742.5 L231.7,737.5 L226.7,734.2 L223.3,735.0 L220.0,732.5 L217.5,734.2 L213.3,733.3 L209.2,730.0 L205.8,724.2 L205.0,718.3 L204.2,711.7 L200.8,708.3 L197.5,705.0 L196.3,698.0 L200.0,695.8 L204.2,695.0 L207.5,700.0 L211.7,701.3 L215.8,698.3 L217.5,693.3 L217.3,693.7 L215.0,688.3 L210.0,678.3 L205.0,668.3 L205.0,660.0 L211.7,656.0 L206.7,653.3 L196.7,648.3 L191.7,643.3 L186.7,635.0 L181.7,628.3 L170.0,626.7 L160.0,623.3 L151.7,618.3 L145.0,616.7 L140.0,611.7 L138.3,605.0 L131.7,598.3 L123.3,595.0 L115.0,591.7 L105.0,590.7 L102.7,587.3 L110.0,584.0 L118.3,580.7" fill="none" stroke="#000" stroke-width="3.4" stroke-linejoin="round" stroke-linecap="round"/>
<path d="M118.3,580.7 L115.0,576.7 L114.0,570.0 L111.7,565.0 L111.7,558.3 L106.7,554.0 L100.0,552.7" fill="none" stroke="#000" stroke-width="3.4" stroke-dasharray="0.01 5.5 8.5 5.5 60" stroke-linecap="butt" stroke-linejoin="round"/>
<path d="M1133.3,293.8 L1143.3,288.8 L1155.0,284.7 L1163.3,282.2 L1167.5,278.0 L1164.2,274.7 L1166.7,270.5 L1173.3,263.0 L1180.0,254.7 L1186.7,244.7 L1196.7,238.0 L1201.7,231.3 L1200.0,223.0" fill="none" stroke="#7CC6EA" stroke-width="1.8" stroke-linejoin="round"/>
<path d="M1200.0,223.0 L1198.4,221.4 L1191.0,221.4 L1185.6,220.0 L1185.6,217.4 L1191.0,214.0 L1199.1,209.3 L1205.8,205.9 L1213.9,205.2 L1223.4,203.2 L1232.8,201.2 L1243.6,200.5 L1254.4,199.8 L1262.5,198.5 L1270.5,199.2 L1278.6,201.9 L1286.7,205.2 L1293.5,207.9 L1300.2,209.3 L1306.9,207.2 L1313.7,208.6 L1319.1,212.0 L1324.5,217.4 L1329.9,222.1 L1335.2,228.1 L1339.3,234.9 L1343.3,243.0 L1347.4,249.7 L1348.7,255.1 L1354.1,261.8 L1358.2,268.6 L1359.5,275.3 L1363.6,278.0 L1362.2,284.8 L1366.3,290.1 L1370.3,292.8 L1380.0,294.2" fill="none" stroke="#7CC6EA" stroke-width="1.8" stroke-linejoin="round"/>
<path d="M1225.4,205.9 L1240.9,204.1 L1260.4,202.5" fill="none" stroke="#000" stroke-width="3.4" stroke-linecap="round" stroke-linejoin="round"/>
<path d="M1315.0,206.6 L1320.4,208.6 L1325.8,213.3 L1332.6,216.0 L1333.2,219.4 L1330.5,221.1" fill="none" stroke="#000" stroke-width="3.4" stroke-linecap="round" stroke-linejoin="round"/>
<path d="M1341.3,249.7 L1343.3,257.8 L1348.7,263.2 L1354.1,267.9" fill="none" stroke="#000" stroke-width="3.4" stroke-linecap="round" stroke-linejoin="round"/>
<path d="M1383.7,293.0 L1392.0,293.8 L1400.3,297.2 L1407.0,297.2 L1413.7,301.3 L1420.3,305.5 L1427.0,309.7 L1437.0,309.7 L1436.2,316.3 L1441.2,321.3 L1437.8,328.0 L1442.8,333.8 L1445.3,338.0 L1455.3,337.2 L1463.7,338.8 L1473.7,337.2 L1482.8,337.2 L1484.5,332.2 L1492.0,328.8 L1500.3,327.2 L1508.7,324.7 L1517.0,322.2 L1525.3,321.3 L1533.7,320.5 L1538.7,318.8" fill="none" stroke="#7CC6EA" stroke-width="1.8" stroke-linejoin="round"/>
<path d="M1403.7,294.7 L1410.3,294.7 L1417.0,298.8 L1422.0,303.0 L1425.3,306.3" fill="none" stroke="#000" stroke-width="3.4" stroke-linecap="round" stroke-linejoin="round"/>
<path d="M1459.5,341.3 L1468.7,340.5 L1477.0,339.7 L1482.8,339.7 L1486.2,335.5" fill="none" stroke="#000" stroke-width="3.4" stroke-linecap="round" stroke-linejoin="round"/>
<path d="M1512.8,319.7 L1522.0,319.3 L1532.0,318.8 L1538.7,318.3" fill="none" stroke="#000" stroke-width="3.4" stroke-linecap="round" stroke-linejoin="round"/>
<path d="M1131.7,292.2 L1143.3,285.5 L1152.5,280.5 L1159.2,281.3" fill="none" stroke="#000" stroke-width="3.4" stroke-linecap="round" stroke-linejoin="round"/>
<path d="M1285.5,526.7 L1281.3,525.0 L1271.3,525.3 L1263.0,526.7 L1254.7,529.2 L1246.3,533.3 L1238.0,538.3 L1231.3,541.7 L1224.7,545.0 L1219.7,547.5 L1211.3,550.0 L1210.5,546.7 L1216.3,544.2 L1222.2,541.7 L1223.8,538.3 L1228.0,535.0 L1221.3,535.3 L1215.5,534.2 L1213.8,530.8 L1219.7,529.7 L1219.7,525.8 L1226.3,520.8 L1231.3,516.7 L1236.3,511.7 L1237.2,508.3 L1233.0,503.3 L1230.5,498.3 L1226.3,496.7 L1223.8,498.7 L1218.0,498.0 L1213.0,498.7 L1208.0,502.0 L1204.7,505.8 L1199.7,507.5 L1196.3,512.5 L1189.7,515.8 L1181.3,520.0 L1173.0,523.3 L1168.0,528.3 L1164.7,535.0 L1158.0,540.0 L1151.3,542.5 L1148.0,544.2" fill="none" stroke="#000080" stroke-width="1.6" stroke-linejoin="round"/>
<path d="M1148.0,544.2 L1136.0,539.2 L1131.8,542.5 L1130.2,548.3 L1126.8,552.5 L1129.3,558.3 L1133.5,563.3 L1137.7,570.0 L1142.7,566.7 L1148.0,567.0" fill="none" stroke="#000080" stroke-width="1.6" stroke-linejoin="round"/>
<path d="M1148.0,567.0 L1154.7,565.8 L1159.7,568.3 L1163.8,573.3 L1159.7,578.3 L1156.3,581.7 L1158.0,585.8 L1164.7,588.3 L1173.0,589.2 L1178.8,587.5 L1182.2,582.5 L1189.7,576.7 L1199.7,573.0 L1206.3,573.7 L1214.7,578.3 L1223.0,580.8 L1231.3,580.8 L1234.7,579.2 L1238.8,581.7 L1246.3,582.5 L1245.5,586.7 L1243.0,590.0 L1243.8,592.5 L1238.8,595.3 L1234.7,592.5 L1228.0,594.2 L1221.3,597.5 L1214.7,599.2 L1205.5,601.7 L1204.7,605.0 L1199.7,608.3 L1197.2,613.3 L1190.5,614.2 L1187.2,612.5 L1189.7,616.7 L1183.8,621.7 L1178.0,625.0 L1174.7,630.0 L1168.8,636.8" fill="none" stroke="#000080" stroke-width="1.6" stroke-linejoin="round"/>
<path d="M1167.2,637.0 L1166.0,642.0 L1171.3,646.2 L1176.3,650.3 L1181.3,651.2 L1188.0,653.7 L1191.3,657.8 L1193.8,665.3 L1196.3,672.0 L1199.7,678.7 L1203.0,685.3 L1205.5,688.7 L1205.5,695.3 L1211.3,698.7 L1215.5,701.2 L1217.2,706.2 L1223.0,709.5 L1227.2,712.8 L1228.8,717.0 L1226.3,719.5 L1219.7,716.2 L1214.7,714.5 L1212.2,716.2 L1216.3,720.3 L1221.3,723.7 L1226.3,724.5 L1227.2,727.0 L1223.0,726.2 L1219.7,723.7 L1218.0,725.3 L1223.0,729.5 L1228.0,732.8 L1226.3,737.0 L1219.7,738.7 L1213.0,741.2 L1208.0,744.5 L1203.0,747.8 L1199.7,750.3 L1199.7,753.7 L1203.0,754.5 L1208.0,752.0 L1213.8,751.2 L1218.0,752.8 L1221.3,756.2 L1226.3,760.3 L1231.3,761.2 L1228.0,764.5 L1224.7,767.8 L1219.7,769.5 L1221.3,771.2 L1228.0,767.8 L1229.7,770.3 L1228.8,775.3 L1230.5,779.5 L1228.0,781.2 L1225.5,775.3 L1221.3,776.2 L1219.7,778.7 L1223.0,781.2 L1223.8,785.3 L1221.3,787.0 L1220.5,791.2 L1221.3,795.3 L1222.2,798.7 L1218.0,797.8 L1214.7,801.2 L1212.2,797.0 L1209.7,799.5 L1205.5,805.3 L1201.3,811.2 L1198.8,816.2 L1198.0,820.3 L1194.7,825.3 L1191.3,822.8 L1189.7,826.2 L1192.2,828.7 L1188.0,832.0 L1183.0,834.5 L1178.8,834.5 L1174.7,836.2 L1176.3,839.5 L1173.0,843.8" fill="none" stroke="#000080" stroke-width="1.6" stroke-linejoin="round"/>
<path d="M1174.0,852.3 L1173.0,860.7 L1178.0,865.7 L1169.7,869.0 L1163.0,870.7 L1156.3,877.3 L1149.7,884.0" fill="none" stroke="#000080" stroke-width="1.6" stroke-linejoin="round"/>
<path d="M1147.8,884.0 L1141.0,887.3 L1133.5,889.0 L1136.8,891.5 L1134.3,897.3 L1129.3,900.7 L1126.0,904.8 L1121.0,906.5 L1117.7,910.7 L1112.7,911.5 L1109.3,915.7 L1103.5,916.5 L1102.7,920.7 L1097.7,924.0 L1091.0,928.2 L1084.3,927.3 L1077.7,930.7 L1072.7,927.3 L1066.0,929.8 L1061.0,932.3 L1059.3,929.0 L1055.2,930.7 L1049.3,934.0 L1042.7,935.7 L1038.5,937.3 L1036.8,933.2 L1032.7,929.8 L1029.3,930.7 L1030.2,935.7 L1031.8,942.3 L1028.5,943.2 L1022.7,944.8 L1017.7,948.2 L1012.7,950.7 L1006.8,952.3 L1004.3,948.2 L1001.0,953.2 L996.0,954.0 L991.8,958.2 L989.3,954.0 L984.3,957.3 L977.7,959.8 L971.0,960.7 L964.3,962.3 L959.3,964.8 L956.0,961.5 L955.2,966.5 L956.8,971.5 L954.3,969.0 L951.8,969.8 L951.0,973.2 L953.5,977.3 L957.7,980.7 L957.7,985.7 L953.5,988.7 L947.7,988.2 L945.2,985.7 L941.8,980.7 L939.3,975.7 L940.2,969.8 L942.7,965.7 L943.5,960.7 L938.5,959.0 L936.0,954.8 L934.3,957.3 L931.0,959.8 L926.0,960.7 L921.0,955.7 L918.5,953.2 L915.2,955.7 L912.7,951.5 L910.2,952.3 L906.0,955.7 L901.0,959.0" fill="none" stroke="#000080" stroke-width="1.6" stroke-linejoin="round"/>
<path d="M1220.5,869.8 L1225.5,872.3 L1230.5,874.8 L1231.3,878.2 L1228.8,881.5 L1229.7,885.7 L1226.3,892.3 L1223.8,899.0 L1221.3,906.5 L1218.8,914.0 L1216.3,921.5 L1213.0,927.3 L1208.8,934.0 L1205.5,939.8 L1204.7,945.7 L1203.0,949.8 L1201.3,947.3 L1199.7,942.3 L1195.5,937.3 L1191.3,932.3 L1188.0,925.7 L1185.5,919.0 L1186.3,912.3 L1188.0,905.7 L1192.2,898.2 L1198.0,889.8 L1203.8,882.3 L1209.7,875.7 L1216.3,872.3 L1220.5,869.8" fill="none" stroke="#000080" stroke-width="1.6" stroke-linejoin="round"/>
<path d="M961.8,991.5 L966.0,994.8 L970.2,998.2 L970.2,1003.2 L966.8,1005.7 L966.0,1010.7 L962.7,1015.7 L959.3,1022.3 L957.7,1026.5 L952.7,1029.0 L947.7,1032.3 L942.7,1035.7 L937.7,1038.2 L931.0,1037.3 L924.3,1034.8 L916.8,1032.3 L915.2,1025.7 L914.0,1019.0 L914.3,1012.3 L919.3,1008.2 L924.3,1004.0 L929.3,1000.7 L931.0,998.2 L937.7,996.5 L944.3,994.8 L951.0,994.8 L957.7,994.0 L961.8,991.5" fill="none" stroke="#000080" stroke-width="1.6" stroke-linejoin="round"/>
<path d="M1250.5,884.0 L1247.2,907.3 M1229.7,954.8 L1213.8,972.7 M1184.3,1019.0 L1172.7,1039.3 M930.7,1085.7 L936.0,1095.0 L940.7,1107.7 M1160.5,1090.0 L1160.5,1112.0" fill="none" stroke="#000" stroke-width="3.6" stroke-linecap="round"/>
<g transform="translate(1326,828) scale(0.14743)">
<clipPath id="ins"><rect x="63" y="63" width="1504" height="1849"/></clipPath>
<rect x="63" y="63" width="1504" height="1849" fill="#fff"/>
<g clip-path="url(#ins)">
<polygon points="63,63 980,63 930,75 880,90 840,95 800,110 790,135 770,160 740,170 720,150 700,170 660,165 640,185 600,175 560,190 520,185 480,205 440,210 420,225 425,250 405,265 420,290 430,305 400,315 375,305 365,280 350,250 355,215 345,195 300,195 250,180 210,200 160,190 120,175 85,150 63,140" fill="#FF962D"/>
<polyline points="980,63 930,75 880,90 840,95 800,110 790,135 770,160 740,170 720,150 700,170 660,165 640,185 600,175 560,190 520,185 480,205 440,210 420,225 425,250 405,265 420,290 430,305 400,315 375,305 365,280 350,250 355,215 345,195 300,195 250,180 210,200" fill="none" stroke="#000080" stroke-width="6"/>
<polygon points="195,70 230,70 240,92 200,92" fill="#FF8888" stroke="#c06060" stroke-width="2"/>
<polygon points="285,175 320,178 328,200 295,200" fill="#FF8888" stroke="#c06060" stroke-width="2"/>
<path d="M510,68 L470,100 440,130 410,150 380,175 355,198 M375,325 L410,320 440,305 M725,135 L740,105 780,100 795,130" fill="none" stroke="#B0B0B0" stroke-width="12" stroke-linejoin="round"/>
<polyline points="80,150 110,170 140,185 175,185 205,198" fill="none" stroke="#000" stroke-width="22" stroke-linecap="round" stroke-linejoin="round"/>
<polygon points="440,325 465,340 475,360 460,380 445,410 430,440 410,460 380,475 350,495 320,500 280,485 260,460 253,420 262,390 290,370 320,350 360,342 400,335" fill="#FF962D" stroke="#000080" stroke-width="6"/>
<polygon points="300,415 330,398 365,402 378,430 365,455 335,465 305,458" fill="#FFC080" stroke="#553" stroke-width="2"/>
<polygon points="1300,63 1320,100 1345,140 1360,165 1375,130 1390,95 1410,63" fill="#FF962D" stroke="#000080" stroke-width="6"/>
<path d="M1465,175L1375,295 M1292,415L1225,550 M1203,690L1205,835 M1205,1060L1145,1195 M290,648Q335,700 360,772 M403,1010Q425,1075 383,1138 M956,1424L861,1533 M529,1841Q590,1830 655,1808 M220,1472L227,1601 M397,1017Q414,1078 393,1126" fill="none" stroke="#000" stroke-width="21" stroke-linecap="round"/>
<ellipse cx="772" cy="716" rx="58" ry="26" transform="rotate(-24 772 716)" fill="none" stroke="#000080" stroke-width="7" stroke-dasharray="14 5"/>
<ellipse cx="800" cy="706" rx="22" ry="9" transform="rotate(-24 800 706)" fill="none" stroke="#000080" stroke-width="7" stroke-dasharray="9 5"/>
<g fill="#000080"><rect x="916" y="236" width="13" height="13"/><rect x="992" y="270" width="15" height="15"/><rect x="648" y="376" width="8" height="8"/><rect x="729" y="405" width="8" height="8"/><rect x="294" y="238" width="9" height="9"/><rect x="985" y="666" width="10" height="10"/><rect x="1082" y="771" width="10" height="10"/><rect x="864" y="883" width="8" height="8"/><rect x="1418" y="92" width="9" height="9"/><rect x="1424" y="146" width="11" height="11"/><rect x="1322" y="122" width="6" height="6"/><rect x="1359" y="175" width="6" height="6"/><rect x="551" y="611" width="9" height="9"/><rect x="515" y="662" width="11" height="11"/><rect x="587" y="713" width="10" height="10"/><rect x="511" y="649" width="9" height="9"/><rect x="539" y="665" width="9" height="9"/><rect x="621" y="607" width="10" height="10"/><rect x="594" y="669" width="9" height="9"/><rect x="586" y="644" width="10" height="10"/><rect x="511" y="705" width="11" height="11"/><rect x="562" y="661" width="14" height="14"/><rect x="548" y="700" width="10" height="10"/><rect x="519" y="667" width="10" height="10"/><rect x="558" y="664" width="9" height="9"/><rect x="583" y="673" width="12" height="12"/><rect x="600" y="647" width="11" height="11"/><rect x="570" y="714" width="11" height="11"/><rect x="547" y="697" width="10" height="10"/><rect x="515" y="630" width="12" height="12"/><rect x="627" y="688" width="11" height="11"/><rect x="588" y="598" width="14" height="14"/><rect x="564" y="692" width="10" height="10"/><rect x="636" y="647" width="9" height="9"/><rect x="804" y="1198" width="11" height="11"/><rect x="767" y="1158" width="12" height="12"/><rect x="789" y="1178" width="9" height="9"/><rect x="818" y="1179" width="15" height="15"/><rect x="743" y="1225" width="11" height="11"/><rect x="793" y="1271" width="12" height="12"/><rect x="760" y="1163" width="15" height="15"/><rect x="768" y="1262" width="11" height="11"/><rect x="753" y="1119" width="9" height="9"/><rect x="754" y="1146" width="15" height="15"/><rect x="759" y="1165" width="12" height="12"/><rect x="743" y="1175" width="14" height="14"/><rect x="761" y="1121" width="12" height="12"/><rect x="812" y="1146" width="12" height="12"/><rect x="823" y="1217" width="12" height="12"/><rect x="822" y="1124" width="10" height="10"/><rect x="752" y="1214" width="9" height="9"/><rect x="780" y="1201" width="11" height="11"/><rect x="761" y="1122" width="14" height="14"/><rect x="770" y="1197" width="10" height="10"/><rect x="796" y="1186" width="14" height="14"/><rect x="794" y="1227" width="12" height="12"/><rect x="814" y="1232" width="15" height="15"/><rect x="807" y="1166" width="12" height="12"/><rect x="771" y="1181" width="12" height="12"/><rect x="743" y="1110" width="10" height="10"/><rect x="774" y="1115" width="14" height="14"/><rect x="742" y="1098" width="10" height="10"/><rect x="783" y="1262" width="14" height="14"/><rect x="738" y="1249" width="14" height="14"/><rect x="969" y="1207" width="11" height="11"/><rect x="1017" y="1188" width="9" height="9"/><rect x="1066" y="1249" width="12" height="12"/><rect x="991" y="1168" width="10" height="10"/><rect x="912" y="1172" width="11" height="11"/><rect x="988" y="1212" width="14" height="14"/><rect x="894" y="1243" width="14" height="14"/><rect x="967" y="1214" width="9" height="9"/><rect x="1046" y="1164" width="15" height="15"/><rect x="1070" y="1214" width="11" height="11"/><rect x="998" y="1240" width="11" height="11"/><rect x="1049" y="1193" width="14" height="14"/><rect x="959" y="1158" width="10" height="10"/><rect x="1056" y="1227" width="15" height="15"/><rect x="1057" y="1154" width="12" height="12"/><rect x="965" y="1135" width="9" height="9"/><rect x="1055" y="1188" width="10" height="10"/><rect x="1034" y="1245" width="12" height="12"/><rect x="1058" y="1217" width="11" height="11"/><rect x="1089" y="1175" width="10" height="10"/><rect x="912" y="1187" width="11" height="11"/><rect x="931" y="1204" width="14" height="14"/><rect x="1063" y="1186" width="15" height="15"/><rect x="960" y="1206" width="15" height="15"/><rect x="913" y="1175" width="15" height="15"/><rect x="1047" y="1188" width="10" height="10"/><rect x="982" y="1208" width="9" height="9"/><rect x="1056" y="1247" width="12" height="12"/><rect x="988" y="1221" width="9" height="9"/><rect x="1042" y="1151" width="10" height="10"/><rect x="896" y="1201" width="12" height="12"/><rect x="1056" y="1146" width="14" height="14"/><rect x="1007" y="1297" width="11" height="11"/><rect x="864" y="1281" width="9" height="9"/><rect x="836" y="1343" width="15" height="15"/><rect x="854" y="1311" width="10" height="10"/><rect x="912" y="1330" width="10" height="10"/><rect x="839" y="1227" width="14" height="14"/><rect x="878" y="1286" width="11" height="11"/><rect x="932" y="1325" width="9" height="9"/><rect x="994" y="1250" width="12" height="12"/><rect x="950" y="1319" width="14" height="14"/><rect x="908" y="1335" width="14" height="14"/><rect x="857" y="1218" width="14" height="14"/><rect x="840" y="1264" width="10" height="10"/><rect x="943" y="1315" width="10" height="10"/><rect x="864" y="1266" width="15" height="15"/><rect x="855" y="1203" width="15" height="15"/><rect x="585" y="1386" width="9" height="9"/><rect x="643" y="1304" width="10" height="10"/><rect x="545" y="1420" width="14" height="14"/><rect x="575" y="1300" width="9" height="9"/><rect x="571" y="1393" width="14" height="14"/><rect x="598" y="1327" width="11" height="11"/><rect x="574" y="1381" width="12" height="12"/><rect x="581" y="1334" width="14" height="14"/><rect x="641" y="1449" width="11" height="11"/><rect x="649" y="1441" width="10" height="10"/><rect x="636" y="1318" width="9" height="9"/><rect x="563" y="1344" width="15" height="15"/><rect x="538" y="1304" width="15" height="15"/><rect x="551" y="1315" width="10" height="10"/><rect x="817" y="1432" width="11" height="11"/><rect x="712" y="1479" width="12" height="12"/><rect x="722" y="1492" width="12" height="12"/><rect x="808" y="1335" width="15" height="15"/><rect x="802" y="1337" width="12" height="12"/><rect x="824" y="1384" width="12" height="12"/><rect x="717" y="1366" width="15" height="15"/><rect x="741" y="1371" width="12" height="12"/><rect x="751" y="1309" width="11" height="11"/><rect x="763" y="1364" width="9" height="9"/><rect x="709" y="1487" width="10" height="10"/><rect x="821" y="1326" width="11" height="11"/><rect x="730" y="1484" width="10" height="10"/><rect x="729" y="1330" width="12" height="12"/><rect x="805" y="1438" width="11" height="11"/><rect x="745" y="1409" width="14" height="14"/><rect x="770" y="1444" width="9" height="9"/><rect x="731" y="1463" width="10" height="10"/><rect x="750" y="1321" width="9" height="9"/><rect x="778" y="1464" width="9" height="9"/><rect x="773" y="1349" width="11" height="11"/><rect x="807" y="1395" width="11" height="11"/><rect x="639" y="1646" width="11" height="11"/><rect x="618" y="1603" width="15" height="15"/><rect x="602" y="1613" width="10" height="10"/><rect x="603" y="1620" width="11" height="11"/><rect x="621" y="1659" width="10" height="10"/><rect x="605" y="1656" width="10" height="10"/><rect x="603" y="1688" width="11" height="11"/><rect x="590" y="1601" width="14" height="14"/><rect x="616" y="1621" width="12" height="12"/><rect x="600" y="1647" width="15" height="15"/><rect x="673" y="1576" width="9" height="9"/><rect x="574" y="1766" width="9" height="9"/><rect x="995" y="1066" width="9" height="9"/><rect x="930" y="1110" width="9" height="9"/></g>
</g>
<rect x="63" y="63" width="1504" height="1849" fill="none" stroke="#111" stroke-width="8"/>
</g>
<text class="in" x="1450.3" y="1077.2">South China</text><text class="in" x="1450.3" y="1090.2">Sea Islands</text><text class="in" x="1450.3" y="1103.1">Scale 1:28 000 000</text>
<g fill="#000080"><rect x="1218.8" y="931.4" width="1.8" height="1.8"/><rect x="1219.6" y="945.6" width="1.8" height="1.8"/><rect x="1191.8" y="938.9" width="1.8" height="1.8"/><rect x="1202.1" y="952.8" width="1.8" height="1.8"/><rect x="1270.4" y="853.9" width="1.8" height="1.8"/><rect x="1266.3" y="858.1" width="1.8" height="1.8"/><rect x="1291.3" y="853.9" width="1.8" height="1.8"/><rect x="1232.1" y="860.6" width="1.8" height="1.8"/><rect x="1228.8" y="865.6" width="1.8" height="1.8"/><rect x="1182.4" y="846.1" width="1.8" height="1.8"/><rect x="1171.3" y="870.6" width="1.8" height="1.8"/><rect x="1172.9" y="907.3" width="1.8" height="1.8"/><rect x="1172.1" y="909.8" width="1.8" height="1.8"/><rect x="1173.8" y="911.4" width="1.8" height="1.8"/><rect x="1167.9" y="914.8" width="1.8" height="1.8"/><rect x="1170.4" y="917.3" width="1.8" height="1.8"/><rect x="1174.6" y="917.3" width="1.8" height="1.8"/><rect x="924.3" y="969.8" width="1.8" height="1.8"/><rect x="959.3" y="973.1" width="1.8" height="1.8"/><rect x="956.8" y="979.8" width="1.8" height="1.8"/><rect x="1006.8" y="956.4" width="1.8" height="1.8"/><rect x="1010.9" y="953.9" width="1.8" height="1.8"/><rect x="1086.8" y="968.9" width="1.8" height="1.8"/><rect x="1088.1" y="971.4" width="1.8" height="1.8"/><rect x="1107.6" y="978.9" width="1.8" height="1.8"/><rect x="1106.4" y="977.3" width="1.8" height="1.8"/><rect x="1016.8" y="1006.1" width="1.8" height="1.8"/><rect x="1036.8" y="1013.6" width="1.8" height="1.8"/><rect x="1023.4" y="947.3" width="1.8" height="1.8"/><rect x="1033.4" y="946.4" width="1.8" height="1.8"/><rect x="1040.1" y="950.6" width="1.8" height="1.8"/><rect x="1043.4" y="947.3" width="1.8" height="1.8"/><rect x="1113.4" y="913.1" width="1.8" height="1.8"/><rect x="1242.1" y="739.4" width="1.8" height="1.8"/><rect x="1238.8" y="746.1" width="1.8" height="1.8"/><rect x="1233.8" y="750.3" width="1.8" height="1.8"/><rect x="1237.1" y="760.3" width="1.8" height="1.8"/><rect x="1233.8" y="763.6" width="1.8" height="1.8"/><rect x="1238.8" y="759.4" width="1.8" height="1.8"/><rect x="1212.1" y="801.1" width="1.8" height="1.8"/><rect x="1190.4" y="829.4" width="1.8" height="1.8"/><rect x="1186.3" y="838.6" width="1.8" height="1.8"/><rect x="1182.9" y="835.3" width="1.8" height="1.8"/><rect x="1202.1" y="508.3" width="1.8" height="1.8"/><rect x="1253.8" y="530.8" width="1.8" height="1.8"/><rect x="1238.4" y="539.1" width="1.8" height="1.8"/><rect x="1243.8" y="537.4" width="1.8" height="1.8"/><rect x="1247.1" y="538.3" width="1.8" height="1.8"/><rect x="1247.9" y="542.9" width="1.8" height="1.8"/><rect x="1257.9" y="542.1" width="1.8" height="1.8"/><rect x="1202.6" y="559.4" width="1.8" height="1.8"/><rect x="1200.4" y="568.3" width="1.8" height="1.8"/><rect x="990.2" y="1077.4" width="1.4" height="1.4"/><rect x="994.5" y="1079.0" width="1.4" height="1.4"/><rect x="1002.9" y="1065.0" width="1.4" height="1.4"/><rect x="982.7" y="1085.1" width="1.4" height="1.4"/><rect x="990.9" y="1069.4" width="1.4" height="1.4"/><rect x="1015.2" y="1075.5" width="1.4" height="1.4"/><rect x="1009.9" y="1075.7" width="1.4" height="1.4"/><rect x="1003.4" y="1067.2" width="1.4" height="1.4"/><rect x="1003.3" y="1085.9" width="1.4" height="1.4"/><rect x="999.6" y="1082.6" width="1.4" height="1.4"/><rect x="1004.5" y="1065.0" width="1.4" height="1.4"/><rect x="1007.3" y="1078.7" width="1.4" height="1.4"/><rect x="992.2" y="1064.1" width="1.4" height="1.4"/><rect x="1010.9" y="1075.6" width="1.4" height="1.4"/><rect x="1106.2" y="1079.2" width="1.6" height="1.6"/><rect x="1131.2" y="1111.2" width="1.6" height="1.6"/><rect x="1084.2" y="969.2" width="1.6" height="1.6"/><rect x="1107.2" y="977.2" width="1.6" height="1.6"/><rect x="1111.2" y="980.2" width="1.6" height="1.6"/></g>
<ellipse cx="1050" cy="1095" rx="9.5" ry="5" transform="rotate(-22 1050 1095)" fill="none" stroke="#000080" stroke-width="1.1" stroke-dasharray="2.5 1"/>

<g fill="none" stroke="#333" stroke-width="1.1">
<rect x="68.5" y="141.5" width="1495.3" height="972.9" stroke-width="1.6"/>
<path d="M115.7 141.5v-6.8 M115.7 1114.4v6.8 M234.4 141.5v-11.6 M234.4 1114.4v11.6 M353.1 141.5v-6.8 M353.1 1114.4v6.8 M471.8 141.5v-11.6 M471.8 1114.4v11.6 M590.5 141.5v-6.8 M590.5 1114.4v6.8 M709.2 141.5v-11.6 M709.2 1114.4v11.6 M827.9 141.5v-6.8 M827.9 1114.4v6.8 M946.5 141.5v-11.6 M946.5 1114.4v11.6 M1065.2 141.5v-6.8 M1065.2 1114.4v6.8 M1183.9 141.5v-11.6 M1183.9 1114.4v11.6 M1302.6 141.5v-6.8 M1302.6 1114.4v6.8 M1421.3 141.5v-11.6 M1421.3 1114.4v11.6 M1540.0 141.5v-6.8 M1540.0 1114.4v6.8 M68.5 1113.6h-6.8 M1563.8 1113.6h6.8 M68.5 995.0h-11.6 M1563.8 995.0h11.6 M68.5 876.4h-6.8 M1563.8 876.4h6.8 M68.5 757.8h-11.6 M1563.8 757.8h11.6 M68.5 639.2h-6.8 M1563.8 639.2h6.8 M68.5 520.6h-11.6 M1563.8 520.6h11.6 M68.5 402.0h-6.8 M1563.8 402.0h6.8 M68.5 283.4h-11.6 M1563.8 283.4h11.6 M68.5 164.8h-6.8 M1563.8 164.8h6.8 "/>
</g>
<text class="ax" x="234.4" y="113.2" text-anchor="middle">80E</text>
<text class="ax" x="234.4" y="1160.3" text-anchor="middle">80E</text>
<text class="ax" x="471.8" y="113.2" text-anchor="middle">90E</text>
<text class="ax" x="471.8" y="1160.3" text-anchor="middle">90E</text>
<text class="ax" x="709.2" y="113.2" text-anchor="middle">100E</text>
<text class="ax" x="709.2" y="1160.3" text-anchor="middle">100E</text>
<text class="ax" x="946.5" y="113.2" text-anchor="middle">110E</text>
<text class="ax" x="946.5" y="1160.3" text-anchor="middle">110E</text>
<text class="ax" x="1183.9" y="113.2" text-anchor="middle">120E</text>
<text class="ax" x="1183.9" y="1160.3" text-anchor="middle">120E</text>
<text class="ax" x="1421.3" y="113.2" text-anchor="middle">130E</text>
<text class="ax" x="1421.3" y="1160.3" text-anchor="middle">130E</text>
<text class="ax" x="42.5" y="1003.6" text-anchor="end">20N</text>
<text class="ax" x="1590" y="1003.6">20N</text>
<text class="ax" x="42.5" y="766.4" text-anchor="end">30N</text>
<text class="ax" x="1590" y="766.4">30N</text>
<text class="ax" x="42.5" y="529.2" text-anchor="end">40N</text>
<text class="ax" x="1590" y="529.2">40N</text>
<text class="ax" x="42.5" y="292.0" text-anchor="end">50N</text>
<text class="ax" x="1590" y="292.0">50N</text>
<g stroke="#222" stroke-width="0.7">
<path d="M335.0 1190.5L286.5 1203.2L335.0 1215.8Z" fill="#000033" stroke="none"/>
<rect x="335.00" y="1190.5" width="49.06" height="25.3" fill="#0000A0"/>
<rect x="384.06" y="1190.5" width="49.06" height="25.3" fill="#0000FF"/>
<rect x="433.12" y="1190.5" width="49.06" height="25.3" fill="#0A46F0"/>
<rect x="482.18" y="1190.5" width="49.06" height="25.3" fill="#0C96FA"/>
<rect x="531.24" y="1190.5" width="49.06" height="25.3" fill="#00C8FA"/>
<rect x="580.29" y="1190.5" width="49.06" height="25.3" fill="#32FAFA"/>
<rect x="629.35" y="1190.5" width="49.06" height="25.3" fill="#96FAFA"/>
<rect x="678.41" y="1190.5" width="49.06" height="25.3" fill="#FFFFF0"/>
<rect x="727.47" y="1190.5" width="49.06" height="25.3" fill="#FFFFC8"/>
<rect x="776.53" y="1190.5" width="49.06" height="25.3" fill="#FFFF50"/>
<rect x="825.59" y="1190.5" width="49.06" height="25.3" fill="#F5F00A"/>
<rect x="874.65" y="1190.5" width="49.06" height="25.3" fill="#FFC080"/>
<rect x="923.71" y="1190.5" width="49.06" height="25.3" fill="#FF962D"/>
<rect x="972.76" y="1190.5" width="49.06" height="25.3" fill="#FF8888"/>
<rect x="1021.82" y="1190.5" width="49.06" height="25.3" fill="#FA0000"/>
<rect x="1070.88" y="1190.5" width="49.06" height="25.3" fill="#A50010"/>
<rect x="1119.94" y="1190.5" width="49.06" height="25.3" fill="#690019"/>
<path d="M1169.0 1190.5L1218.5 1203.2L1169.0 1215.8Z" fill="#460010" stroke="none"/>
</g>
<text class="cb" x="335.0" y="1240.6" text-anchor="middle">-32</text>
<text class="cb" x="384.1" y="1240.6" text-anchor="middle">-28</text>
<text class="cb" x="433.1" y="1240.6" text-anchor="middle">-24</text>
<text class="cb" x="482.2" y="1240.6" text-anchor="middle">-20</text>
<text class="cb" x="531.2" y="1240.6" text-anchor="middle">-15</text>
<text class="cb" x="580.3" y="1240.6" text-anchor="middle">-10</text>
<text class="cb" x="629.4" y="1240.6" text-anchor="middle">-5</text>
<text class="cb" x="678.4" y="1240.6" text-anchor="middle">0</text>
<text class="cb" x="727.5" y="1240.6" text-anchor="middle">5</text>
<text class="cb" x="776.5" y="1240.6" text-anchor="middle">10</text>
<text class="cb" x="825.6" y="1240.6" text-anchor="middle">15</text>
<text class="cb" x="874.6" y="1240.6" text-anchor="middle">20</text>
<text class="cb" x="923.7" y="1240.6" text-anchor="middle">25</text>
<text class="cb" x="972.8" y="1240.6" text-anchor="middle">30</text>
<text class="cb" x="1021.8" y="1240.6" text-anchor="middle">35</text>
<text class="cb" x="1070.9" y="1240.6" text-anchor="middle">38</text>
<text class="cb" x="1119.9" y="1240.6" text-anchor="middle">40</text>
<text class="cb" x="1169.0" y="1240.6" text-anchor="middle">42</text>
<text class="u" x="1231" y="1223">degC</text>
<text class="sm" x="82" y="1101.3">Scale 1:14 000 000</text>
</svg></body></html>
